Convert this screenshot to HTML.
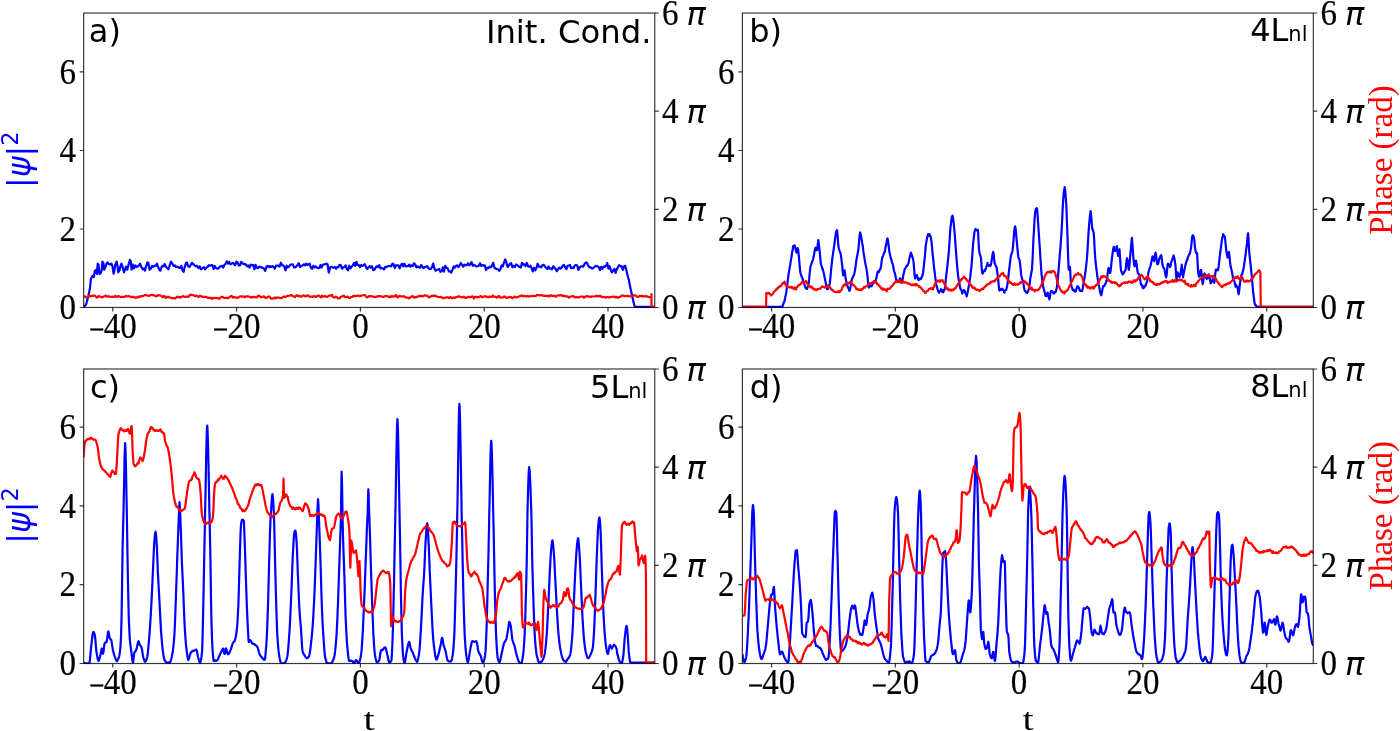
<!DOCTYPE html>
<html lang="en"><head><meta charset="utf-8"><title>Figure</title>
<style>html,body{margin:0;padding:0;background:#fff}svg{display:block}.tk{font-family:"Liberation Serif", serif;font-size:33px;fill:#000;stroke:#000;stroke-width:0.2px}.mn{font-size:27px}.pi{font-family:"DejaVu Sans", "Liberation Sans", sans-serif;font-style:italic;font-size:32px;fill:#000}.lb{font-family:"DejaVu Sans", "Liberation Sans", sans-serif;font-size:32px;fill:#000}.sm{font-family:"DejaVu Sans", "Liberation Sans", sans-serif;font-size:21px;fill:#000}.sp{fill:none;stroke:#000;stroke-opacity:0.78;stroke-width:1.2}.bl{fill:none;stroke:#0000ff;stroke-width:2.2;stroke-linejoin:round;stroke-linecap:butt}.rd{fill:none;stroke:#ff0000;stroke-width:2.2;stroke-linejoin:round;stroke-linecap:butt}</style></head><body>
<svg width="1400" height="731" viewBox="0 0 1400 731">
<rect width="1400" height="731" fill="#fff"/>
<defs>
<clipPath id="cpa"><rect x="83.65" y="13.05" width="571.1" height="295.1"/></clipPath>
<clipPath id="cpb"><rect x="742.4" y="13.05" width="570.9" height="295.1"/></clipPath>
<clipPath id="cpc"><rect x="83.65" y="369.0" width="571.1" height="295.1"/></clipPath>
<clipPath id="cpd"><rect x="742.4" y="369.0" width="570.9" height="295.1"/></clipPath>
</defs>
<g id="panel-a">
<g clip-path="url(#cpa)">
<path class="bl" d="M83.7,306.9 L86.0,304.8 L88.7,294.6 L90.0,287.7 L90.9,279.1 L92.1,276.6 L93.0,275.7 L93.9,277.0 L94.7,271.4 L95.6,270.1 L96.9,274.0 L97.7,263.7 L98.6,265.0 L99.4,274.0 L100.7,273.1 L101.6,270.6 L102.4,261.6 L103.3,262.9 L104.1,269.7 L105.4,267.1 L106.5,263.7 L107.6,262.4 L108.9,264.1 L110.1,264.6 L111.4,263.7 L112.5,266.3 L113.6,273.6 L114.4,270.6 L115.3,264.6 L116.6,261.6 L117.4,265.0 L118.3,272.3 L119.6,270.1 L120.4,266.3 L121.5,263.7 L122.6,267.1 L123.9,272.3 L125.0,269.3 L126.0,266.7 L127.3,269.7 L128.6,264.6 L129.9,259.9 L130.7,261.1 L131.6,269.7 L132.9,264.6 L134.1,268.4 L135.4,265.4 L136.7,267.1 L138.0,266.3 L139.3,265.0 L140.1,263.7 L141.4,267.1 L142.7,269.3 L144.0,268.4 L144.9,270.6 L146.1,266.3 L147.4,262.4 L148.3,262.9 L149.6,269.7 L150.9,268.4 L152.1,265.9 L153.4,266.7 L154.7,265.9 L156.0,265.4 L156.9,263.7 L158.1,267.1 L159.4,269.7 L160.3,270.6 L161.6,267.1 L162.4,265.9 L163.7,266.3 L164.6,264.1 L165.9,266.7 L167.1,268.0 L168.4,269.3 L169.7,265.4 L171.0,261.6 L172.3,263.7 L173.6,265.9 L174.9,265.4 L176.1,267.1 L177.4,266.7 L178.7,267.6 L180.0,268.0 L181.3,265.9 L182.6,270.6 L183.6,271.9 L184.7,267.1 L186.0,262.9 L186.9,262.4 L188.1,266.3 L189.4,267.1 L190.7,265.0 L192.0,262.9 L193.3,264.1 L194.6,265.4 L195.9,266.3 L197.1,265.9 L198.4,268.0 L199.7,266.3 L201.0,269.3 L202.3,268.4 L204.0,267.1 L205.2,269.4 L206.4,267.8 L207.6,266.7 L208.8,265.2 L210.0,265.7 L211.2,265.2 L212.4,265.2 L213.6,269.0 L214.8,266.0 L216.0,268.0 L217.2,268.6 L218.4,268.7 L219.6,266.8 L220.8,266.2 L222.0,265.8 L223.2,267.5 L224.4,264.7 L225.6,264.1 L226.8,261.3 L228.0,263.6 L229.2,262.0 L230.4,264.2 L231.6,263.7 L232.8,262.8 L234.0,263.9 L235.2,265.2 L236.4,261.7 L237.6,262.2 L238.8,265.5 L240.0,265.5 L241.2,261.9 L242.4,263.1 L243.6,264.2 L244.8,263.9 L246.0,264.7 L247.2,266.4 L248.4,265.5 L249.6,267.7 L250.8,264.6 L252.0,265.2 L253.2,265.0 L254.4,269.2 L255.6,264.9 L256.8,267.8 L258.0,268.3 L259.2,266.7 L260.4,266.8 L261.6,267.6 L262.8,267.7 L264.0,268.8 L265.2,270.9 L266.4,266.8 L267.6,265.8 L268.8,267.2 L270.0,266.1 L271.2,267.0 L272.4,266.2 L273.6,266.7 L274.8,268.7 L276.0,265.6 L277.2,265.6 L278.4,265.5 L279.6,266.6 L280.8,262.7 L282.0,264.9 L283.2,265.5 L284.4,266.9 L285.6,270.3 L286.8,265.7 L288.0,267.3 L289.2,266.3 L290.4,264.5 L291.6,264.5 L292.8,264.4 L294.0,267.4 L295.2,267.3 L296.4,266.4 L297.6,264.8 L298.8,263.2 L300.0,267.1 L301.2,265.8 L302.4,265.6 L303.6,264.5 L304.8,265.4 L306.0,263.7 L307.2,265.0 L308.4,264.3 L309.6,263.6 L310.8,267.5 L312.0,268.9 L313.2,265.8 L314.4,267.4 L315.6,266.4 L316.8,267.6 L318.0,268.2 L319.2,268.0 L320.4,265.1 L321.6,267.6 L322.8,264.7 L324.0,264.4 L325.2,264.1 L326.4,263.7 L327.6,264.5 L328.8,272.7 L330.0,267.7 L331.2,266.9 L332.4,267.3 L333.6,267.6 L334.8,266.8 L336.0,268.7 L337.2,267.1 L338.4,267.1 L339.6,264.8 L340.8,265.2 L342.0,268.6 L343.2,267.4 L344.4,266.9 L345.6,265.4 L346.8,268.8 L348.0,270.3 L349.2,265.7 L350.4,268.3 L351.6,266.8 L352.8,265.4 L354.0,262.9 L355.2,265.8 L356.4,261.9 L357.6,265.0 L358.8,265.1 L360.0,267.1 L361.2,265.0 L362.4,266.0 L363.6,265.1 L364.8,264.1 L366.0,267.2 L367.2,269.0 L368.4,267.5 L369.6,266.1 L370.8,267.4 L372.0,266.2 L373.2,270.1 L374.4,269.8 L375.6,267.7 L376.8,266.3 L378.0,267.0 L379.2,265.2 L380.4,268.3 L381.6,268.0 L382.8,268.3 L384.0,269.4 L385.2,266.9 L386.4,267.1 L387.6,266.3 L388.8,266.0 L390.0,266.0 L391.2,266.3 L392.4,263.7 L393.6,264.3 L394.8,268.0 L396.0,265.4 L397.2,265.3 L398.4,265.3 L399.6,268.3 L400.8,265.2 L402.0,263.8 L403.2,266.3 L404.4,263.7 L405.6,266.3 L406.8,266.1 L408.0,266.2 L409.2,264.6 L410.4,266.6 L411.6,265.3 L412.8,266.1 L414.0,263.3 L415.2,264.5 L416.4,267.4 L417.6,266.4 L418.8,267.3 L420.0,267.7 L421.2,264.9 L422.4,266.9 L423.6,268.1 L424.8,267.1 L426.0,266.8 L427.2,266.1 L428.4,268.2 L429.6,269.0 L430.8,269.0 L432.0,267.1 L433.2,263.5 L434.4,268.4 L435.6,270.7 L436.8,270.1 L438.0,269.6 L439.2,268.9 L440.4,271.8 L441.6,271.3 L442.8,267.4 L444.0,271.6 L445.2,265.9 L446.4,267.7 L447.6,268.2 L448.8,271.3 L450.0,271.3 L451.2,272.6 L452.4,270.0 L453.6,266.5 L454.8,267.8 L456.0,265.7 L457.2,265.4 L458.4,267.1 L459.6,265.4 L460.8,263.0 L462.0,264.8 L463.2,266.6 L464.4,264.7 L465.6,265.3 L466.8,265.2 L468.0,263.3 L469.2,265.3 L470.4,264.1 L471.6,262.1 L472.8,265.8 L474.0,264.9 L475.2,265.5 L476.4,266.5 L477.6,266.2 L478.8,265.8 L480.0,263.3 L481.2,265.9 L482.4,265.0 L483.6,265.7 L484.8,265.3 L486.0,270.1 L487.2,267.7 L488.4,268.2 L489.6,266.7 L490.8,267.3 L492.0,265.6 L493.2,262.8 L494.4,267.8 L495.6,268.5 L496.8,269.1 L498.0,269.4 L499.2,270.9 L500.4,269.3 L501.6,265.5 L502.8,266.3 L504.0,262.6 L505.2,259.5 L506.4,262.5 L507.6,267.0 L508.8,265.5 L510.0,263.8 L511.2,263.2 L512.4,267.2 L513.6,265.9 L514.8,267.0 L516.0,264.4 L517.2,264.9 L518.4,266.2 L519.6,267.0 L520.8,267.5 L522.0,262.8 L523.2,264.8 L524.4,264.4 L525.6,266.0 L526.8,263.0 L528.0,266.2 L529.2,266.8 L530.4,265.7 L531.6,268.1 L532.8,271.5 L534.0,267.8 L535.2,270.4 L536.4,268.0 L537.6,263.7 L538.8,266.6 L540.0,266.5 L541.2,267.4 L542.4,265.3 L543.6,264.8 L544.8,266.3 L546.0,267.8 L547.2,269.0 L548.4,266.4 L549.6,268.6 L550.8,268.4 L552.0,269.4 L553.2,266.3 L554.4,267.6 L555.6,268.8 L556.8,271.2 L558.0,269.3 L559.2,267.7 L560.4,268.7 L561.6,267.7 L562.8,265.6 L564.0,264.9 L565.2,267.3 L566.4,269.1 L567.6,265.8 L568.8,265.5 L570.0,265.0 L571.2,268.3 L572.4,267.5 L573.6,268.1 L574.8,265.6 L576.0,265.1 L577.2,265.6 L578.4,269.9 L579.6,267.4 L580.8,266.5 L582.0,266.2 L583.2,266.7 L584.4,264.2 L585.6,262.7 L586.8,262.5 L588.0,265.1 L589.2,267.1 L590.4,267.2 L591.6,268.3 L592.8,268.3 L594.0,267.3 L595.2,266.2 L596.4,266.1 L597.6,266.3 L598.8,267.1 L600.0,270.1 L601.2,266.9 L602.4,268.7 L603.6,266.5 L604.8,266.9 L606.0,265.8 L607.2,263.1 L608.4,268.6 L609.6,266.2 L610.8,269.9 L612.0,272.4 L613.2,270.4 L614.4,268.8 L615.6,273.0 L616.8,269.2 L618.0,267.0 L619.2,265.2 L620.4,266.3 L621.6,266.2 L622.8,269.9 L624.0,266.4 L625.2,265.8 L626.4,270.6 L627.6,275.5 L628.8,279.8 L630.0,286.1 L631.2,291.6 L632.4,297.0 L633.6,302.4 L634.8,306.8 L636.0,306.8 L637.2,306.8 L638.4,306.8 L639.6,306.8 L640.8,306.8 L642.0,306.8 L643.2,306.8 L644.4,306.8 L645.6,306.8 L646.8,306.8 L648.0,306.8 L649.2,306.8 L650.4,306.8 L651.6,306.8 L652.8,306.8 L654.0,306.8"/>
<path class="rd" d="M83.9,296.4 L84.9,296.4 L85.9,297.3 L86.9,297.4 L87.9,296.5 L88.9,296.1 L89.9,296.1 L90.9,296.3 L91.9,295.6 L92.9,295.8 L93.9,295.7 L94.9,295.7 L95.9,296.5 L96.9,297.7 L97.9,297.0 L98.9,296.0 L99.9,296.6 L100.9,296.9 L101.9,297.5 L102.9,297.1 L103.9,296.5 L104.9,296.1 L105.9,295.6 L106.9,296.4 L107.9,296.9 L108.9,296.2 L109.9,296.6 L110.9,296.8 L111.9,296.8 L112.9,296.7 L113.9,297.0 L114.9,296.3 L115.9,295.8 L116.9,297.2 L117.9,296.4 L118.9,296.1 L119.9,296.8 L120.9,297.1 L121.9,296.9 L122.9,296.8 L123.9,297.1 L124.9,296.7 L125.9,295.9 L126.9,296.2 L127.9,296.5 L128.9,296.2 L129.9,296.4 L130.9,297.0 L131.9,297.3 L132.9,296.7 L133.9,297.1 L134.9,297.7 L135.9,297.4 L136.9,297.7 L137.9,297.1 L138.9,296.3 L139.9,297.0 L140.9,296.2 L141.9,296.2 L142.9,296.0 L143.9,295.5 L144.9,295.0 L145.9,294.9 L146.9,295.4 L147.9,295.7 L148.9,296.0 L149.9,295.5 L150.9,295.1 L151.9,294.7 L152.9,295.2 L153.9,295.4 L154.9,295.7 L155.9,296.4 L156.9,296.1 L157.9,295.1 L158.9,295.3 L159.9,295.4 L160.9,295.5 L161.9,296.5 L162.9,297.3 L163.9,296.0 L164.9,296.5 L165.9,297.9 L166.9,297.3 L167.9,296.7 L168.9,297.3 L169.9,297.4 L170.9,297.8 L171.9,298.2 L172.9,298.2 L173.9,298.2 L174.9,298.5 L175.9,298.0 L176.9,296.8 L177.9,296.6 L178.9,297.4 L179.9,297.1 L180.9,297.3 L181.9,296.8 L182.9,296.0 L183.9,296.6 L184.9,296.8 L185.9,296.6 L186.9,296.5 L187.9,297.0 L188.9,296.5 L189.9,294.8 L190.9,294.6 L191.9,295.2 L192.9,295.0 L193.9,295.3 L194.9,296.2 L195.9,295.8 L196.9,295.5 L197.9,297.0 L198.9,296.8 L199.9,295.6 L200.9,296.2 L201.9,296.9 L202.9,296.5 L203.9,296.9 L204.9,297.0 L205.9,296.8 L206.9,297.4 L207.9,298.0 L208.9,297.7 L209.9,297.8 L210.9,297.8 L211.9,298.9 L212.9,297.9 L213.9,298.1 L214.9,298.2 L215.9,297.8 L216.9,298.1 L217.9,298.2 L218.9,298.7 L219.9,298.2 L220.9,297.2 L221.9,296.7 L222.9,297.1 L223.9,297.7 L224.9,298.1 L225.9,298.0 L226.9,297.7 L227.9,298.2 L228.9,297.6 L229.9,296.7 L230.9,296.1 L231.9,296.2 L232.9,297.6 L233.9,296.9 L234.9,297.2 L235.9,297.7 L236.9,297.7 L237.9,297.9 L238.9,297.0 L239.9,296.5 L240.9,296.3 L241.9,296.7 L242.9,296.4 L243.9,296.5 L244.9,297.3 L245.9,296.4 L246.9,296.3 L247.9,296.3 L248.9,296.5 L249.9,297.2 L250.9,297.0 L251.9,297.6 L252.9,296.7 L253.9,297.1 L254.9,297.2 L255.9,297.4 L256.9,297.3 L257.9,295.8 L258.9,295.6 L259.9,296.3 L260.9,297.3 L261.9,296.9 L262.9,296.8 L263.9,296.3 L264.9,297.1 L265.9,298.1 L266.9,297.6 L267.9,297.0 L268.9,296.3 L269.9,297.1 L270.9,298.7 L271.9,298.6 L272.9,298.4 L273.9,298.5 L274.9,297.5 L275.9,298.2 L276.9,297.7 L277.9,297.4 L278.9,297.7 L279.9,298.0 L280.9,298.1 L281.9,297.9 L282.9,297.1 L283.9,296.5 L284.9,296.7 L285.9,296.8 L286.9,296.0 L287.9,295.8 L288.9,295.8 L289.9,295.5 L290.9,295.1 L291.9,295.3 L292.9,296.0 L293.9,296.4 L294.9,297.2 L295.9,295.9 L296.9,295.1 L297.9,296.1 L298.9,296.1 L299.9,295.8 L300.9,296.8 L301.9,296.5 L302.9,295.5 L303.9,295.3 L304.9,296.1 L305.9,296.4 L306.9,295.7 L307.9,295.2 L308.9,296.2 L309.9,296.9 L310.9,296.6 L311.9,296.5 L312.9,296.9 L313.9,296.1 L314.9,296.4 L315.9,296.9 L316.9,296.5 L317.9,295.5 L318.9,295.7 L319.9,296.5 L320.9,297.5 L321.9,295.7 L322.9,296.6 L323.9,296.5 L324.9,296.0 L325.9,296.6 L326.9,296.8 L327.9,296.6 L328.9,295.5 L329.9,295.7 L330.9,295.6 L331.9,294.8 L332.9,296.9 L333.9,297.4 L334.9,297.5 L335.9,296.7 L336.9,297.2 L337.9,298.4 L338.9,298.5 L339.9,297.8 L340.9,296.8 L341.9,296.7 L342.9,296.0 L343.9,295.7 L344.9,297.0 L345.9,297.2 L346.9,296.7 L347.9,296.8 L348.9,297.9 L349.9,298.0 L350.9,297.0 L351.9,297.0 L352.9,296.3 L353.9,295.7 L354.9,296.3 L355.9,295.9 L356.9,295.8 L357.9,295.5 L358.9,295.6 L359.9,296.2 L360.9,295.7 L361.9,295.5 L362.9,295.3 L363.9,295.0 L364.9,295.0 L365.9,296.3 L366.9,297.4 L367.9,297.0 L368.9,296.1 L369.9,296.5 L370.9,296.1 L371.9,296.2 L372.9,296.6 L373.9,296.8 L374.9,297.1 L375.9,296.8 L376.9,296.7 L377.9,296.1 L378.9,296.2 L379.9,296.2 L380.9,296.3 L381.9,296.6 L382.9,296.8 L383.9,297.0 L384.9,296.0 L385.9,296.0 L386.9,296.2 L387.9,296.4 L388.9,297.2 L389.9,297.1 L390.9,296.1 L391.9,296.9 L392.9,296.2 L393.9,296.5 L394.9,296.4 L395.9,294.9 L396.9,296.5 L397.9,297.5 L398.9,296.1 L399.9,295.9 L400.9,296.3 L401.9,296.6 L402.9,296.4 L403.9,296.2 L404.9,297.0 L405.9,297.5 L406.9,297.6 L407.9,297.6 L408.9,298.3 L409.9,297.6 L410.9,297.0 L411.9,296.4 L412.9,296.1 L413.9,297.7 L414.9,297.4 L415.9,297.2 L416.9,297.2 L417.9,296.3 L418.9,296.1 L419.9,296.2 L420.9,295.7 L421.9,296.3 L422.9,296.3 L423.9,295.8 L424.9,295.2 L425.9,295.6 L426.9,296.1 L427.9,296.2 L428.9,297.3 L429.9,297.2 L430.9,296.2 L431.9,295.8 L432.9,295.7 L433.9,295.8 L434.9,295.6 L435.9,296.1 L436.9,296.4 L437.9,297.0 L438.9,297.2 L439.9,297.0 L440.9,296.9 L441.9,297.4 L442.9,298.2 L443.9,298.1 L444.9,297.7 L445.9,297.7 L446.9,297.3 L447.9,297.3 L448.9,298.2 L449.9,297.2 L450.9,297.2 L451.9,298.2 L452.9,297.8 L453.9,297.4 L454.9,297.9 L455.9,297.0 L456.9,297.1 L457.9,296.6 L458.9,296.3 L459.9,296.8 L460.9,296.9 L461.9,297.4 L462.9,297.4 L463.9,296.7 L464.9,297.6 L465.9,298.1 L466.9,297.5 L467.9,297.0 L468.9,296.7 L469.9,297.1 L470.9,297.2 L471.9,296.3 L472.9,296.5 L473.9,298.5 L474.9,296.8 L475.9,296.8 L476.9,297.4 L477.9,296.9 L478.9,297.1 L479.9,296.5 L480.9,296.1 L481.9,297.2 L482.9,297.1 L483.9,296.4 L484.9,296.4 L485.9,296.4 L486.9,297.1 L487.9,296.9 L488.9,297.1 L489.9,296.5 L490.9,297.0 L491.9,296.9 L492.9,295.5 L493.9,296.5 L494.9,296.9 L495.9,296.9 L496.9,297.8 L497.9,296.7 L498.9,296.0 L499.9,297.3 L500.9,297.4 L501.9,297.6 L502.9,297.5 L503.9,296.5 L504.9,296.7 L505.9,297.5 L506.9,298.0 L507.9,297.5 L508.9,297.2 L509.9,297.3 L510.9,296.9 L511.9,298.2 L512.9,298.1 L513.9,296.9 L514.9,296.6 L515.9,297.3 L516.9,297.5 L517.9,296.9 L518.9,296.4 L519.9,296.3 L520.9,295.7 L521.9,295.3 L522.9,296.3 L523.9,296.1 L524.9,295.8 L525.9,296.5 L526.9,296.3 L527.9,295.8 L528.9,296.6 L529.9,296.5 L530.9,295.8 L531.9,296.0 L532.9,296.3 L533.9,295.8 L534.9,296.1 L535.9,296.0 L536.9,294.9 L537.9,295.0 L538.9,295.3 L539.9,295.4 L540.9,294.9 L541.9,295.2 L542.9,295.7 L543.9,295.9 L544.9,295.7 L545.9,296.1 L546.9,295.9 L547.9,295.6 L548.9,296.5 L549.9,295.8 L550.9,295.2 L551.9,296.0 L552.9,295.8 L553.9,295.7 L554.9,296.2 L555.9,296.7 L556.9,295.6 L557.9,295.4 L558.9,295.5 L559.9,295.2 L560.9,295.4 L561.9,295.4 L562.9,296.3 L563.9,295.7 L564.9,296.0 L565.9,296.7 L566.9,296.3 L567.9,296.6 L568.9,297.6 L569.9,297.1 L570.9,296.5 L571.9,296.4 L572.9,295.9 L573.9,296.5 L574.9,297.5 L575.9,297.1 L576.9,297.1 L577.9,297.4 L578.9,297.4 L579.9,297.0 L580.9,296.5 L581.9,296.5 L582.9,296.6 L583.9,297.7 L584.9,297.1 L585.9,296.2 L586.9,296.0 L587.9,296.4 L588.9,296.6 L589.9,296.5 L590.9,296.9 L591.9,296.4 L592.9,296.5 L593.9,296.5 L594.9,296.7 L595.9,296.0 L596.9,295.7 L597.9,296.2 L598.9,296.3 L599.9,295.6 L600.9,296.6 L601.9,297.1 L602.9,296.8 L603.9,297.1 L604.9,297.0 L605.9,297.7 L606.9,297.1 L607.9,297.0 L608.9,297.5 L609.9,297.4 L610.9,297.0 L611.9,296.9 L612.9,296.6 L613.9,296.5 L614.9,297.3 L615.9,296.7 L616.9,297.2 L617.9,297.8 L618.9,297.1 L619.9,297.0 L620.9,296.2 L621.9,295.6 L622.9,295.4 L623.9,295.8 L624.9,296.2 L625.9,296.1 L626.9,296.2 L627.9,295.6 L628.9,296.3 L629.9,296.5 L630.9,296.1 L631.9,296.1 L632.9,295.7 L633.9,295.2 L634.9,295.3 L635.9,295.8 L636.9,296.5 L637.9,296.9 L638.9,296.5 L639.9,295.9 L640.9,295.8 L641.9,296.5 L642.9,295.8 L643.9,296.5 L644.9,296.5 L645.9,295.9 L646.9,296.4 L647.9,296.9 L648.9,297.0 L649.9,297.3 L651.4,296.5 L651.5,294.2 L651.5,306.8 L654.8,306.8"/>
</g>
<rect class="sp" x="83.65" y="13.05" width="571.1" height="294.4"/>
<path class="sp" d="M112.8,307.5v4 M236.6,307.5v4 M360.4,307.5v4 M484.2,307.5v4 M608.0,307.5v4 M83.65,307.5h-4 M83.65,229.0h-4 M83.65,150.5h-4 M83.65,71.9h-4 M654.8,307.5h4 M654.8,209.3h4 M654.8,111.2h4 M654.8,13.0h4"/>
<text class="tk" transform="translate(112.8,337.5) scale(1,1.06)" text-anchor="middle"><tspan class="mn" dy="1.6" stroke-width="0.45">−</tspan><tspan dy="-1.6" dx="-0.5">40</tspan></text>
<text class="tk" transform="translate(236.6,337.5) scale(1,1.06)" text-anchor="middle"><tspan class="mn" dy="1.6" stroke-width="0.45">−</tspan><tspan dy="-1.6" dx="-0.5">20</tspan></text>
<text class="tk" transform="translate(360.4,337.5) scale(1,1.06)" text-anchor="middle">0</text>
<text class="tk" transform="translate(484.2,337.5) scale(1,1.06)" text-anchor="middle">20</text>
<text class="tk" transform="translate(608.0,337.5) scale(1,1.06)" text-anchor="middle">40</text>
<text class="tk" transform="translate(75.9,319.1) scale(1,1.06)" text-anchor="end">0</text>
<text class="tk" transform="translate(75.9,240.6) scale(1,1.06)" text-anchor="end">2</text>
<text class="tk" transform="translate(75.9,162.1) scale(1,1.06)" text-anchor="end">4</text>
<text class="tk" transform="translate(75.9,83.5) scale(1,1.06)" text-anchor="end">6</text>
<text class="tk" transform="translate(662.0,319.1) scale(1,1.06)" text-anchor="start">0</text>
<text class="pi" x="686.4" y="319.3">π</text>
<text class="tk" transform="translate(662.0,220.9) scale(1,1.06)" text-anchor="start">2</text>
<text class="pi" x="686.4" y="221.2">π</text>
<text class="tk" transform="translate(662.0,122.8) scale(1,1.06)" text-anchor="start">4</text>
<text class="pi" x="686.4" y="123.0">π</text>
<text class="tk" transform="translate(662.0,24.6) scale(1,1.06)" text-anchor="start">6</text>
<text class="pi" x="686.4" y="24.8">π</text>
<text class="lb" x="88.85" y="42.25">a)</text>
<text class="lb" x="651.6" y="43.20" text-anchor="end" style="font-size:32.3px">Init. Cond.</text>
</g>
<g id="panel-b">
<g clip-path="url(#cpb)">
<path class="bl" d="M742.1,306.8 L742.6,306.8 L743.1,306.8 L743.6,306.8 L744.1,306.8 L744.6,306.8 L745.1,306.8 L745.6,306.8 L746.1,306.8 L746.6,306.8 L747.1,306.8 L747.6,306.8 L748.1,306.8 L748.6,306.8 L749.1,306.8 L749.6,306.8 L750.1,306.8 L750.6,306.8 L751.1,306.8 L751.6,306.8 L752.1,306.8 L752.6,306.8 L753.1,306.8 L753.6,306.8 L754.1,306.8 L754.6,306.8 L755.1,306.8 L755.6,306.8 L756.1,306.8 L756.6,306.8 L757.1,306.8 L757.6,306.8 L758.1,306.8 L758.6,306.8 L759.1,306.8 L759.6,306.8 L760.1,306.8 L760.6,306.8 L761.1,306.8 L761.6,306.8 L762.1,306.8 L762.6,306.8 L763.1,306.8 L763.6,306.8 L764.1,306.8 L764.6,306.8 L765.1,306.8 L765.6,306.8 L766.1,306.8 L766.6,306.8 L767.1,306.8 L767.6,306.8 L768.1,306.8 L768.6,306.8 L769.1,306.8 L769.6,306.8 L770.1,306.8 L770.6,306.8 L771.1,306.8 L771.6,306.8 L772.1,306.8 L772.6,306.8 L773.1,306.8 L773.6,306.8 L774.1,306.8 L774.6,306.8 L775.1,306.8 L775.6,306.8 L776.1,306.8 L776.6,306.8 L777.1,306.8 L777.6,306.8 L778.1,306.8 L778.6,306.8 L779.1,306.8 L779.6,306.8 L780.1,306.8 L780.6,306.8 L781.1,306.8 L781.6,306.8 L781.8,306.8 L782.1,306.8 L782.6,306.2 L783.1,304.7 L783.6,303.0 L784.1,302.1 L784.6,301.0 L785.1,298.0 L785.3,296.5 L785.6,295.9 L786.1,293.2 L786.6,289.6 L787.1,286.0 L787.6,282.1 L788.1,277.9 L788.6,274.0 L788.9,272.3 L789.1,271.0 L789.6,268.3 L790.1,265.4 L790.6,262.0 L791.1,259.0 L791.6,256.2 L792.1,252.6 L792.4,250.7 L792.6,250.0 L793.1,246.4 L793.3,245.9 L793.6,246.2 L794.1,245.7 L794.6,245.3 L795.1,246.6 L795.1,247.5 L795.6,248.7 L796.1,251.8 L796.5,251.7 L796.6,252.7 L797.1,250.5 L797.6,248.1 L797.8,248.5 L798.1,249.4 L798.6,254.2 L799.0,257.8 L799.1,259.1 L799.6,265.0 L800.1,270.2 L800.4,272.7 L800.6,273.4 L801.1,274.9 L801.6,276.5 L802.1,277.7 L802.6,278.8 L803.1,280.1 L803.1,280.5 L803.6,282.2 L804.1,283.6 L804.6,285.0 L805.1,287.0 L805.6,288.0 L806.1,288.6 L806.6,288.4 L806.7,288.3 L807.1,288.8 L807.6,287.3 L808.1,285.1 L808.4,284.3 L808.6,283.8 L809.1,279.7 L809.6,274.0 L810.1,269.6 L810.2,268.6 L810.6,266.1 L811.1,264.9 L811.6,263.3 L812.1,261.9 L812.6,260.5 L812.9,260.4 L813.1,259.4 L813.6,256.7 L814.1,254.1 L814.6,251.4 L815.1,248.8 L815.6,247.7 L815.6,249.5 L816.1,249.7 L816.6,249.9 L816.8,250.2 L817.1,250.1 L817.6,245.7 L818.1,241.4 L818.2,240.0 L818.6,242.0 L819.1,246.5 L819.6,250.7 L819.6,250.2 L820.1,255.6 L820.6,261.6 L820.9,263.5 L821.1,264.7 L821.6,265.9 L822.1,268.0 L822.6,269.4 L822.7,268.7 L823.1,270.4 L823.6,272.5 L824.1,274.7 L824.4,276.4 L824.6,277.5 L825.1,279.7 L825.6,281.9 L826.1,284.7 L826.6,287.6 L827.1,289.1 L827.5,289.0 L827.6,288.9 L828.1,288.7 L828.6,287.5 L829.1,286.1 L829.6,284.0 L829.8,283.0 L830.1,280.5 L830.6,275.6 L831.1,269.8 L831.6,265.2 L831.6,264.8 L832.1,260.5 L832.6,256.5 L833.1,253.2 L833.6,249.8 L834.1,246.2 L834.2,245.6 L834.6,242.5 L835.1,238.6 L835.6,235.0 L836.1,232.0 L836.6,230.6 L836.9,230.2 L837.1,230.4 L837.6,235.7 L838.1,242.7 L838.6,247.7 L838.7,247.8 L839.1,249.4 L839.6,250.8 L840.1,252.1 L840.4,252.8 L840.6,253.4 L841.1,256.6 L841.6,260.7 L842.1,264.8 L842.2,265.4 L842.6,271.2 L843.1,274.6 L843.1,275.4 L843.6,274.9 L844.1,272.3 L844.5,270.5 L844.6,270.3 L845.1,274.3 L845.6,278.3 L845.8,279.2 L846.1,281.1 L846.6,283.2 L847.1,284.9 L847.6,286.2 L848.1,287.9 L848.6,288.5 L849.1,289.2 L849.3,290.9 L849.6,290.4 L850.1,288.6 L850.6,286.7 L851.1,284.0 L851.6,281.0 L852.0,278.7 L852.1,278.5 L852.6,277.8 L853.1,276.3 L853.6,275.6 L854.1,274.7 L854.6,272.2 L854.7,272.0 L855.1,269.8 L855.6,266.1 L856.1,262.2 L856.4,260.2 L856.6,259.0 L857.1,256.2 L857.6,254.1 L858.1,251.5 L858.2,251.0 L858.6,247.3 L859.1,240.7 L859.6,235.1 L860.0,233.2 L860.1,232.4 L860.6,234.1 L861.1,236.3 L861.6,239.3 L862.1,242.5 L862.6,245.2 L862.7,245.7 L863.1,249.2 L863.6,252.7 L864.1,255.6 L864.4,257.6 L864.6,259.2 L865.1,262.3 L865.6,264.8 L866.1,266.7 L866.6,269.6 L867.1,272.9 L867.1,272.8 L867.6,277.1 L868.1,282.4 L868.6,287.0 L868.9,287.6 L869.1,286.0 L869.6,286.1 L870.1,286.4 L870.6,285.9 L871.1,285.3 L871.6,285.6 L871.6,286.3 L872.1,285.4 L872.6,283.8 L873.1,283.3 L873.6,282.0 L874.1,281.1 L874.6,281.5 L875.1,281.4 L875.1,282.5 L875.6,281.4 L876.1,278.9 L876.6,276.9 L877.1,274.5 L877.6,272.2 L877.8,271.9 L878.1,271.4 L878.6,272.2 L879.1,271.7 L879.6,269.8 L880.1,269.2 L880.4,269.2 L880.6,268.7 L881.1,265.7 L881.6,261.6 L882.1,258.0 L882.2,257.9 L882.6,256.8 L883.1,256.0 L883.6,254.4 L884.1,253.0 L884.6,252.0 L884.9,251.2 L885.1,250.1 L885.6,247.0 L886.1,244.5 L886.6,242.2 L887.1,239.2 L887.6,238.5 L887.6,239.1 L888.1,241.2 L888.6,245.7 L889.1,249.6 L889.3,251.0 L889.6,252.7 L890.1,255.1 L890.6,257.4 L891.1,258.8 L891.6,260.6 L892.0,262.5 L892.1,262.6 L892.6,263.7 L893.1,265.8 L893.6,268.5 L894.1,271.0 L894.6,272.7 L894.7,272.5 L895.1,274.1 L895.6,276.8 L896.1,279.3 L896.4,279.5 L896.6,279.8 L897.1,280.8 L897.6,281.5 L898.1,281.7 L898.6,282.2 L899.1,282.0 L899.1,281.6 L899.6,279.4 L900.0,278.2 L900.1,278.4 L900.6,279.7 L901.1,280.4 L901.6,279.6 L901.8,279.9 L902.1,281.3 L902.6,279.6 L903.1,276.3 L903.6,274.0 L904.1,272.4 L904.4,270.3 L904.6,269.3 L905.1,268.7 L905.6,267.8 L906.1,266.8 L906.6,266.4 L907.1,265.6 L907.1,265.9 L907.6,264.9 L908.1,264.0 L908.6,262.8 L908.9,261.1 L909.1,259.9 L909.6,257.5 L910.1,255.4 L910.6,254.9 L910.7,252.8 L911.1,252.7 L911.6,254.7 L912.1,256.1 L912.6,257.7 L913.1,259.2 L913.3,260.6 L913.6,262.5 L914.1,268.4 L914.6,275.1 L915.1,278.5 L915.1,277.8 L915.6,276.5 L916.1,275.7 L916.6,275.0 L916.9,275.1 L917.1,276.5 L917.6,277.6 L918.1,279.6 L918.6,280.0 L918.7,279.1 L919.1,279.7 L919.6,278.6 L920.1,278.5 L920.6,279.0 L921.1,278.7 L921.6,277.4 L922.1,276.4 L922.2,276.0 L922.6,275.0 L923.1,272.7 L923.6,268.5 L924.1,263.7 L924.6,258.7 L924.9,256.3 L925.1,253.5 L925.6,247.0 L925.8,245.5 L926.1,243.4 L926.6,240.6 L927.1,237.7 L927.6,235.8 L928.1,234.2 L928.4,234.9 L928.6,235.7 L929.1,234.1 L929.6,234.3 L930.1,235.9 L930.6,236.8 L931.1,239.1 L931.1,239.1 L931.6,242.2 L932.1,247.7 L932.6,253.7 L932.9,256.6 L933.1,258.2 L933.6,263.1 L934.1,268.1 L934.6,272.1 L934.7,272.5 L935.1,276.1 L935.6,280.0 L936.1,283.9 L936.4,285.6 L936.6,286.1 L937.1,287.7 L937.6,289.4 L938.1,290.8 L938.6,292.2 L939.1,292.7 L939.1,291.7 L939.6,291.1 L940.1,290.8 L940.6,290.5 L940.9,290.1 L941.1,289.2 L941.6,290.6 L942.1,292.0 L942.6,290.8 L942.7,290.3 L943.1,292.2 L943.6,291.7 L944.1,289.8 L944.4,289.4 L944.6,289.6 L945.1,286.2 L945.6,281.5 L946.1,276.6 L946.2,275.7 L946.6,272.5 L947.1,268.6 L947.6,264.2 L948.1,259.4 L948.6,254.2 L948.9,251.0 L949.1,247.7 L949.6,240.3 L950.1,232.4 L950.6,225.9 L950.7,226.1 L951.1,222.3 L951.6,218.0 L952.1,216.2 L952.4,216.0 L952.6,215.7 L953.1,218.4 L953.6,222.4 L954.1,227.2 L954.2,228.2 L954.6,232.8 L955.1,239.2 L955.6,246.3 L956.0,251.3 L956.1,252.7 L956.6,259.4 L957.1,265.6 L957.6,270.8 L957.8,272.6 L958.1,275.7 L958.6,278.9 L959.1,281.4 L959.6,284.0 L959.6,285.2 L960.1,287.7 L960.6,289.1 L961.1,289.5 L961.6,291.0 L962.1,292.8 L962.2,293.7 L962.6,292.5 L963.1,290.8 L963.6,290.1 L964.0,291.3 L964.1,291.1 L964.6,290.6 L965.1,291.9 L965.6,293.4 L966.1,294.3 L966.6,296.0 L966.7,296.4 L967.1,294.4 L967.6,292.4 L968.1,289.9 L968.6,287.3 L969.1,284.6 L969.3,283.1 L969.6,281.0 L970.1,277.7 L970.6,273.6 L971.1,269.4 L971.6,265.4 L971.6,264.4 L972.1,258.3 L972.6,250.8 L973.1,244.0 L973.3,242.0 L973.6,239.5 L974.1,234.9 L974.6,231.2 L975.1,230.6 L975.1,230.2 L975.6,229.0 L976.1,229.8 L976.6,230.3 L977.1,230.5 L977.6,231.1 L977.8,229.8 L978.1,232.2 L978.6,242.2 L979.1,250.7 L979.2,251.2 L979.6,253.1 L980.1,254.8 L980.6,256.7 L981.0,258.3 L981.1,259.8 L981.6,267.0 L982.1,272.3 L982.2,272.1 L982.6,273.6 L983.1,272.9 L983.6,271.5 L984.1,271.0 L984.6,269.8 L984.9,271.0 L985.1,270.6 L985.6,269.2 L986.1,267.8 L986.6,266.1 L987.1,264.6 L987.6,262.9 L987.6,264.7 L988.1,265.7 L988.6,265.1 L989.1,265.4 L989.6,265.1 L990.1,265.2 L990.2,266.1 L990.6,265.5 L991.1,263.8 L991.6,260.6 L992.0,257.9 L992.1,257.0 L992.6,254.1 L993.1,252.6 L993.2,251.8 L993.6,253.3 L994.1,258.9 L994.6,263.4 L994.7,262.9 L995.1,264.3 L995.6,265.6 L996.1,266.0 L996.4,266.9 L996.6,267.3 L997.1,270.8 L997.6,274.9 L998.1,278.5 L998.2,279.3 L998.6,283.9 L999.1,289.0 L999.5,290.6 L999.6,290.2 L1000.1,289.8 L1000.6,289.9 L1001.1,288.9 L1001.6,289.3 L1001.8,289.7 L1002.1,288.7 L1002.6,289.2 L1003.1,289.7 L1003.6,290.4 L1004.1,292.0 L1004.4,292.7 L1004.6,291.3 L1005.1,290.3 L1005.6,290.3 L1006.1,289.8 L1006.6,288.4 L1006.6,288.1 L1007.1,286.3 L1007.6,283.1 L1008.1,279.0 L1008.6,274.4 L1008.9,272.2 L1009.1,270.0 L1009.6,266.2 L1010.1,262.0 L1010.6,257.8 L1011.1,255.1 L1011.2,255.1 L1011.6,253.5 L1012.1,252.4 L1012.4,251.2 L1012.6,250.1 L1013.1,245.6 L1013.6,239.2 L1014.1,232.7 L1014.6,227.8 L1015.1,226.3 L1015.1,226.6 L1015.6,228.3 L1016.1,233.6 L1016.6,239.7 L1016.9,242.3 L1017.1,244.8 L1017.6,250.3 L1018.1,255.0 L1018.3,256.5 L1018.6,257.9 L1019.1,258.8 L1019.6,260.5 L1020.1,263.4 L1020.1,263.8 L1020.6,268.7 L1021.1,274.4 L1021.3,275.5 L1021.6,276.8 L1022.1,278.5 L1022.6,280.5 L1023.1,281.8 L1023.1,281.4 L1023.6,284.6 L1024.1,287.9 L1024.6,290.2 L1024.9,290.8 L1025.1,291.0 L1025.6,291.7 L1026.1,292.4 L1026.6,291.6 L1026.7,292.5 L1027.1,292.9 L1027.6,292.0 L1028.1,291.3 L1028.6,289.9 L1029.0,289.1 L1029.1,288.2 L1029.6,284.9 L1030.1,280.0 L1030.2,279.0 L1030.6,276.9 L1031.1,274.2 L1031.6,271.3 L1032.0,268.9 L1032.1,267.4 L1032.6,258.5 L1033.1,246.5 L1033.6,235.6 L1033.8,233.5 L1034.1,227.4 L1034.6,219.2 L1035.1,212.9 L1035.6,210.0 L1035.6,210.2 L1036.1,208.7 L1036.6,208.2 L1037.0,208.5 L1037.1,208.9 L1037.6,214.9 L1038.1,223.2 L1038.2,224.4 L1038.6,230.2 L1039.1,237.8 L1039.6,245.4 L1040.0,250.8 L1040.1,252.9 L1040.6,260.6 L1041.1,268.5 L1041.6,274.8 L1041.8,275.4 L1042.1,279.0 L1042.6,283.3 L1043.1,286.4 L1043.6,288.6 L1043.6,288.5 L1044.1,290.2 L1044.6,291.9 L1045.1,294.1 L1045.6,296.0 L1046.1,295.1 L1046.2,295.3 L1046.6,296.1 L1047.1,294.1 L1047.6,292.6 L1048.0,293.5 L1048.1,294.2 L1048.6,296.5 L1049.1,298.9 L1049.4,299.3 L1049.6,298.5 L1050.1,295.4 L1050.6,292.2 L1051.0,291.0 L1051.1,291.1 L1051.6,291.5 L1052.1,291.1 L1052.6,291.9 L1053.1,292.5 L1053.3,292.6 L1053.6,293.7 L1054.1,293.4 L1054.6,292.4 L1055.1,291.8 L1055.6,292.0 L1056.0,291.1 L1056.1,290.0 L1056.6,288.7 L1057.1,285.6 L1057.4,282.9 L1057.6,281.1 L1058.1,275.9 L1058.6,269.6 L1059.1,263.1 L1059.6,257.9 L1059.6,256.9 L1060.1,251.3 L1060.6,245.1 L1061.1,238.1 L1061.6,230.6 L1061.7,229.7 L1062.1,221.1 L1062.6,210.1 L1063.1,201.4 L1063.1,201.1 L1063.6,194.5 L1064.1,189.5 L1064.5,189.5 L1064.6,187.1 L1065.1,189.4 L1065.6,195.3 L1066.1,202.4 L1066.3,205.1 L1066.6,211.7 L1067.1,226.3 L1067.6,238.8 L1067.6,240.9 L1068.1,256.5 L1068.6,268.3 L1068.8,269.7 L1069.1,268.5 L1069.6,267.0 L1069.9,266.9 L1070.1,268.8 L1070.6,278.3 L1071.1,284.7 L1071.1,284.5 L1071.6,286.7 L1072.1,287.8 L1072.6,289.8 L1073.1,290.4 L1073.6,290.4 L1073.8,290.2 L1074.1,290.0 L1074.6,291.3 L1075.1,291.3 L1075.6,291.2 L1075.6,291.7 L1076.1,289.9 L1076.6,288.4 L1077.1,286.8 L1077.3,286.3 L1077.6,286.2 L1078.1,286.6 L1078.6,287.4 L1079.1,288.4 L1079.5,289.9 L1079.6,290.5 L1080.1,290.7 L1080.6,290.9 L1081.1,290.8 L1081.6,290.6 L1081.8,290.3 L1082.1,291.0 L1082.6,289.0 L1083.1,285.4 L1083.6,283.1 L1083.6,282.5 L1084.1,280.2 L1084.6,277.4 L1085.1,273.5 L1085.3,272.6 L1085.6,270.9 L1086.1,266.5 L1086.6,261.6 L1087.1,256.6 L1087.1,256.4 L1087.6,248.8 L1088.1,239.9 L1088.6,231.5 L1088.9,227.9 L1089.1,224.8 L1089.6,219.3 L1090.1,214.6 L1090.6,211.1 L1090.7,211.8 L1091.1,215.1 L1091.6,221.2 L1092.1,227.5 L1092.4,229.7 L1092.6,229.3 L1093.1,230.4 L1093.6,232.6 L1093.7,232.8 L1094.1,238.3 L1094.6,248.2 L1095.1,256.3 L1095.1,256.7 L1095.6,262.1 L1096.1,266.6 L1096.6,270.3 L1096.9,272.4 L1097.1,274.5 L1097.6,278.2 L1098.1,282.1 L1098.6,285.1 L1098.7,285.0 L1099.1,286.5 L1099.6,289.1 L1100.1,292.0 L1100.6,293.8 L1101.1,294.8 L1101.3,295.3 L1101.6,294.2 L1102.1,291.2 L1102.6,288.4 L1103.1,286.4 L1103.1,286.0 L1103.6,286.0 L1104.1,286.2 L1104.6,285.5 L1104.9,284.6 L1105.1,284.1 L1105.6,283.7 L1106.1,282.2 L1106.6,280.0 L1106.7,281.1 L1107.1,279.0 L1107.6,274.0 L1108.1,270.0 L1108.4,268.7 L1108.6,267.9 L1109.1,269.6 L1109.6,271.2 L1110.1,272.2 L1110.2,273.0 L1110.6,270.7 L1111.1,266.4 L1111.6,261.1 L1112.0,257.6 L1112.1,257.3 L1112.6,253.3 L1113.1,249.4 L1113.6,247.2 L1113.8,246.8 L1114.1,248.0 L1114.6,249.7 L1115.1,251.0 L1115.6,250.4 L1115.6,250.1 L1116.1,248.8 L1116.6,246.6 L1116.8,246.1 L1117.1,247.8 L1117.6,252.5 L1118.1,255.8 L1118.2,254.4 L1118.6,253.6 L1119.1,250.7 L1119.5,249.3 L1119.6,250.9 L1120.1,258.0 L1120.6,266.5 L1120.9,269.2 L1121.1,270.4 L1121.6,272.0 L1122.1,272.7 L1122.6,274.1 L1122.7,274.5 L1123.1,273.3 L1123.6,273.3 L1124.1,272.5 L1124.6,271.3 L1125.1,270.4 L1125.3,270.7 L1125.6,269.7 L1126.1,265.3 L1126.6,260.2 L1127.1,258.2 L1127.1,258.5 L1127.6,260.5 L1128.1,264.8 L1128.6,268.9 L1128.9,270.0 L1129.1,267.9 L1129.6,263.6 L1130.1,257.4 L1130.6,251.3 L1130.7,251.0 L1131.1,245.9 L1131.6,240.4 L1131.9,237.9 L1132.1,240.1 L1132.6,246.6 L1133.1,254.1 L1133.3,256.3 L1133.6,259.8 L1134.1,264.4 L1134.6,266.3 L1134.6,264.8 L1135.1,263.3 L1135.6,261.3 L1136.0,260.7 L1136.1,261.5 L1136.6,264.2 L1137.1,268.2 L1137.6,271.9 L1137.8,273.2 L1138.1,273.5 L1138.6,273.5 L1139.1,274.5 L1139.6,276.0 L1139.6,276.1 L1140.1,278.9 L1140.6,282.4 L1141.1,284.9 L1141.3,285.1 L1141.6,284.6 L1142.1,285.6 L1142.6,287.6 L1143.1,288.2 L1143.6,288.1 L1144.0,287.4 L1144.1,286.2 L1144.6,286.3 L1145.1,286.4 L1145.6,285.6 L1146.1,283.9 L1146.6,282.2 L1146.7,282.7 L1147.1,281.2 L1147.6,278.3 L1148.1,274.7 L1148.4,272.1 L1148.6,271.6 L1149.1,270.0 L1149.6,268.2 L1150.1,267.1 L1150.6,265.2 L1151.1,263.1 L1151.1,263.1 L1151.6,260.8 L1152.1,258.1 L1152.6,256.3 L1152.9,257.0 L1153.1,257.4 L1153.6,259.5 L1154.1,261.1 L1154.6,259.1 L1155.1,254.6 L1155.6,252.9 L1155.6,252.5 L1156.1,255.3 L1156.6,259.9 L1157.1,263.8 L1157.3,264.2 L1157.6,264.1 L1158.1,263.9 L1158.6,261.7 L1159.1,260.1 L1159.1,259.2 L1159.6,258.0 L1160.1,257.4 L1160.6,255.9 L1161.1,255.1 L1161.2,255.3 L1161.6,257.1 L1162.1,261.5 L1162.6,265.2 L1162.7,265.5 L1163.1,266.6 L1163.6,267.8 L1164.1,268.2 L1164.4,269.2 L1164.6,270.1 L1165.1,272.7 L1165.6,275.9 L1166.1,277.5 L1166.2,276.8 L1166.6,275.5 L1167.1,270.1 L1167.6,264.5 L1168.0,263.7 L1168.1,264.5 L1168.6,264.2 L1169.1,265.0 L1169.6,266.2 L1170.1,267.1 L1170.6,265.9 L1171.1,262.9 L1171.6,260.9 L1171.6,261.2 L1172.1,260.0 L1172.6,258.7 L1173.1,256.8 L1173.6,255.4 L1173.9,256.9 L1174.1,257.3 L1174.6,259.5 L1175.1,262.9 L1175.5,265.5 L1175.6,267.1 L1176.1,275.4 L1176.5,279.3 L1176.6,279.0 L1177.1,275.4 L1177.6,272.3 L1177.8,273.8 L1178.1,273.8 L1178.6,274.6 L1179.1,276.5 L1179.6,276.9 L1179.6,276.0 L1180.1,275.4 L1180.6,272.6 L1181.1,269.1 L1181.6,266.4 L1181.7,264.7 L1182.1,268.9 L1182.6,274.4 L1183.1,277.4 L1183.1,276.5 L1183.6,274.1 L1184.1,271.6 L1184.6,269.1 L1184.9,267.8 L1185.1,266.6 L1185.6,264.4 L1186.1,262.6 L1186.6,260.7 L1187.1,259.8 L1187.6,259.6 L1187.6,257.9 L1188.1,256.7 L1188.6,255.6 L1189.1,254.3 L1189.3,254.6 L1189.6,254.2 L1190.1,252.6 L1190.6,249.9 L1191.1,247.8 L1191.1,247.5 L1191.6,242.3 L1192.1,237.1 L1192.5,236.0 L1192.6,235.4 L1193.1,235.4 L1193.6,236.7 L1194.1,238.4 L1194.1,238.6 L1194.6,242.8 L1195.1,248.3 L1195.6,251.0 L1195.6,251.8 L1196.1,252.9 L1196.6,252.7 L1197.0,252.9 L1197.1,253.9 L1197.6,262.7 L1198.1,271.7 L1198.2,272.5 L1198.6,274.9 L1199.1,276.7 L1199.5,276.0 L1199.6,276.1 L1200.1,273.5 L1200.6,270.2 L1200.9,271.3 L1201.1,270.1 L1201.6,273.7 L1202.1,279.4 L1202.6,283.3 L1202.7,284.1 L1203.1,281.7 L1203.6,277.8 L1204.1,274.7 L1204.4,274.0 L1204.6,273.5 L1205.1,274.7 L1205.6,276.3 L1206.1,277.6 L1206.6,279.0 L1207.1,277.9 L1207.1,278.2 L1207.6,278.3 L1208.1,276.4 L1208.6,275.1 L1208.9,274.5 L1209.1,275.6 L1209.6,277.8 L1210.1,280.5 L1210.6,282.6 L1210.7,283.2 L1211.1,283.0 L1211.6,281.8 L1212.1,280.7 L1212.4,279.9 L1212.6,279.1 L1213.1,279.7 L1213.6,281.2 L1214.1,282.7 L1214.2,282.8 L1214.6,280.8 L1215.1,275.7 L1215.6,271.1 L1216.0,269.6 L1216.1,269.4 L1216.6,270.3 L1217.1,269.9 L1217.6,270.1 L1217.8,270.3 L1218.1,269.9 L1218.6,266.9 L1219.1,262.1 L1219.6,258.2 L1219.6,257.7 L1220.1,253.7 L1220.6,249.5 L1221.1,245.9 L1221.3,244.5 L1221.6,241.9 L1222.1,238.6 L1222.6,236.7 L1223.1,235.5 L1223.1,234.2 L1223.6,235.2 L1224.1,235.8 L1224.6,236.4 L1224.9,237.5 L1225.1,238.8 L1225.6,243.8 L1226.1,249.3 L1226.1,249.6 L1226.6,252.3 L1227.1,255.6 L1227.6,257.6 L1227.6,257.2 L1228.1,255.8 L1228.6,252.9 L1229.0,251.9 L1229.1,252.8 L1229.6,257.1 L1230.1,262.5 L1230.2,263.6 L1230.6,266.4 L1231.1,268.3 L1231.6,270.3 L1232.0,272.2 L1232.1,272.8 L1232.6,275.5 L1233.1,278.5 L1233.6,280.1 L1233.8,279.7 L1234.1,280.3 L1234.6,282.0 L1235.1,284.8 L1235.6,286.7 L1235.6,285.4 L1236.1,285.0 L1236.6,286.3 L1237.1,286.8 L1237.3,286.5 L1237.6,288.0 L1238.1,291.7 L1238.6,293.7 L1238.6,294.3 L1239.1,291.6 L1239.6,287.0 L1240.1,282.4 L1240.4,280.7 L1240.6,279.5 L1241.1,277.1 L1241.6,274.4 L1241.8,274.8 L1242.1,274.3 L1242.6,272.1 L1243.1,270.5 L1243.6,268.8 L1243.6,267.9 L1244.1,265.2 L1244.6,261.7 L1245.1,257.5 L1245.3,256.5 L1245.6,254.6 L1246.1,250.5 L1246.6,246.4 L1247.1,242.1 L1247.1,241.7 L1247.6,235.8 L1248.0,233.3 L1248.1,233.2 L1248.6,240.3 L1249.1,249.5 L1249.2,251.3 L1249.6,255.6 L1250.1,260.3 L1250.6,265.0 L1250.7,265.6 L1251.1,269.9 L1251.6,274.7 L1252.1,279.7 L1252.1,280.0 L1252.6,285.9 L1253.1,291.5 L1253.3,293.2 L1253.6,295.6 L1254.1,299.5 L1254.6,303.3 L1255.1,305.0 L1255.1,304.2 L1255.6,305.2 L1256.1,305.4 L1256.6,306.7 L1256.9,306.8 L1257.1,306.8 L1257.6,306.8 L1258.1,306.8 L1258.6,306.8 L1259.1,306.8 L1259.6,306.8 L1260.1,306.8 L1260.6,306.8 L1261.1,306.8 L1261.6,306.8 L1262.1,306.8 L1262.6,306.8 L1263.1,306.8 L1263.6,306.8 L1264.1,306.8 L1264.6,306.8 L1265.1,306.8 L1265.6,306.8 L1266.1,306.8 L1266.6,306.8 L1267.1,306.8 L1267.6,306.8 L1268.1,306.8 L1268.6,306.8 L1269.1,306.8 L1269.6,306.8 L1270.1,306.8 L1270.6,306.8 L1271.1,306.8 L1271.6,306.8 L1272.1,306.8 L1272.6,306.8 L1273.1,306.8 L1273.6,306.8 L1274.1,306.8 L1274.6,306.8 L1275.1,306.8 L1275.6,306.8 L1276.1,306.8 L1276.6,306.8 L1277.1,306.8 L1277.6,306.8 L1278.1,306.8 L1278.6,306.8 L1279.1,306.8 L1279.6,306.8 L1280.1,306.8 L1280.6,306.8 L1281.1,306.8 L1281.6,306.8 L1282.1,306.8 L1282.6,306.8 L1283.1,306.8 L1283.6,306.8 L1284.1,306.8 L1284.6,306.8 L1285.1,306.8 L1285.6,306.8 L1286.1,306.8 L1286.6,306.8 L1287.1,306.8 L1287.6,306.8 L1288.1,306.8 L1288.6,306.8 L1289.1,306.8 L1289.6,306.8 L1290.1,306.8 L1290.6,306.8 L1291.1,306.8 L1291.6,306.8 L1292.1,306.8 L1292.6,306.8 L1293.1,306.8 L1293.6,306.8 L1294.1,306.8 L1294.6,306.8 L1295.1,306.8 L1295.6,306.8 L1296.1,306.8 L1296.6,306.8 L1297.1,306.8 L1297.6,306.8 L1298.1,306.8 L1298.6,306.8 L1299.1,306.8 L1299.6,306.8 L1300.1,306.8 L1300.6,306.8 L1301.1,306.8 L1301.6,306.8 L1302.1,306.8 L1302.6,306.8 L1303.1,306.8 L1303.6,306.8 L1304.1,306.8 L1304.6,306.8 L1305.1,306.8 L1305.6,306.8 L1306.1,306.8 L1306.6,306.8 L1307.1,306.8 L1307.6,306.8 L1308.1,306.8 L1308.6,306.8 L1309.1,306.8 L1309.6,306.8 L1310.1,306.8 L1310.6,306.8 L1311.1,306.8 L1311.6,306.8 L1312.1,306.8 L1312.6,306.8 L1313.1,306.8 L1313.6,306.8 L1313.8,306.8"/>
<path class="rd" d="M742.1,306.8 L742.6,306.8 L743.1,306.8 L743.6,306.8 L744.1,306.8 L744.6,306.8 L745.1,306.8 L745.6,306.8 L746.1,306.8 L746.6,306.8 L747.1,306.8 L747.6,306.8 L748.1,306.8 L748.6,306.8 L749.1,306.8 L749.6,306.8 L750.1,306.8 L750.6,306.8 L751.1,306.8 L751.6,306.8 L752.1,306.8 L752.6,306.8 L753.1,306.8 L753.6,306.8 L754.1,306.8 L754.6,306.8 L755.1,306.8 L755.6,306.8 L756.1,306.8 L756.6,306.8 L757.1,306.8 L757.6,306.8 L758.1,306.8 L758.6,306.8 L759.1,306.8 L759.6,306.8 L760.1,306.8 L760.6,306.8 L761.1,306.8 L761.6,306.8 L762.1,306.8 L762.6,306.8 L763.1,306.8 L763.6,306.8 L764.1,306.8 L764.6,306.8 L765.1,306.8 L765.6,306.8 L766.1,306.8 L766.3,292.9 L766.6,293.1 L767.1,293.7 L767.6,293.5 L768.1,293.3 L768.4,293.4 L768.6,292.8 L769.1,293.0 L769.6,294.2 L770.1,294.1 L770.6,294.5 L771.1,295.2 L771.1,295.4 L771.6,295.2 L772.1,294.5 L772.6,294.1 L773.1,293.2 L773.6,292.5 L774.1,291.9 L774.6,291.3 L774.7,291.1 L775.1,290.7 L775.6,290.5 L776.1,289.5 L776.6,288.9 L777.1,288.9 L777.3,289.1 L777.6,287.9 L778.1,287.3 L778.6,287.6 L779.1,287.0 L779.6,286.2 L780.1,286.4 L780.6,286.0 L780.9,285.6 L781.1,286.1 L781.6,284.9 L782.1,283.8 L782.6,283.2 L783.1,282.8 L783.6,283.2 L784.1,283.5 L784.4,282.3 L784.6,281.5 L785.1,282.9 L785.6,284.5 L786.1,285.7 L786.6,286.1 L787.1,286.5 L787.1,286.8 L787.6,286.8 L788.1,286.6 L788.6,287.0 L789.1,287.5 L789.6,287.4 L790.1,287.2 L790.6,286.9 L791.1,286.8 L791.6,287.8 L791.6,287.9 L792.1,287.0 L792.6,287.7 L793.1,288.5 L793.6,288.9 L794.1,288.8 L794.6,287.9 L795.1,287.3 L795.6,288.0 L796.0,289.6 L796.1,288.7 L796.6,287.4 L797.1,287.4 L797.6,286.7 L798.1,285.8 L798.6,285.3 L799.1,284.8 L799.6,285.0 L799.6,284.9 L800.1,284.5 L800.6,284.0 L801.1,283.6 L801.6,282.7 L802.1,281.9 L802.6,282.6 L803.1,282.7 L803.6,282.4 L804.0,282.6 L804.1,282.8 L804.6,282.5 L805.1,282.2 L805.6,281.7 L805.8,281.0 L806.1,281.1 L806.6,282.0 L807.1,283.0 L807.6,284.1 L808.1,285.3 L808.4,285.8 L808.6,285.9 L809.1,285.4 L809.6,285.7 L810.1,286.7 L810.6,287.2 L811.1,287.5 L811.6,287.0 L812.1,286.7 L812.6,287.9 L812.9,288.5 L813.1,288.6 L813.6,289.3 L814.1,288.9 L814.6,288.8 L815.1,289.6 L815.6,290.0 L816.1,290.2 L816.4,290.2 L816.6,290.0 L817.1,289.3 L817.6,289.0 L818.1,289.1 L818.6,289.0 L819.1,288.8 L819.6,288.7 L820.0,288.9 L820.1,288.8 L820.6,288.2 L821.1,287.7 L821.6,287.0 L822.1,286.6 L822.6,286.4 L822.7,286.6 L823.1,286.9 L823.6,287.1 L824.1,286.9 L824.6,287.2 L825.1,287.6 L825.3,287.0 L825.6,287.2 L826.1,287.0 L826.6,286.9 L827.1,286.5 L827.6,285.8 L828.0,285.6 L828.1,286.5 L828.6,287.0 L829.1,286.5 L829.6,286.9 L830.1,287.4 L830.6,288.5 L831.1,289.1 L831.6,289.3 L832.1,290.4 L832.4,289.9 L832.6,289.9 L833.1,291.1 L833.6,291.4 L834.1,291.4 L834.6,291.8 L835.1,292.0 L835.6,292.0 L836.1,292.0 L836.6,292.2 L836.9,291.9 L837.1,291.9 L837.6,292.1 L838.1,291.3 L838.6,291.4 L839.1,292.2 L839.6,292.2 L840.1,291.2 L840.6,290.8 L841.1,290.4 L841.3,290.0 L841.6,289.8 L842.1,288.2 L842.6,287.0 L843.1,286.4 L843.1,286.1 L843.6,285.4 L844.1,284.7 L844.6,284.4 L845.1,284.8 L845.6,285.4 L846.1,284.8 L846.6,284.4 L846.7,284.3 L847.1,283.0 L847.6,282.9 L848.1,283.5 L848.6,283.1 L849.1,282.9 L849.6,283.1 L850.1,282.6 L850.2,281.8 L850.6,282.2 L851.1,282.8 L851.6,283.0 L852.1,283.8 L852.6,284.8 L853.1,284.8 L853.6,284.9 L853.8,285.4 L854.1,285.7 L854.6,286.3 L855.1,286.6 L855.6,287.2 L856.1,288.6 L856.6,289.2 L857.1,288.8 L857.3,288.8 L857.6,289.6 L858.1,289.7 L858.6,289.3 L859.1,289.9 L859.6,289.8 L860.1,289.5 L860.6,290.0 L860.9,289.4 L861.1,289.9 L861.6,290.2 L862.1,289.1 L862.6,288.9 L863.1,288.7 L863.6,287.4 L864.1,286.9 L864.4,287.4 L864.6,287.7 L865.1,287.3 L865.6,286.7 L866.1,286.4 L866.6,286.0 L867.1,285.8 L867.6,285.6 L868.0,285.0 L868.1,285.1 L868.6,284.3 L869.1,283.5 L869.6,284.0 L870.1,284.0 L870.6,283.1 L871.1,282.9 L871.6,282.7 L871.6,282.7 L872.1,282.5 L872.6,282.4 L873.1,282.0 L873.6,282.3 L874.1,282.6 L874.6,281.5 L875.1,281.6 L875.6,282.0 L876.0,282.1 L876.1,281.9 L876.6,282.3 L877.1,284.3 L877.6,284.5 L878.1,284.4 L878.6,285.5 L879.1,286.2 L879.6,286.1 L879.6,285.8 L880.1,286.9 L880.6,287.7 L881.1,288.4 L881.6,288.5 L882.1,288.3 L882.6,289.8 L883.1,289.8 L883.6,288.6 L884.0,289.0 L884.1,289.3 L884.6,289.8 L885.1,290.0 L885.6,289.5 L886.1,289.6 L886.6,291.0 L886.7,291.4 L887.1,289.3 L887.6,288.6 L888.1,289.0 L888.6,288.9 L889.1,288.7 L889.6,288.6 L890.1,288.5 L890.6,287.7 L891.1,287.0 L891.1,286.7 L891.6,286.3 L892.1,286.1 L892.6,285.6 L893.1,284.5 L893.6,284.1 L894.1,283.7 L894.6,282.9 L895.1,282.1 L895.6,281.7 L895.6,281.8 L896.1,280.8 L896.6,281.2 L897.1,282.2 L897.6,281.7 L898.1,281.7 L898.6,281.9 L899.1,281.6 L899.1,280.5 L899.6,280.3 L900.1,281.5 L900.6,282.3 L901.1,282.9 L901.6,282.9 L902.1,282.0 L902.6,280.8 L903.1,281.5 L903.6,282.4 L903.6,282.6 L904.1,282.6 L904.6,282.5 L905.1,282.0 L905.6,282.2 L906.1,282.7 L906.6,282.8 L907.1,283.2 L907.6,283.1 L908.0,283.2 L908.1,283.3 L908.6,283.6 L909.1,284.0 L909.6,283.8 L910.1,283.7 L910.6,284.8 L911.1,285.2 L911.6,285.1 L912.1,285.4 L912.4,284.8 L912.6,284.4 L913.1,284.6 L913.6,285.0 L914.1,285.2 L914.6,284.6 L915.1,284.2 L915.6,284.6 L916.0,285.5 L916.1,284.6 L916.6,284.2 L917.1,285.0 L917.6,285.2 L918.1,285.5 L918.6,285.7 L919.1,286.7 L919.6,287.0 L919.6,286.6 L920.1,287.0 L920.6,287.3 L921.1,288.0 L921.6,288.9 L922.1,289.2 L922.6,289.9 L923.1,290.5 L923.1,290.8 L923.6,291.2 L924.1,291.1 L924.6,292.0 L925.1,292.8 L925.6,292.9 L925.8,292.7 L926.1,292.1 L926.6,291.5 L927.1,291.0 L927.6,291.0 L928.1,290.6 L928.6,289.3 L929.1,288.9 L929.3,288.8 L929.6,288.8 L930.1,288.7 L930.6,288.1 L931.1,288.5 L931.6,288.8 L932.1,288.1 L932.6,288.2 L932.9,289.4 L933.1,288.5 L933.6,287.5 L934.1,286.6 L934.6,284.7 L935.1,283.7 L935.6,282.6 L935.6,283.0 L936.1,282.9 L936.6,281.7 L937.1,281.1 L937.3,280.7 L937.6,280.6 L938.1,281.4 L938.6,280.8 L939.1,280.3 L939.6,280.9 L940.0,281.4 L940.1,281.8 L940.6,281.2 L941.1,280.3 L941.6,280.5 L942.1,280.5 L942.6,280.2 L942.7,280.7 L943.1,281.6 L943.6,282.2 L944.1,282.9 L944.6,284.3 L945.1,285.1 L945.3,285.3 L945.6,286.0 L946.1,287.5 L946.6,288.8 L947.1,288.9 L947.6,289.1 L948.0,288.4 L948.1,288.7 L948.6,290.3 L949.1,289.9 L949.6,289.6 L950.1,290.3 L950.6,289.5 L951.1,289.6 L951.6,290.7 L952.1,290.5 L952.4,289.9 L952.6,290.1 L953.1,289.5 L953.6,289.0 L954.1,289.6 L954.6,288.8 L955.1,288.3 L955.6,288.1 L956.0,286.8 L956.1,286.8 L956.6,286.4 L957.1,285.7 L957.6,284.7 L958.1,284.0 L958.6,283.2 L958.7,283.0 L959.1,282.4 L959.6,281.4 L960.1,281.2 L960.6,280.8 L961.1,279.7 L961.3,279.0 L961.6,279.2 L962.1,279.3 L962.6,278.3 L963.1,277.7 L963.6,277.2 L964.0,276.6 L964.1,276.7 L964.6,277.4 L965.1,278.2 L965.6,278.3 L966.1,279.0 L966.6,280.0 L966.7,279.9 L967.1,280.4 L967.6,280.9 L968.1,281.3 L968.6,282.2 L969.1,283.0 L969.3,283.3 L969.6,283.4 L970.1,284.3 L970.6,285.0 L970.7,284.6 L971.1,284.9 L971.6,285.7 L972.1,287.0 L972.6,287.7 L973.1,288.0 L973.6,287.6 L974.1,287.4 L974.6,288.1 L975.1,288.3 L975.1,288.9 L975.6,289.5 L976.1,289.4 L976.6,289.8 L977.1,289.7 L977.6,289.5 L978.1,289.7 L978.6,290.3 L979.1,290.9 L979.6,290.9 L979.6,291.2 L980.1,290.4 L980.6,289.6 L981.1,289.8 L981.6,289.2 L982.1,288.6 L982.6,289.0 L983.1,289.1 L983.1,289.1 L983.6,288.3 L984.1,287.4 L984.6,287.2 L985.1,286.6 L985.6,285.8 L986.1,285.8 L986.6,285.2 L986.7,284.6 L987.1,284.4 L987.6,284.5 L988.1,284.5 L988.6,284.1 L989.1,283.9 L989.6,283.1 L990.1,282.4 L990.6,282.8 L991.1,282.5 L991.1,282.0 L991.6,281.6 L992.1,281.5 L992.6,281.5 L993.1,281.2 L993.6,281.0 L994.1,281.6 L994.6,281.1 L995.1,280.6 L995.6,280.4 L995.6,279.6 L996.1,279.0 L996.6,278.6 L997.1,278.4 L997.6,277.9 L998.1,277.6 L998.2,278.0 L998.6,276.6 L999.1,276.1 L999.6,276.5 L1000.1,275.5 L1000.6,274.8 L1001.1,274.1 L1001.6,273.7 L1001.8,273.7 L1002.1,273.8 L1002.6,273.9 L1003.1,273.0 L1003.6,274.1 L1004.1,276.0 L1004.6,276.0 L1005.1,275.9 L1005.3,276.3 L1005.6,276.2 L1006.1,277.0 L1006.6,278.2 L1007.1,278.6 L1007.6,279.1 L1008.1,280.3 L1008.6,280.4 L1008.9,281.0 L1009.1,282.3 L1009.6,282.0 L1010.1,282.3 L1010.6,283.0 L1011.1,282.8 L1011.6,283.6 L1012.1,284.0 L1012.6,283.9 L1013.1,284.6 L1013.3,285.0 L1013.6,284.9 L1014.1,284.1 L1014.6,283.4 L1015.1,284.4 L1015.6,284.8 L1016.1,284.5 L1016.6,284.5 L1016.9,284.4 L1017.1,284.3 L1017.6,284.8 L1018.1,284.6 L1018.6,283.7 L1019.1,283.6 L1019.6,283.6 L1020.1,282.8 L1020.6,282.0 L1021.1,282.2 L1021.3,282.3 L1021.6,282.5 L1022.1,282.1 L1022.6,281.9 L1023.1,281.8 L1023.6,281.8 L1024.1,281.9 L1024.6,281.4 L1025.1,281.4 L1025.4,281.8 L1025.6,282.7 L1026.1,282.7 L1026.6,282.7 L1027.1,284.1 L1027.6,284.4 L1028.1,284.3 L1028.4,284.9 L1028.6,285.6 L1029.1,287.3 L1029.6,288.0 L1030.1,288.2 L1030.6,288.6 L1031.1,287.9 L1031.6,287.5 L1032.0,288.9 L1032.1,289.8 L1032.6,289.3 L1033.1,289.8 L1033.6,290.0 L1034.1,290.2 L1034.6,291.4 L1035.1,290.8 L1035.6,289.8 L1035.6,290.5 L1036.1,290.4 L1036.6,290.4 L1037.1,290.2 L1037.6,290.0 L1038.1,290.2 L1038.6,289.5 L1039.1,288.9 L1039.1,289.1 L1039.6,288.3 L1040.1,287.3 L1040.6,286.6 L1041.1,285.6 L1041.6,284.2 L1041.8,284.1 L1042.1,283.6 L1042.6,281.7 L1043.1,280.9 L1043.6,280.4 L1044.1,278.8 L1044.4,277.5 L1044.6,277.1 L1045.1,275.9 L1045.6,274.4 L1046.1,273.7 L1046.6,273.1 L1047.1,272.3 L1047.1,272.3 L1047.6,272.1 L1048.1,272.1 L1048.6,272.4 L1049.1,271.8 L1049.6,271.5 L1050.1,272.5 L1050.6,272.7 L1050.7,271.6 L1051.1,272.3 L1051.6,272.4 L1052.1,271.1 L1052.6,271.4 L1053.1,271.5 L1053.6,271.0 L1054.1,271.5 L1054.2,271.6 L1054.6,271.7 L1055.1,272.9 L1055.6,274.6 L1056.0,276.1 L1056.1,276.5 L1056.6,278.2 L1057.1,280.9 L1057.6,283.0 L1057.8,283.3 L1058.1,284.8 L1058.6,285.8 L1059.1,286.5 L1059.6,287.7 L1060.1,289.2 L1060.4,289.8 L1060.6,289.9 L1061.1,290.6 L1061.6,291.6 L1062.1,291.4 L1062.6,291.9 L1063.1,292.7 L1063.6,292.2 L1064.0,292.0 L1064.1,292.9 L1064.6,293.3 L1065.1,291.8 L1065.6,291.2 L1066.1,291.4 L1066.6,291.0 L1067.1,290.4 L1067.6,289.6 L1067.6,290.0 L1068.1,289.4 L1068.6,288.1 L1069.1,287.1 L1069.6,285.8 L1070.1,285.1 L1070.2,285.2 L1070.6,284.0 L1071.1,282.6 L1071.6,281.7 L1072.1,281.2 L1072.6,280.3 L1072.9,279.6 L1073.1,279.0 L1073.6,277.8 L1074.1,276.8 L1074.6,275.4 L1075.1,275.1 L1075.2,275.4 L1075.6,274.4 L1076.1,274.8 L1076.6,274.8 L1077.1,274.2 L1077.6,273.7 L1078.1,273.0 L1078.2,273.3 L1078.6,274.4 L1079.1,274.1 L1079.6,274.4 L1080.1,274.6 L1080.6,274.3 L1081.1,275.3 L1081.6,276.0 L1081.8,276.2 L1082.1,276.8 L1082.6,278.4 L1083.1,280.3 L1083.6,281.4 L1083.6,281.8 L1084.1,282.6 L1084.6,283.7 L1085.1,284.6 L1085.6,284.4 L1086.1,285.9 L1086.2,286.3 L1086.6,285.5 L1087.1,286.6 L1087.6,287.8 L1088.1,287.4 L1088.6,286.8 L1089.1,287.1 L1089.6,288.1 L1089.8,288.4 L1090.1,287.6 L1090.6,287.7 L1091.1,288.4 L1091.6,287.8 L1092.1,287.1 L1092.6,286.9 L1093.1,287.7 L1093.6,288.7 L1094.1,288.0 L1094.2,287.3 L1094.6,287.0 L1095.1,286.1 L1095.6,285.6 L1096.1,285.4 L1096.6,284.5 L1097.1,284.1 L1097.6,283.9 L1097.8,284.1 L1098.1,283.8 L1098.6,282.7 L1099.1,281.1 L1099.6,280.0 L1100.1,279.3 L1100.4,279.0 L1100.6,278.5 L1101.1,276.7 L1101.6,276.3 L1102.1,277.3 L1102.6,277.2 L1103.1,276.2 L1103.6,276.3 L1103.6,276.5 L1104.1,276.4 L1104.6,276.3 L1105.1,276.5 L1105.6,277.1 L1106.1,277.3 L1106.6,277.3 L1107.1,278.0 L1107.6,279.0 L1107.6,279.3 L1108.1,279.5 L1108.6,279.8 L1109.1,280.9 L1109.6,281.2 L1110.1,281.1 L1110.6,282.1 L1111.1,282.0 L1111.1,281.5 L1111.6,282.0 L1112.1,282.8 L1112.6,282.7 L1113.1,282.4 L1113.6,282.5 L1114.1,282.1 L1114.6,282.7 L1115.1,283.2 L1115.6,282.4 L1115.6,282.5 L1116.1,282.9 L1116.6,283.1 L1117.1,284.2 L1117.6,284.7 L1118.1,285.4 L1118.6,285.5 L1119.1,285.3 L1119.1,286.1 L1119.6,286.4 L1120.1,286.1 L1120.6,285.2 L1121.1,284.5 L1121.6,283.9 L1122.1,283.8 L1122.6,283.3 L1122.7,283.1 L1123.1,283.1 L1123.6,282.8 L1124.1,282.6 L1124.6,283.1 L1125.1,282.9 L1125.6,282.1 L1126.1,282.4 L1126.2,282.6 L1126.6,282.6 L1127.1,282.6 L1127.6,282.8 L1128.1,282.0 L1128.6,281.6 L1129.1,281.8 L1129.6,281.8 L1130.1,281.9 L1130.6,281.4 L1131.1,281.8 L1131.6,282.7 L1131.6,283.0 L1132.1,282.5 L1132.6,282.6 L1133.1,281.9 L1133.6,280.4 L1134.1,280.3 L1134.6,280.5 L1135.1,280.8 L1135.1,281.6 L1135.6,280.4 L1136.1,280.1 L1136.6,280.5 L1137.1,279.6 L1137.6,278.7 L1138.1,278.8 L1138.6,278.3 L1138.7,277.3 L1139.1,276.9 L1139.6,276.1 L1140.1,275.7 L1140.6,275.7 L1141.1,275.3 L1141.6,275.4 L1141.7,274.9 L1142.1,275.4 L1142.6,276.1 L1143.1,277.0 L1143.6,277.9 L1144.1,278.6 L1144.6,279.3 L1144.9,279.3 L1145.1,279.3 L1145.6,278.3 L1146.1,277.6 L1146.6,277.7 L1147.1,277.8 L1147.6,277.1 L1147.6,276.1 L1148.1,276.7 L1148.6,278.0 L1149.1,278.8 L1149.6,279.3 L1150.1,280.4 L1150.2,281.0 L1150.6,281.4 L1151.1,281.2 L1151.6,281.4 L1152.1,282.0 L1152.6,281.9 L1153.1,282.6 L1153.6,283.4 L1153.8,283.0 L1154.1,283.6 L1154.6,284.3 L1155.1,284.4 L1155.6,284.8 L1156.1,285.0 L1156.6,284.3 L1157.1,283.9 L1157.3,284.8 L1157.6,284.6 L1158.1,284.1 L1158.6,284.3 L1159.1,284.4 L1159.6,284.4 L1160.1,283.9 L1160.6,283.1 L1160.9,283.0 L1161.1,283.2 L1161.6,282.6 L1162.1,282.7 L1162.6,282.7 L1163.1,281.8 L1163.6,282.0 L1164.1,282.1 L1164.4,281.8 L1164.6,281.3 L1165.1,281.2 L1165.6,281.5 L1166.1,281.2 L1166.6,281.0 L1167.1,282.2 L1167.6,283.0 L1168.0,282.3 L1168.1,282.7 L1168.6,282.6 L1169.1,282.2 L1169.6,281.6 L1170.1,281.4 L1170.6,281.6 L1171.1,281.6 L1171.6,281.7 L1172.1,280.9 L1172.4,280.1 L1172.6,280.2 L1173.1,281.3 L1173.6,281.9 L1174.1,281.8 L1174.6,281.0 L1175.1,279.9 L1175.6,280.4 L1176.0,281.3 L1176.1,281.3 L1176.6,281.4 L1177.1,281.2 L1177.6,280.3 L1178.1,279.6 L1178.6,279.7 L1179.1,279.7 L1179.6,279.6 L1179.6,280.4 L1180.1,280.4 L1180.6,279.7 L1181.1,279.6 L1181.6,279.7 L1182.1,280.5 L1182.6,281.2 L1183.1,281.3 L1183.6,281.5 L1184.0,281.8 L1184.1,281.2 L1184.6,280.6 L1185.1,282.4 L1185.6,284.2 L1186.1,284.0 L1186.6,283.7 L1187.1,283.7 L1187.6,284.9 L1187.6,284.4 L1188.1,284.0 L1188.6,285.5 L1189.1,285.8 L1189.6,285.9 L1190.1,285.9 L1190.6,286.6 L1191.1,286.3 L1191.1,284.8 L1191.6,285.3 L1192.1,286.4 L1192.6,286.2 L1193.1,285.9 L1193.6,285.7 L1194.1,284.7 L1194.6,285.3 L1195.1,286.1 L1195.6,286.0 L1195.6,285.2 L1196.1,284.0 L1196.6,283.1 L1197.1,282.6 L1197.6,282.3 L1198.1,281.8 L1198.2,281.1 L1198.6,280.5 L1199.1,280.4 L1199.6,279.8 L1200.1,279.2 L1200.6,278.6 L1201.1,278.4 L1201.6,278.1 L1201.8,277.9 L1202.1,277.4 L1202.6,277.1 L1203.1,277.0 L1203.6,275.9 L1204.1,275.8 L1204.6,276.3 L1205.1,276.3 L1205.3,276.3 L1205.6,275.9 L1206.1,275.9 L1206.6,275.9 L1207.1,275.6 L1207.6,274.8 L1208.1,275.7 L1208.6,275.7 L1208.9,274.9 L1209.1,275.8 L1209.6,276.1 L1210.1,276.0 L1210.6,276.2 L1211.1,276.5 L1211.6,276.4 L1212.1,277.0 L1212.6,276.6 L1213.1,275.7 L1213.3,276.0 L1213.6,275.8 L1214.1,276.4 L1214.6,277.6 L1215.1,278.0 L1215.6,278.1 L1216.1,279.4 L1216.6,280.5 L1216.9,281.2 L1217.1,281.6 L1217.6,281.9 L1218.1,282.4 L1218.6,283.2 L1219.1,284.1 L1219.6,284.5 L1220.1,285.2 L1220.6,286.0 L1221.1,286.1 L1221.3,286.1 L1221.6,286.8 L1222.1,287.1 L1222.6,286.6 L1223.1,286.0 L1223.6,285.0 L1224.1,284.9 L1224.6,285.1 L1225.1,284.8 L1225.6,284.4 L1225.8,284.8 L1226.1,284.8 L1226.6,284.0 L1227.1,283.5 L1227.6,283.5 L1228.1,283.6 L1228.6,283.2 L1229.1,282.9 L1229.6,283.3 L1230.1,283.1 L1230.2,282.5 L1230.6,281.9 L1231.1,281.7 L1231.6,281.3 L1232.1,280.8 L1232.6,280.0 L1232.9,279.1 L1233.1,279.3 L1233.6,279.3 L1234.1,278.5 L1234.6,278.0 L1235.1,277.3 L1235.6,276.9 L1235.6,277.4 L1236.1,277.9 L1236.6,277.9 L1237.1,276.4 L1237.6,276.4 L1238.1,277.8 L1238.6,278.4 L1239.1,278.6 L1239.1,279.0 L1239.6,279.1 L1240.1,278.5 L1240.6,278.0 L1241.1,276.9 L1241.6,276.7 L1241.8,277.4 L1242.1,277.1 L1242.6,278.1 L1243.1,279.6 L1243.6,280.6 L1244.1,281.3 L1244.4,281.5 L1244.6,281.7 L1245.1,281.6 L1245.6,281.7 L1246.1,281.1 L1246.6,280.7 L1247.1,280.7 L1247.6,280.6 L1248.0,281.3 L1248.1,281.5 L1248.6,281.1 L1249.1,281.0 L1249.6,281.3 L1250.1,280.7 L1250.6,280.1 L1251.1,279.7 L1251.6,278.9 L1251.6,279.4 L1252.1,278.8 L1252.6,278.2 L1253.1,277.9 L1253.6,276.7 L1254.1,275.8 L1254.2,275.9 L1254.6,274.8 L1255.1,274.1 L1255.6,273.8 L1256.1,273.6 L1256.6,272.9 L1256.9,272.7 L1257.1,272.5 L1257.6,271.8 L1258.1,271.4 L1258.6,270.4 L1259.1,270.3 L1259.2,270.4 L1259.6,270.7 L1260.1,272.2 L1260.4,273.4 L1260.6,291.9 L1260.8,306.8 L1261.1,306.8 L1261.6,306.8 L1262.1,306.8 L1262.6,306.8 L1263.1,306.8 L1263.6,306.8 L1264.1,306.8 L1264.6,306.8 L1265.1,306.8 L1265.6,306.8 L1266.1,306.8 L1266.6,306.8 L1267.1,306.8 L1267.6,306.8 L1268.1,306.8 L1268.6,306.8 L1269.1,306.8 L1269.6,306.8 L1270.1,306.8 L1270.6,306.8 L1271.1,306.8 L1271.6,306.8 L1272.1,306.8 L1272.6,306.8 L1273.1,306.8 L1273.6,306.8 L1274.1,306.8 L1274.6,306.8 L1275.1,306.8 L1275.6,306.8 L1276.1,306.8 L1276.6,306.8 L1277.1,306.8 L1277.6,306.8 L1278.1,306.8 L1278.6,306.8 L1279.1,306.8 L1279.6,306.8 L1280.1,306.8 L1280.6,306.8 L1281.1,306.8 L1281.6,306.8 L1282.1,306.8 L1282.6,306.8 L1283.1,306.8 L1283.6,306.8 L1284.1,306.8 L1284.6,306.8 L1285.1,306.8 L1285.6,306.8 L1286.1,306.8 L1286.6,306.8 L1287.1,306.8 L1287.6,306.8 L1288.1,306.8 L1288.6,306.8 L1289.1,306.8 L1289.6,306.8 L1290.1,306.8 L1290.6,306.8 L1291.1,306.8 L1291.6,306.8 L1292.1,306.8 L1292.6,306.8 L1293.1,306.8 L1293.6,306.8 L1294.1,306.8 L1294.6,306.8 L1295.1,306.8 L1295.6,306.8 L1296.1,306.8 L1296.6,306.8 L1297.1,306.8 L1297.6,306.8 L1298.1,306.8 L1298.6,306.8 L1299.1,306.8 L1299.6,306.8 L1300.1,306.8 L1300.6,306.8 L1301.1,306.8 L1301.6,306.8 L1302.1,306.8 L1302.6,306.8 L1303.1,306.8 L1303.6,306.8 L1304.1,306.8 L1304.6,306.8 L1305.1,306.8 L1305.6,306.8 L1306.1,306.8 L1306.6,306.8 L1307.1,306.8 L1307.6,306.8 L1308.1,306.8 L1308.6,306.8 L1309.1,306.8 L1309.6,306.8 L1310.1,306.8 L1310.6,306.8 L1311.1,306.8 L1311.6,306.8 L1312.1,306.8 L1312.6,306.8 L1313.1,306.8 L1313.6,306.8 L1313.8,306.8"/>
</g>
<rect class="sp" x="742.4" y="13.05" width="570.9" height="294.4"/>
<path class="sp" d="M771.55,307.5v4 M895.35,307.5v4 M1019.15,307.5v4 M1142.95,307.5v4 M1266.75,307.5v4 M742.4,307.5h-4 M742.4,229.0h-4 M742.4,150.5h-4 M742.4,71.9h-4 M1313.3,307.5h4 M1313.3,209.3h4 M1313.3,111.2h4 M1313.3,13.0h4"/>
<text class="tk" transform="translate(771.5,337.5) scale(1,1.06)" text-anchor="middle"><tspan class="mn" dy="1.6" stroke-width="0.45">−</tspan><tspan dy="-1.6" dx="-0.5">40</tspan></text>
<text class="tk" transform="translate(895.4,337.5) scale(1,1.06)" text-anchor="middle"><tspan class="mn" dy="1.6" stroke-width="0.45">−</tspan><tspan dy="-1.6" dx="-0.5">20</tspan></text>
<text class="tk" transform="translate(1019.1,337.5) scale(1,1.06)" text-anchor="middle">0</text>
<text class="tk" transform="translate(1143.0,337.5) scale(1,1.06)" text-anchor="middle">20</text>
<text class="tk" transform="translate(1266.8,337.5) scale(1,1.06)" text-anchor="middle">40</text>
<text class="tk" transform="translate(734.6,319.1) scale(1,1.06)" text-anchor="end">0</text>
<text class="tk" transform="translate(734.6,240.6) scale(1,1.06)" text-anchor="end">2</text>
<text class="tk" transform="translate(734.6,162.1) scale(1,1.06)" text-anchor="end">4</text>
<text class="tk" transform="translate(734.6,83.5) scale(1,1.06)" text-anchor="end">6</text>
<text class="tk" transform="translate(1320.5,319.1) scale(1,1.06)" text-anchor="start">0</text>
<text class="pi" x="1344.9" y="319.3">π</text>
<text class="tk" transform="translate(1320.5,220.9) scale(1,1.06)" text-anchor="start">2</text>
<text class="pi" x="1344.9" y="221.2">π</text>
<text class="tk" transform="translate(1320.5,122.8) scale(1,1.06)" text-anchor="start">4</text>
<text class="pi" x="1344.9" y="123.0">π</text>
<text class="tk" transform="translate(1320.5,24.6) scale(1,1.06)" text-anchor="start">6</text>
<text class="pi" x="1344.9" y="24.8">π</text>
<text class="lb" x="749.30" y="42.25">b)</text>
<text class="lb" x="1307.5" y="41.35" text-anchor="end">4L<tspan class="sm">nl</tspan></text>
</g>
<g id="panel-c">
<g clip-path="url(#cpc)">
<path class="bl" d="M83.5,662.7 L84.0,662.9 L84.5,663.1 L85.0,663.2 L85.5,663.3 L86.0,663.3 L86.5,663.3 L87.0,663.3 L87.5,663.3 L88.0,663.3 L88.5,663.3 L89.0,663.3 L89.2,663.3 L89.5,663.0 L90.0,659.2 L90.5,653.7 L91.0,648.1 L91.3,645.4 L91.5,643.8 L92.0,639.4 L92.5,635.5 L93.0,632.7 L93.3,631.9 L93.5,632.0 L94.0,632.7 L94.5,634.0 L94.8,635.0 L95.0,636.2 L95.5,641.4 L96.0,647.5 L96.4,651.4 L96.5,652.0 L97.0,655.1 L97.5,657.9 L98.0,660.0 L98.5,660.8 L98.5,660.9 L99.0,660.1 L99.5,658.4 L100.0,656.5 L100.5,654.5 L100.5,654.2 L101.0,652.0 L101.5,649.5 L101.9,648.5 L102.0,648.6 L102.5,651.5 L103.0,653.8 L103.0,653.8 L103.5,651.9 L104.0,647.3 L104.5,643.7 L104.6,643.4 L105.0,642.8 L105.5,642.4 L106.0,642.4 L106.5,641.9 L106.7,641.5 L107.0,640.1 L107.5,636.2 L108.0,632.5 L108.3,631.4 L108.5,631.7 L109.0,634.1 L109.5,637.0 L109.7,637.9 L110.0,638.5 L110.5,639.3 L111.0,639.7 L111.2,639.8 L111.5,641.1 L112.0,644.3 L112.5,647.6 L112.8,649.5 L113.0,650.3 L113.5,652.4 L114.0,654.2 L114.5,655.7 L114.9,656.6 L115.0,657.0 L115.5,658.6 L116.0,659.9 L116.5,660.8 L116.9,661.1 L117.0,661.1 L117.5,660.3 L118.0,659.3 L118.5,658.3 L119.0,656.9 L119.0,656.7 L119.5,654.7 L120.0,651.4 L120.4,647.4 L120.5,646.5 L121.0,636.6 L121.5,620.6 L121.6,614.6 L122.0,590.7 L122.5,553.0 L122.5,551.7 L123.0,530.5 L123.5,512.0 L124.0,486.9 L124.5,460.3 L125.0,444.2 L125.1,443.2 L125.5,448.6 L126.0,469.3 L126.5,496.9 L126.8,512.0 L127.0,524.1 L127.5,555.9 L127.8,573.6 L128.0,583.3 L128.5,607.0 L128.8,618.7 L129.0,623.1 L129.5,633.8 L129.8,639.2 L130.0,640.8 L130.5,645.6 L131.0,649.5 L131.3,651.5 L131.5,653.0 L132.0,657.4 L132.5,661.0 L132.9,662.6 L133.0,662.4 L133.5,659.3 L134.0,654.9 L134.4,652.7 L134.5,652.2 L135.0,651.6 L135.5,651.1 L136.0,650.2 L136.4,649.2 L136.5,649.2 L137.0,647.3 L137.5,644.5 L138.0,642.1 L138.5,641.2 L138.5,641.3 L139.0,642.2 L139.5,644.1 L139.9,645.2 L140.0,645.1 L140.5,645.9 L141.0,646.5 L141.5,647.1 L141.5,647.3 L142.0,649.4 L142.5,652.9 L143.0,656.1 L143.2,656.9 L143.5,658.0 L144.0,659.4 L144.5,660.7 L145.0,661.7 L145.2,661.7 L145.5,661.4 L146.0,660.8 L146.5,659.5 L147.0,657.8 L147.3,656.8 L147.5,655.8 L148.0,651.5 L148.5,645.9 L148.7,643.2 L149.0,640.2 L149.5,633.9 L150.0,626.8 L150.5,619.2 L150.8,614.6 L151.0,610.9 L151.5,601.4 L152.0,591.1 L152.5,580.5 L152.8,573.5 L153.0,569.8 L153.5,558.0 L154.0,547.0 L154.3,542.6 L154.5,539.7 L155.0,534.1 L155.5,531.7 L156.0,534.4 L156.5,540.4 L156.5,540.7 L157.0,549.6 L157.5,562.5 L157.9,573.6 L158.0,574.4 L158.5,584.2 L159.0,593.3 L159.5,602.4 L159.6,604.3 L160.0,612.1 L160.5,621.9 L161.0,630.5 L161.0,630.9 L161.5,637.1 L162.0,643.0 L162.5,648.0 L162.7,649.5 L163.0,651.8 L163.5,655.4 L164.0,658.3 L164.5,660.1 L164.5,660.0 L165.0,660.7 L165.5,661.5 L166.0,662.2 L166.5,662.5 L167.0,662.7 L167.2,662.7 L167.5,662.7 L168.0,663.0 L168.5,662.6 L169.0,662.4 L169.5,662.4 L169.8,662.3 L170.0,662.5 L170.5,661.5 L171.0,659.9 L171.5,657.9 L172.0,655.6 L172.3,654.1 L172.5,653.3 L173.0,650.0 L173.5,645.4 L174.0,640.0 L174.4,635.1 L174.5,633.1 L175.0,622.4 L175.5,608.6 L176.0,594.4 L176.0,594.0 L176.5,580.4 L177.0,565.8 L177.4,553.0 L177.5,551.5 L178.0,537.8 L178.5,524.6 L178.7,520.1 L179.0,511.3 L179.5,502.2 L180.0,509.0 L180.5,521.7 L180.5,522.3 L181.0,535.0 L181.5,550.3 L181.9,563.3 L182.0,564.2 L182.5,575.3 L183.0,585.7 L183.2,590.0 L183.5,597.6 L184.0,610.7 L184.5,622.4 L184.6,624.8 L185.0,631.1 L185.5,638.7 L186.0,644.9 L186.3,647.5 L186.5,649.4 L187.0,653.4 L187.5,656.8 L188.0,659.3 L188.3,660.0 L188.5,659.6 L189.0,658.3 L189.5,656.7 L190.0,654.8 L190.5,653.1 L190.8,652.5 L191.0,652.8 L191.5,652.3 L192.0,651.4 L192.5,651.0 L193.0,650.8 L193.5,650.8 L193.8,650.9 L194.0,650.7 L194.5,650.4 L195.0,650.2 L195.5,649.9 L196.0,649.5 L196.5,650.0 L196.5,650.2 L197.0,651.3 L197.5,654.4 L197.9,656.8 L198.0,657.0 L198.5,658.8 L199.0,660.7 L199.5,662.2 L200.0,662.7 L200.0,662.7 L200.5,662.2 L201.0,660.1 L201.5,656.7 L202.0,652.1 L202.1,651.4 L202.5,640.1 L203.0,618.4 L203.1,614.6 L203.5,595.3 L204.0,569.1 L204.1,563.3 L204.5,543.7 L205.0,518.7 L205.1,512.0 L205.5,493.8 L206.0,466.0 L206.5,441.6 L207.0,427.3 L207.2,425.5 L207.5,428.7 L208.0,443.0 L208.5,465.2 L209.0,490.5 L209.4,512.0 L209.5,514.3 L210.0,538.1 L210.5,563.3 L210.5,564.8 L211.0,598.3 L211.3,614.5 L211.5,622.6 L212.0,638.6 L212.3,645.4 L212.5,648.3 L213.0,655.6 L213.5,660.3 L213.7,660.9 L214.0,660.7 L214.5,660.8 L215.0,660.5 L215.5,660.4 L216.0,660.8 L216.4,660.8 L216.5,660.5 L217.0,660.3 L217.5,660.0 L218.0,659.2 L218.5,657.8 L219.0,656.4 L219.5,655.4 L219.5,655.5 L220.0,654.4 L220.5,653.3 L221.0,652.4 L221.5,651.5 L221.9,650.3 L222.0,650.2 L222.5,649.5 L223.0,648.7 L223.2,648.6 L223.5,649.1 L224.0,652.0 L224.5,653.9 L224.6,653.9 L225.0,653.5 L225.5,650.6 L226.0,648.4 L226.1,648.6 L226.5,649.5 L227.0,651.3 L227.5,653.2 L228.0,654.1 L228.1,654.3 L228.5,654.2 L229.0,653.5 L229.5,652.6 L230.0,651.4 L230.5,650.2 L230.8,649.6 L231.0,648.8 L231.5,647.2 L232.0,645.6 L232.5,644.0 L232.8,643.1 L233.0,642.7 L233.5,642.2 L234.0,641.7 L234.5,641.2 L234.9,640.3 L235.0,639.8 L235.5,638.1 L236.0,635.6 L236.5,632.3 L236.9,628.8 L237.0,628.3 L237.5,621.8 L238.0,612.5 L238.4,604.3 L238.5,601.0 L239.0,584.5 L239.5,566.5 L239.6,563.3 L240.0,550.3 L240.5,534.4 L241.0,524.7 L241.0,524.5 L241.5,521.6 L242.0,520.0 L242.1,519.7 L242.5,519.6 L243.0,519.9 L243.5,520.3 L243.7,520.5 L244.0,523.7 L244.5,536.5 L244.7,542.8 L245.0,550.1 L245.5,565.6 L245.7,573.6 L246.0,581.1 L246.5,596.5 L246.8,604.3 L247.0,609.7 L247.5,621.0 L247.8,626.9 L248.0,630.5 L248.5,639.7 L248.8,642.1 L249.0,641.9 L249.5,641.3 L250.0,640.4 L250.3,640.2 L250.5,640.5 L251.0,640.9 L251.5,642.0 L252.0,642.9 L252.3,643.2 L252.5,643.7 L253.0,643.8 L253.5,643.7 L254.0,643.9 L254.5,644.6 L255.0,645.0 L255.4,644.7 L255.5,644.9 L256.0,645.5 L256.5,646.0 L257.0,646.5 L257.4,647.0 L257.5,647.1 L258.0,648.7 L258.5,650.6 L259.0,652.5 L259.5,653.9 L259.5,654.1 L260.0,655.2 L260.5,656.0 L261.0,656.5 L261.5,656.8 L262.0,657.4 L262.5,658.2 L262.6,658.4 L263.0,658.8 L263.5,659.3 L264.0,659.8 L264.5,659.9 L264.6,659.8 L265.0,659.0 L265.5,654.7 L266.0,648.7 L266.3,645.4 L266.5,642.0 L267.0,632.2 L267.5,620.0 L267.7,614.5 L268.0,605.6 L268.5,587.3 L269.0,568.3 L269.1,563.3 L269.5,550.3 L270.0,532.5 L270.4,522.3 L270.5,519.7 L271.0,512.0 L271.0,511.8 L271.5,503.7 L272.0,496.7 L272.4,494.2 L272.5,494.1 L273.0,497.7 L273.5,505.2 L273.8,512.0 L274.0,515.5 L274.5,535.8 L274.9,553.0 L275.0,557.7 L275.5,578.6 L275.9,594.1 L276.0,597.1 L276.5,613.7 L277.0,627.9 L277.3,635.1 L277.5,637.6 L278.0,644.8 L278.5,650.4 L279.0,654.2 L279.0,654.3 L279.5,657.3 L280.0,659.9 L280.5,661.9 L281.0,662.7 L281.0,662.7 L281.5,663.0 L282.0,663.2 L282.5,663.3 L283.0,663.3 L283.5,663.3 L284.0,663.3 L284.1,663.3 L284.5,663.3 L285.0,662.9 L285.5,661.7 L286.0,660.7 L286.5,659.6 L287.0,657.7 L287.2,657.0 L287.5,655.4 L288.0,650.9 L288.5,645.1 L289.0,638.5 L289.2,635.0 L289.5,631.3 L290.0,622.3 L290.5,611.8 L291.0,600.7 L291.3,594.1 L291.5,589.2 L292.0,575.8 L292.5,562.5 L292.9,553.0 L293.0,551.8 L293.5,542.7 L294.0,535.4 L294.4,532.4 L294.5,531.8 L295.0,530.6 L295.4,530.7 L295.5,530.9 L296.0,534.5 L296.5,541.1 L296.6,542.8 L297.0,550.2 L297.5,564.0 L297.8,573.6 L298.0,576.9 L298.5,589.2 L299.0,600.9 L299.5,610.5 L299.5,610.5 L300.0,617.5 L300.5,623.2 L301.0,629.1 L301.1,631.1 L301.5,636.7 L302.0,645.4 L302.5,651.1 L302.6,651.3 L303.0,652.7 L303.5,653.9 L304.0,654.5 L304.5,655.2 L304.6,655.4 L305.0,656.2 L305.5,657.0 L306.0,657.5 L306.5,657.9 L306.7,658.1 L307.0,658.3 L307.5,658.1 L308.0,657.3 L308.5,656.9 L308.7,656.8 L309.0,656.4 L309.5,654.5 L310.0,651.6 L310.5,647.9 L311.0,643.7 L311.5,639.0 L311.9,635.0 L312.0,634.2 L312.5,628.2 L313.0,621.0 L313.5,612.7 L313.9,604.3 L314.0,603.6 L314.5,592.5 L315.0,579.6 L315.5,566.1 L315.6,563.3 L316.0,552.0 L316.5,537.1 L317.0,523.2 L317.0,522.2 L317.5,509.0 L318.0,499.4 L318.1,499.2 L318.5,505.5 L319.0,519.9 L319.1,522.3 L319.5,533.1 L320.0,547.6 L320.5,562.5 L320.5,563.3 L321.0,578.7 L321.5,595.7 L322.0,610.6 L322.2,614.6 L322.5,621.4 L323.0,630.1 L323.5,637.8 L323.6,639.2 L324.0,645.1 L324.5,652.1 L325.0,656.7 L325.0,656.9 L325.5,658.7 L326.0,660.4 L326.5,661.8 L327.0,663.0 L327.5,663.3 L327.7,663.3 L328.0,663.3 L328.5,663.3 L329.0,663.3 L329.5,663.3 L330.0,663.3 L330.5,663.3 L330.8,663.3 L331.0,663.3 L331.5,663.2 L332.0,662.6 L332.5,661.6 L333.0,660.5 L333.5,659.1 L333.8,658.3 L334.0,658.2 L334.5,655.5 L335.0,651.9 L335.5,647.4 L335.9,643.2 L336.0,642.3 L336.5,635.3 L337.0,626.1 L337.5,615.7 L337.5,614.5 L338.0,603.2 L338.5,588.2 L339.0,573.6 L339.0,573.2 L339.5,559.2 L340.0,545.1 L340.4,532.5 L340.5,530.2 L341.0,513.7 L341.0,512.0 L341.5,476.6 L341.6,471.6 L342.0,482.9 L342.5,512.0 L342.5,513.3 L342.9,532.5 L343.0,536.7 L343.5,551.7 L344.0,564.5 L344.3,573.6 L344.5,579.4 L345.0,597.3 L345.5,613.2 L345.5,614.5 L346.0,625.0 L346.5,635.1 L347.0,643.0 L347.2,645.3 L347.5,648.6 L348.0,653.9 L348.5,658.2 L349.0,660.6 L349.2,660.9 L349.5,660.8 L350.0,660.7 L350.5,660.8 L351.0,660.8 L351.5,660.7 L352.0,661.0 L352.3,661.3 L352.5,661.1 L353.0,662.1 L353.5,663.3 L353.7,663.3 L354.0,663.3 L354.5,662.9 L355.0,661.8 L355.5,660.6 L356.0,660.2 L356.4,660.2 L356.5,660.4 L357.0,660.8 L357.5,662.0 L358.0,663.1 L358.5,663.3 L358.5,663.3 L359.0,663.1 L359.5,661.9 L360.0,660.1 L360.5,657.7 L361.0,654.9 L361.1,654.0 L361.5,651.1 L362.0,644.5 L362.5,636.3 L362.6,635.1 L363.0,627.2 L363.5,616.3 L364.0,604.6 L364.0,604.3 L364.5,592.8 L365.0,580.3 L365.5,567.3 L365.6,563.3 L366.0,553.8 L366.5,539.5 L367.0,526.4 L367.1,524.3 L367.5,516.5 L367.7,512.0 L368.0,499.3 L368.3,489.3 L368.5,491.4 L369.0,507.6 L369.1,512.0 L369.5,521.3 L369.7,528.4 L370.0,536.2 L370.5,553.9 L370.8,563.3 L371.0,570.0 L371.5,584.6 L372.0,598.4 L372.2,604.3 L372.5,612.0 L373.0,625.3 L373.4,635.0 L373.5,635.9 L374.0,644.2 L374.5,650.8 L374.9,654.3 L375.0,655.0 L375.5,657.7 L376.0,660.0 L376.5,661.7 L376.9,662.0 L377.0,662.2 L377.5,662.3 L378.0,661.6 L378.5,661.2 L379.0,660.9 L379.0,661.0 L379.5,659.0 L380.0,655.6 L380.5,652.4 L381.0,650.6 L381.0,650.4 L381.5,649.8 L382.0,650.1 L382.5,650.1 L383.0,649.3 L383.1,649.2 L383.5,649.0 L384.0,648.2 L384.5,647.5 L385.0,647.3 L385.1,647.4 L385.5,647.7 L386.0,649.2 L386.5,651.1 L387.0,653.2 L387.2,654.2 L387.5,655.4 L388.0,657.9 L388.5,660.4 L389.0,662.0 L389.2,662.4 L389.5,662.4 L390.0,662.1 L390.5,661.7 L391.0,661.1 L391.3,660.7 L391.5,659.9 L392.0,652.5 L392.5,640.9 L392.7,635.1 L393.0,626.7 L393.5,605.6 L393.7,594.0 L394.0,582.7 L394.5,557.2 L394.8,542.8 L395.0,531.8 L395.4,512.0 L395.5,506.9 L396.0,478.3 L396.5,449.1 L397.0,426.9 L397.4,419.2 L397.5,419.5 L398.0,430.6 L398.5,454.8 L399.0,484.4 L399.5,512.0 L400.0,536.6 L400.1,542.8 L400.5,567.3 L400.9,594.0 L401.0,597.2 L401.5,619.8 L401.9,635.1 L402.0,636.0 L402.5,647.2 L403.0,655.1 L403.2,656.7 L403.5,658.7 L404.0,661.5 L404.5,662.8 L404.6,662.7 L405.0,661.9 L405.5,659.3 L406.0,655.6 L406.5,652.4 L406.7,651.5 L407.0,650.1 L407.5,647.7 L408.0,645.1 L408.5,643.2 L409.0,642.2 L409.1,641.8 L409.5,642.6 L410.0,645.0 L410.5,647.5 L410.8,648.4 L411.0,649.0 L411.5,650.2 L412.0,651.1 L412.5,652.1 L412.8,653.0 L413.0,653.4 L413.5,654.6 L414.0,655.9 L414.5,657.3 L414.9,658.0 L415.0,658.3 L415.5,659.5 L416.0,660.3 L416.5,660.9 L416.9,661.7 L417.0,662.0 L417.5,661.1 L418.0,659.3 L418.5,656.9 L419.0,654.3 L419.0,654.1 L419.5,649.8 L420.0,643.4 L420.5,635.8 L421.0,627.6 L421.0,626.9 L421.5,618.2 L422.0,607.5 L422.5,597.3 L422.7,594.1 L423.0,589.2 L423.5,582.6 L424.0,575.5 L424.1,573.6 L424.5,565.7 L425.0,553.8 L425.5,543.6 L425.5,542.8 L426.0,535.6 L426.5,528.3 L427.0,523.7 L427.2,523.3 L427.5,524.7 L428.0,531.3 L428.5,540.4 L428.6,542.8 L429.0,550.9 L429.5,564.4 L429.8,573.5 L430.0,576.7 L430.5,587.7 L431.0,598.3 L431.3,604.3 L431.5,608.4 L432.0,618.8 L432.5,628.4 L432.9,635.0 L433.0,635.8 L433.5,641.8 L434.0,646.6 L434.4,649.3 L434.5,650.2 L435.0,653.8 L435.5,656.9 L436.0,659.0 L436.4,659.7 L436.5,659.7 L437.0,658.8 L437.5,657.3 L438.0,655.8 L438.5,654.3 L438.5,654.3 L439.0,652.4 L439.5,650.1 L440.0,647.7 L440.5,645.5 L440.5,645.6 L441.0,642.9 L441.5,639.8 L442.0,637.8 L442.2,637.8 L442.5,638.6 L443.0,641.7 L443.5,645.0 L443.6,645.2 L444.0,646.4 L444.5,647.8 L445.0,649.3 L445.5,651.1 L445.6,651.6 L446.0,653.1 L446.5,655.9 L447.0,658.6 L447.5,660.4 L447.7,660.7 L448.0,660.8 L448.5,661.0 L449.0,661.5 L449.5,661.6 L450.0,661.4 L450.5,661.4 L450.8,661.4 L451.0,661.2 L451.5,660.5 L452.0,658.7 L452.5,656.0 L452.8,654.1 L453.0,653.0 L453.5,647.7 L454.0,640.1 L454.3,635.1 L454.5,629.7 L455.0,613.0 L455.5,594.0 L455.5,594.1 L456.0,575.1 L456.5,554.2 L456.5,553.1 L457.0,529.9 L457.3,512.0 L457.5,503.5 L458.0,470.7 L458.5,436.9 L459.0,411.8 L459.4,403.9 L459.5,404.8 L460.0,417.6 L460.5,442.9 L461.0,474.0 L461.5,504.0 L461.6,512.0 L462.0,529.4 L462.5,553.0 L462.5,554.2 L463.0,577.6 L463.5,598.2 L463.5,598.2 L464.0,615.6 L464.5,630.1 L464.7,635.1 L465.0,639.8 L465.5,647.3 L466.0,652.9 L466.2,654.2 L466.5,656.5 L467.0,659.6 L467.5,661.7 L467.8,662.5 L468.0,661.8 L468.5,660.1 L469.0,657.4 L469.5,654.2 L470.0,650.9 L470.3,649.4 L470.5,648.4 L471.0,645.8 L471.5,643.3 L472.0,641.5 L472.3,641.2 L472.5,641.1 L473.0,641.4 L473.5,641.5 L474.0,641.5 L474.4,641.9 L474.5,642.0 L475.0,641.8 L475.5,641.4 L476.0,641.3 L476.4,641.3 L476.5,641.5 L477.0,643.0 L477.5,646.1 L478.0,649.7 L478.5,651.7 L478.5,651.5 L479.0,652.7 L479.5,653.6 L480.0,654.6 L480.5,655.5 L480.5,655.4 L481.0,656.8 L481.5,659.0 L482.0,661.1 L482.5,662.4 L483.0,662.7 L483.0,662.7 L483.5,662.1 L484.0,660.6 L484.5,658.4 L485.0,655.7 L485.2,654.2 L485.5,651.6 L486.0,642.3 L486.5,629.7 L486.7,624.8 L487.0,613.9 L487.5,592.4 L487.7,583.8 L488.0,572.3 L488.5,552.7 L488.7,542.8 L489.0,529.4 L489.3,512.0 L489.5,504.9 L490.0,479.4 L490.5,456.1 L491.0,442.1 L491.2,440.8 L491.5,443.6 L492.0,457.1 L492.5,478.0 L493.0,501.2 L493.2,512.0 L493.5,523.9 L494.0,549.8 L494.1,553.0 L494.5,575.9 L494.9,594.0 L495.0,598.7 L495.5,617.5 L496.0,632.5 L496.1,635.1 L496.5,642.9 L497.0,651.4 L497.5,656.5 L497.5,656.9 L498.0,659.1 L498.5,660.7 L499.0,661.8 L499.4,662.4 L499.5,662.4 L500.0,661.5 L500.5,659.3 L501.0,656.8 L501.5,654.3 L502.0,651.8 L502.1,651.7 L502.5,649.7 L503.0,647.2 L503.5,645.2 L504.0,643.4 L504.1,642.9 L504.5,642.2 L505.0,641.7 L505.5,640.8 L506.0,639.6 L506.2,639.6 L506.5,638.4 L507.0,635.8 L507.5,633.1 L508.0,630.2 L508.2,628.9 L508.5,626.7 L509.0,622.6 L509.2,621.9 L509.5,622.1 L510.0,623.1 L510.5,625.0 L510.9,626.7 L511.0,627.4 L511.5,631.9 L512.0,637.0 L512.3,639.2 L512.5,639.9 L513.0,641.8 L513.5,643.2 L514.0,644.3 L514.4,645.4 L514.5,645.8 L515.0,648.1 L515.5,650.3 L516.0,652.4 L516.4,654.2 L516.5,654.5 L517.0,656.2 L517.5,657.9 L518.0,659.7 L518.5,660.8 L518.5,660.9 L519.0,661.9 L519.5,662.6 L520.0,662.9 L520.5,663.3 L521.0,663.3 L521.1,663.3 L521.5,663.1 L522.0,661.3 L522.5,658.7 L523.0,655.5 L523.2,654.1 L523.5,651.6 L524.0,645.4 L524.5,637.3 L524.6,635.0 L525.0,626.0 L525.5,609.6 L525.6,604.3 L526.0,592.1 L526.5,571.7 L526.7,563.3 L527.0,543.1 L527.5,512.0 L528.0,492.5 L528.5,476.5 L529.0,467.9 L529.1,467.0 L529.5,469.1 L530.0,476.7 L530.5,488.5 L531.0,503.0 L531.3,512.0 L531.5,520.1 L532.0,547.4 L532.3,563.3 L532.5,570.3 L533.0,587.7 L533.5,602.9 L533.5,604.3 L534.0,617.1 L534.5,630.1 L535.0,639.1 L535.0,639.3 L535.5,645.4 L536.0,650.2 L536.5,654.0 L537.0,656.7 L537.0,656.6 L537.5,658.3 L538.0,660.2 L538.5,661.7 L539.0,662.6 L539.5,662.7 L540.0,663.1 L540.5,662.3 L541.0,661.7 L541.5,661.6 L542.0,661.2 L542.2,660.7 L542.5,660.2 L543.0,659.3 L543.5,658.1 L544.0,656.6 L544.5,654.8 L544.6,654.2 L545.0,652.2 L545.5,648.2 L546.0,643.1 L546.5,637.3 L546.7,635.0 L547.0,630.4 L547.5,621.3 L548.0,610.9 L548.3,604.3 L548.5,600.6 L549.0,589.6 L549.5,578.6 L549.7,573.5 L550.0,568.8 L550.5,559.1 L551.0,551.1 L551.2,548.9 L551.5,546.0 L552.0,541.9 L552.4,540.4 L552.5,540.3 L553.0,543.2 L553.5,548.7 L553.8,553.1 L554.0,554.9 L554.5,563.6 L555.0,573.9 L555.3,579.7 L555.5,583.6 L556.0,593.2 L556.5,602.8 L556.9,610.6 L557.0,611.6 L557.5,619.9 L558.0,627.7 L558.5,634.1 L558.6,635.0 L559.0,639.2 L559.5,643.4 L560.0,647.0 L560.4,649.6 L560.5,650.0 L561.0,652.4 L561.5,654.7 L562.0,656.7 L562.5,658.2 L563.0,659.4 L563.1,659.7 L563.5,660.3 L564.0,660.8 L564.5,661.3 L565.0,661.7 L565.5,661.3 L565.5,661.7 L566.0,661.8 L566.5,661.0 L567.0,660.1 L567.5,659.2 L568.0,658.7 L568.2,658.4 L568.5,658.0 L569.0,657.3 L569.5,656.3 L570.0,655.1 L570.3,654.1 L570.5,653.2 L571.0,649.8 L571.5,645.0 L572.0,639.1 L572.3,635.0 L572.5,632.4 L573.0,622.1 L573.5,610.1 L573.7,604.3 L574.0,599.0 L574.5,587.9 L575.0,577.0 L575.4,569.4 L575.5,567.6 L576.0,558.8 L576.5,551.1 L577.0,545.3 L577.0,544.9 L577.5,540.9 L578.0,538.4 L578.1,538.2 L578.5,540.3 L579.0,546.0 L579.5,553.0 L580.0,562.1 L580.5,573.8 L580.9,583.9 L581.0,585.2 L581.5,596.3 L582.0,607.4 L582.5,617.4 L582.6,618.7 L583.0,625.6 L583.5,633.1 L584.0,639.1 L584.0,639.2 L584.5,643.7 L585.0,647.8 L585.5,650.9 L585.6,651.5 L586.0,653.0 L586.5,654.8 L587.0,656.5 L587.5,657.9 L588.0,658.2 L588.1,658.1 L588.5,658.1 L589.0,657.5 L589.5,656.6 L590.0,655.7 L590.5,654.5 L590.8,654.1 L591.0,653.7 L591.5,652.3 L592.0,650.9 L592.5,649.1 L592.8,647.4 L593.0,646.3 L593.5,640.3 L594.0,631.9 L594.3,626.9 L594.5,621.9 L595.0,608.5 L595.5,594.1 L596.0,579.5 L596.5,564.5 L596.9,553.0 L597.0,551.5 L597.5,539.6 L598.0,529.4 L598.4,524.2 L598.5,523.0 L599.0,518.7 L599.4,517.6 L599.5,517.4 L600.0,521.9 L600.4,528.4 L600.5,529.7 L601.0,542.7 L601.5,558.7 L601.6,563.2 L602.0,573.5 L602.5,588.7 L603.0,602.2 L603.1,604.3 L603.5,613.2 L604.0,622.9 L604.5,630.7 L604.5,631.0 L605.0,637.0 L605.5,642.2 L606.0,646.3 L606.2,647.5 L606.5,649.5 L607.0,652.1 L607.5,653.8 L607.8,654.0 L608.0,653.9 L608.5,651.8 L609.0,648.6 L609.5,646.1 L609.8,645.3 L610.0,645.2 L610.5,645.9 L611.0,647.0 L611.5,648.1 L611.9,648.7 L612.0,648.5 L612.5,647.4 L613.0,646.3 L613.5,645.4 L613.9,644.7 L614.0,644.7 L614.5,645.4 L615.0,645.7 L615.5,646.1 L616.0,647.2 L616.0,647.0 L616.5,648.9 L617.0,652.0 L617.4,654.3 L617.5,654.4 L618.0,656.3 L618.5,658.1 L619.0,660.0 L619.5,661.2 L620.0,662.0 L620.5,662.6 L621.0,663.3 L621.5,663.3 L621.5,663.3 L622.0,662.9 L622.5,660.6 L623.0,658.1 L623.2,657.0 L623.5,654.1 L624.0,647.4 L624.5,640.5 L624.6,639.1 L625.0,635.6 L625.5,631.2 L625.8,628.8 L626.0,628.0 L626.5,625.8 L626.7,626.1 L627.0,627.4 L627.5,632.7 L627.7,635.1 L628.0,639.5 L628.5,648.5 L628.7,651.4 L629.0,653.9 L629.5,658.3 L630.0,661.3 L630.4,662.2 L630.5,662.3 L631.0,662.4 L631.5,662.6 L632.0,662.8 L632.4,662.7 L632.5,662.7 L633.0,662.7 L633.5,662.7 L634.0,662.7 L634.5,662.7 L635.0,662.7 L635.5,662.7 L636.0,662.7 L636.5,662.7 L637.0,662.7 L637.5,662.7 L638.0,662.7 L638.5,662.7 L639.0,662.7 L639.5,662.7 L640.0,662.7 L640.5,662.7 L641.0,662.7 L641.5,662.7 L642.0,662.7 L642.5,662.7 L643.0,662.7 L643.5,662.7 L644.0,662.7 L644.5,662.7 L645.0,662.7 L645.5,662.7 L646.0,662.7 L646.5,662.7 L647.0,662.7 L647.5,662.7 L648.0,662.7 L648.5,662.7 L649.0,662.7 L649.5,662.7 L650.0,662.7 L650.5,662.7 L651.0,662.7 L651.5,662.7 L652.0,662.7 L652.5,662.7 L653.0,662.7 L653.5,662.7 L654.0,662.7 L654.5,662.7 L654.8,662.7"/>
<path class="rd" d="M83.5,457.5 L84.0,450.6 L84.5,444.6 L85.0,441.5 L85.1,441.3 L85.5,441.0 L86.0,440.7 L86.5,440.2 L87.0,439.2 L87.5,439.2 L88.0,439.3 L88.2,438.9 L88.5,438.7 L89.0,438.9 L89.5,439.1 L90.0,438.6 L90.5,438.2 L91.0,437.6 L91.5,438.3 L92.0,438.8 L92.3,438.7 L92.5,438.9 L93.0,439.2 L93.5,439.7 L94.0,439.4 L94.5,439.7 L95.0,439.7 L95.4,440.0 L95.5,440.0 L96.0,440.7 L96.5,442.7 L97.0,444.5 L97.4,446.1 L97.5,446.1 L98.0,449.2 L98.5,453.5 L99.0,457.6 L99.5,460.6 L100.0,462.5 L100.5,464.6 L101.0,466.2 L101.5,467.1 L101.5,467.3 L102.0,468.3 L102.5,469.1 L103.0,469.5 L103.5,470.0 L104.0,470.0 L104.5,470.6 L104.6,471.3 L105.0,471.5 L105.5,471.7 L106.0,472.2 L106.5,472.8 L107.0,473.5 L107.5,474.0 L107.7,474.1 L108.0,474.7 L108.5,475.3 L109.0,475.6 L109.5,476.2 L110.0,476.8 L110.2,476.9 L110.5,476.1 L111.0,474.3 L111.5,472.6 L111.8,472.3 L112.0,471.0 L112.5,470.7 L113.0,471.5 L113.5,471.8 L114.0,472.4 L114.5,473.7 L115.0,474.0 L115.5,473.4 L115.9,473.8 L116.0,473.8 L116.5,467.7 L116.9,460.4 L117.0,459.5 L117.5,450.2 L118.0,440.3 L118.5,433.7 L118.6,433.7 L119.0,432.6 L119.5,430.8 L120.0,429.3 L120.5,428.6 L121.0,428.2 L121.0,428.1 L121.5,429.2 L122.0,429.7 L122.5,430.0 L123.0,430.4 L123.5,430.5 L124.0,431.3 L124.1,430.7 L124.5,430.1 L125.0,430.4 L125.5,430.5 L126.0,430.9 L126.5,430.8 L127.0,429.6 L127.5,429.2 L128.0,429.3 L128.2,429.1 L128.5,430.3 L129.0,431.8 L129.5,433.1 L129.8,433.6 L130.0,433.7 L130.5,431.8 L131.0,428.6 L131.5,426.3 L131.7,426.1 L132.0,431.3 L132.5,447.6 L132.5,448.0 L133.0,456.7 L133.5,463.4 L133.7,464.3 L134.0,464.4 L134.5,465.9 L135.0,466.3 L135.4,465.9 L135.5,466.0 L136.0,465.6 L136.5,464.9 L137.0,464.3 L137.5,463.7 L138.0,462.5 L138.5,462.6 L138.5,463.4 L139.0,461.5 L139.5,459.6 L140.0,457.8 L140.5,457.4 L140.5,457.7 L141.0,457.9 L141.5,458.6 L142.0,459.6 L142.5,461.2 L142.6,461.1 L143.0,460.0 L143.5,458.3 L144.0,455.8 L144.5,453.3 L144.6,452.4 L145.0,449.9 L145.5,446.1 L146.0,442.1 L146.5,438.7 L146.7,437.9 L147.0,436.8 L147.5,434.7 L148.0,433.1 L148.5,432.8 L148.7,432.6 L149.0,431.5 L149.5,431.1 L150.0,430.1 L150.5,428.1 L151.0,427.1 L151.5,427.0 L151.8,427.6 L152.0,428.5 L152.5,428.0 L153.0,428.7 L153.5,429.6 L154.0,429.9 L154.5,430.8 L154.9,431.0 L155.0,430.9 L155.5,430.7 L156.0,430.2 L156.5,430.1 L157.0,430.6 L157.5,430.6 L158.0,431.0 L158.5,431.0 L159.0,430.3 L159.0,430.5 L159.5,430.4 L160.0,429.7 L160.5,429.3 L161.0,430.5 L161.5,431.8 L162.0,432.1 L162.1,431.9 L162.5,432.1 L163.0,433.1 L163.5,433.5 L164.0,433.4 L164.1,433.5 L164.5,436.4 L165.0,441.2 L165.1,441.4 L165.5,442.2 L166.0,443.6 L166.5,445.2 L167.0,446.4 L167.5,447.1 L167.8,447.8 L168.0,448.6 L168.5,451.1 L169.0,453.8 L169.5,457.0 L170.0,460.5 L170.3,462.6 L170.5,464.1 L171.0,468.1 L171.5,472.8 L171.9,476.8 L172.0,477.8 L172.5,483.9 L173.0,490.2 L173.3,493.4 L173.5,494.5 L174.0,497.5 L174.5,500.1 L175.0,502.4 L175.4,503.6 L175.5,504.2 L176.0,505.6 L176.5,506.7 L177.0,506.8 L177.5,506.7 L178.0,508.2 L178.5,508.6 L178.5,508.3 L179.0,509.6 L179.5,510.4 L180.0,510.0 L180.5,510.2 L181.0,511.0 L181.5,511.0 L181.5,510.7 L182.0,510.7 L182.5,510.1 L183.0,509.8 L183.5,509.6 L184.0,509.2 L184.5,509.1 L184.6,508.6 L185.0,507.5 L185.5,504.6 L186.0,500.5 L186.5,496.6 L186.7,495.4 L187.0,493.1 L187.5,489.6 L188.0,486.2 L188.5,483.9 L188.7,482.8 L189.0,481.8 L189.5,481.0 L190.0,480.3 L190.5,480.4 L191.0,480.1 L191.5,479.6 L191.8,479.2 L192.0,478.0 L192.5,476.4 L193.0,475.8 L193.5,474.9 L194.0,473.6 L194.5,472.2 L194.5,472.9 L195.0,473.5 L195.5,474.6 L196.0,476.7 L196.5,477.9 L196.5,477.6 L197.0,477.9 L197.5,478.8 L198.0,479.1 L198.5,478.8 L199.0,479.6 L199.0,479.9 L199.5,482.1 L200.0,486.3 L200.5,491.8 L200.6,493.3 L201.0,499.7 L201.5,509.9 L201.6,512.0 L202.0,514.7 L202.5,517.2 L202.7,517.7 L203.0,519.1 L203.5,521.0 L204.0,522.2 L204.5,522.9 L205.0,523.5 L205.1,523.8 L205.5,524.2 L206.0,524.0 L206.5,523.2 L207.0,523.2 L207.5,522.7 L208.0,522.6 L208.5,523.1 L209.0,523.1 L209.5,523.4 L210.0,523.5 L210.3,522.8 L210.5,522.6 L211.0,522.5 L211.5,521.8 L212.0,520.8 L212.5,519.0 L212.7,518.1 L213.0,515.7 L213.5,506.6 L213.5,505.6 L214.0,495.6 L214.4,489.0 L214.5,488.1 L215.0,484.4 L215.4,482.5 L215.5,482.5 L216.0,482.1 L216.5,482.1 L217.0,481.2 L217.5,480.6 L218.0,479.6 L218.5,479.4 L218.5,480.3 L219.0,479.8 L219.5,478.4 L220.0,477.5 L220.5,477.5 L221.0,476.1 L221.5,475.7 L221.5,476.6 L222.0,477.3 L222.5,478.0 L223.0,478.4 L223.5,478.9 L223.6,479.0 L224.0,478.3 L224.5,476.8 L225.0,475.8 L225.2,475.9 L225.5,476.5 L226.0,476.6 L226.5,477.2 L227.0,478.2 L227.5,479.0 L228.0,479.7 L228.5,480.1 L228.7,480.7 L229.0,481.6 L229.5,482.6 L230.0,483.5 L230.5,484.5 L231.0,485.6 L231.5,486.7 L231.8,487.1 L232.0,487.6 L232.5,488.9 L233.0,490.5 L233.5,491.8 L234.0,492.9 L234.5,494.3 L234.9,495.5 L235.0,496.1 L235.5,497.4 L236.0,498.3 L236.5,499.3 L237.0,501.0 L237.5,502.7 L237.9,504.1 L238.0,503.5 L238.5,504.2 L239.0,505.2 L239.5,505.9 L240.0,507.0 L240.5,508.3 L241.0,508.8 L241.0,508.3 L241.5,508.8 L242.0,509.8 L242.5,511.1 L243.0,510.6 L243.5,510.0 L244.0,510.5 L244.1,511.0 L244.5,511.2 L245.0,511.0 L245.5,510.1 L246.0,509.1 L246.5,508.6 L247.0,507.5 L247.2,507.3 L247.5,506.7 L248.0,505.9 L248.5,504.4 L249.0,501.9 L249.5,499.8 L250.0,498.5 L250.3,497.6 L250.5,496.7 L251.0,495.5 L251.5,494.2 L252.0,492.9 L252.5,491.3 L253.0,489.8 L253.3,488.7 L253.5,488.4 L254.0,487.6 L254.5,486.3 L255.0,485.3 L255.4,484.6 L255.5,485.4 L256.0,485.5 L256.5,484.3 L257.0,484.2 L257.5,484.4 L258.0,484.9 L258.5,484.1 L258.5,484.0 L259.0,484.7 L259.5,484.5 L260.0,485.1 L260.5,485.6 L261.0,485.2 L261.5,485.2 L261.5,486.0 L262.0,487.1 L262.5,489.2 L263.0,492.0 L263.5,495.0 L263.6,495.5 L264.0,497.3 L264.5,499.8 L265.0,502.5 L265.5,505.1 L265.6,505.9 L266.0,507.1 L266.5,509.1 L267.0,510.9 L267.5,512.2 L267.5,512.4 L268.0,512.9 L268.5,513.3 L269.0,514.1 L269.5,514.8 L269.7,515.3 L270.0,515.3 L270.5,514.8 L271.0,515.2 L271.5,516.5 L272.0,517.2 L272.5,516.4 L272.8,515.8 L273.0,516.1 L273.5,515.8 L274.0,515.4 L274.5,515.1 L275.0,514.5 L275.5,513.9 L275.9,513.7 L276.0,513.9 L276.5,513.3 L277.0,512.8 L277.5,512.4 L277.9,511.5 L278.0,511.4 L278.5,510.8 L279.0,508.8 L279.5,505.9 L280.0,504.0 L280.0,503.7 L280.5,502.4 L281.0,501.7 L281.5,500.9 L282.0,499.8 L282.1,499.9 L282.5,498.1 L283.0,495.6 L283.1,495.3 L283.5,479.0 L283.5,478.7 L284.0,495.8 L284.1,497.5 L284.5,497.6 L285.0,496.7 L285.5,495.5 L285.7,495.1 L286.0,494.4 L286.5,494.9 L287.0,496.0 L287.2,496.3 L287.5,496.6 L288.0,498.7 L288.5,501.1 L289.0,502.9 L289.2,503.4 L289.5,504.2 L290.0,505.7 L290.5,506.2 L291.0,506.5 L291.5,507.0 L292.0,508.0 L292.3,509.0 L292.5,508.6 L293.0,507.9 L293.5,507.5 L294.0,508.7 L294.5,509.1 L295.0,508.6 L295.4,509.2 L295.5,509.3 L296.0,508.8 L296.5,507.7 L297.0,508.0 L297.5,508.5 L298.0,508.8 L298.5,508.0 L299.0,507.3 L299.5,507.8 L299.5,507.5 L300.0,507.8 L300.5,508.9 L301.0,509.5 L301.5,509.6 L302.0,510.1 L302.5,511.1 L302.6,511.2 L303.0,510.5 L303.5,508.6 L304.0,506.6 L304.5,505.1 L305.0,503.8 L305.2,503.4 L305.5,503.3 L306.0,504.0 L306.5,504.7 L307.0,504.8 L307.3,505.4 L307.5,506.0 L308.0,507.4 L308.5,508.8 L309.0,510.4 L309.3,511.9 L309.5,513.1 L310.0,516.0 L310.3,515.9 L310.5,515.7 L311.0,515.8 L311.5,515.1 L312.0,515.0 L312.5,515.3 L313.0,515.5 L313.5,515.9 L314.0,516.0 L314.4,515.7 L314.5,515.2 L315.0,514.7 L315.5,514.5 L316.0,514.6 L316.5,514.1 L317.0,513.1 L317.5,513.6 L318.0,513.8 L318.5,513.1 L318.5,512.9 L319.0,513.3 L319.5,513.6 L320.0,514.2 L320.5,514.7 L321.0,514.8 L321.5,514.8 L321.5,514.4 L322.0,514.5 L322.5,515.6 L323.0,515.9 L323.5,515.5 L324.0,515.5 L324.5,515.7 L324.6,515.9 L325.0,517.5 L325.5,520.6 L326.0,524.3 L326.5,527.8 L326.7,528.5 L327.0,529.7 L327.5,532.2 L328.0,534.8 L328.5,537.1 L329.0,538.8 L329.5,539.4 L329.7,539.7 L330.0,540.1 L330.5,537.2 L331.0,533.5 L331.5,530.7 L331.8,529.6 L332.0,528.9 L332.5,528.4 L333.0,528.4 L333.5,528.1 L333.8,527.8 L334.0,527.3 L334.5,525.3 L335.0,522.7 L335.5,520.0 L336.0,517.3 L336.5,516.1 L336.5,516.2 L337.0,515.0 L337.5,514.6 L338.0,513.9 L338.5,513.5 L339.0,514.2 L339.0,514.1 L339.5,514.3 L340.0,515.7 L340.5,516.9 L341.0,517.6 L341.5,518.2 L342.0,518.2 L342.1,517.9 L342.5,517.8 L343.0,517.2 L343.5,516.3 L344.0,514.9 L344.5,514.0 L345.0,512.9 L345.5,511.7 L346.0,511.9 L346.2,511.7 L346.5,511.5 L347.0,513.2 L347.5,516.1 L348.0,519.2 L348.2,520.3 L348.5,522.2 L349.0,526.6 L349.5,533.6 L349.6,536.5 L350.0,556.2 L350.3,567.6 L350.5,564.0 L351.0,546.0 L351.3,540.7 L351.5,541.2 L352.0,543.3 L352.5,546.9 L353.0,550.5 L353.5,552.7 L353.7,552.8 L354.0,552.6 L354.5,552.3 L355.0,551.6 L355.5,551.1 L355.8,550.5 L356.0,550.6 L356.5,554.0 L357.0,558.7 L357.4,563.2 L357.5,563.6 L358.0,571.2 L358.5,576.3 L358.5,575.7 L359.0,568.2 L359.5,561.2 L360.0,572.7 L360.5,589.3 L360.5,589.9 L361.0,598.6 L361.5,604.1 L361.5,604.6 L362.0,605.8 L362.5,606.4 L363.0,606.6 L363.5,607.1 L364.0,607.6 L364.5,607.9 L364.6,608.7 L365.0,609.5 L365.5,610.0 L366.0,610.7 L366.5,611.0 L367.0,611.4 L367.5,611.5 L367.7,611.3 L368.0,612.0 L368.5,612.3 L369.0,612.4 L369.5,612.3 L370.0,612.0 L370.5,611.8 L371.0,612.1 L371.5,612.4 L371.8,611.4 L372.0,611.0 L372.5,611.2 L373.0,610.2 L373.5,608.7 L374.0,607.1 L374.3,606.0 L374.5,605.2 L375.0,601.9 L375.5,597.5 L375.9,593.9 L376.0,593.0 L376.5,588.2 L377.0,583.2 L377.5,579.9 L377.5,579.6 L378.0,578.2 L378.5,577.3 L379.0,576.2 L379.5,575.4 L380.0,574.7 L380.0,574.4 L380.5,573.7 L381.0,572.6 L381.5,571.9 L382.0,571.8 L382.5,570.9 L383.0,570.7 L383.1,571.0 L383.5,570.7 L384.0,571.2 L384.5,571.7 L385.0,572.4 L385.5,572.6 L386.0,572.9 L386.2,573.0 L386.5,572.6 L387.0,572.8 L387.5,572.4 L388.0,571.8 L388.5,572.0 L388.6,572.7 L389.0,573.4 L389.5,575.8 L390.0,580.6 L390.3,583.9 L390.5,593.5 L391.0,624.6 L391.1,626.1 L391.5,623.5 L392.0,618.1 L392.3,616.5 L392.5,616.3 L393.0,617.9 L393.5,619.2 L394.0,620.0 L394.5,620.8 L394.8,620.7 L395.0,620.6 L395.5,621.3 L396.0,621.0 L396.5,621.1 L397.0,621.7 L397.5,621.8 L398.0,621.9 L398.5,621.8 L399.0,621.3 L399.5,621.4 L400.0,621.0 L400.5,620.3 L401.0,620.1 L401.5,619.7 L402.0,618.4 L402.5,616.3 L402.6,616.4 L403.0,616.3 L403.5,615.0 L404.0,613.6 L404.2,612.7 L404.5,607.8 L405.0,594.6 L405.0,594.0 L405.5,587.3 L406.0,581.6 L406.3,579.8 L406.5,578.5 L407.0,576.2 L407.5,574.2 L408.0,572.5 L408.5,570.7 L408.7,569.7 L409.0,568.8 L409.5,567.0 L410.0,565.0 L410.5,563.4 L411.0,561.8 L411.5,560.5 L411.8,560.6 L412.0,560.5 L412.5,559.1 L413.0,558.1 L413.5,557.0 L414.0,556.3 L414.5,555.6 L414.9,554.9 L415.0,554.8 L415.5,553.1 L416.0,550.7 L416.5,548.6 L417.0,546.6 L417.3,544.9 L417.5,544.2 L418.0,542.1 L418.5,540.2 L419.0,538.2 L419.5,535.9 L420.0,534.1 L420.0,533.8 L420.5,533.0 L421.0,532.7 L421.5,532.1 L422.0,531.1 L422.5,530.4 L423.0,529.5 L423.1,529.3 L423.5,529.1 L424.0,528.3 L424.5,527.3 L425.0,527.4 L425.5,526.9 L426.0,526.4 L426.5,526.7 L426.8,526.7 L427.0,526.8 L427.5,527.1 L428.0,527.6 L428.5,527.7 L429.0,528.3 L429.5,528.9 L430.0,529.8 L430.3,530.8 L430.5,531.1 L431.0,531.4 L431.5,532.2 L432.0,532.5 L432.5,533.0 L433.0,534.1 L433.3,534.5 L433.5,534.9 L434.0,536.1 L434.5,537.7 L435.0,539.8 L435.5,541.5 L435.8,542.5 L436.0,543.5 L436.5,545.5 L437.0,547.1 L437.5,548.9 L438.0,550.7 L438.5,552.0 L438.5,552.0 L439.0,553.5 L439.5,554.8 L440.0,555.9 L440.5,557.3 L441.0,558.4 L441.5,559.0 L441.5,559.1 L442.0,560.1 L442.5,561.0 L443.0,561.6 L443.5,561.7 L444.0,562.3 L444.5,563.0 L444.6,563.1 L445.0,563.4 L445.5,563.7 L446.0,564.3 L446.5,565.3 L447.0,566.2 L447.3,566.4 L447.5,565.9 L448.0,565.8 L448.5,565.6 L449.0,565.6 L449.5,564.8 L450.0,563.0 L450.2,562.0 L450.5,560.2 L451.0,554.8 L451.5,547.5 L451.8,542.9 L452.0,539.3 L452.5,527.2 L452.8,523.0 L453.0,522.5 L453.5,522.0 L454.0,522.5 L454.3,522.3 L454.5,521.5 L455.0,522.0 L455.5,523.5 L456.0,524.2 L456.5,524.5 L456.9,525.2 L457.0,525.6 L457.5,525.8 L458.0,526.0 L458.5,526.2 L459.0,526.1 L459.5,526.1 L460.0,526.4 L460.0,526.1 L460.5,526.0 L461.0,526.1 L461.5,525.8 L462.0,525.5 L462.5,524.6 L463.0,523.7 L463.1,524.0 L463.5,524.0 L464.0,523.4 L464.5,522.8 L465.0,522.1 L465.1,522.4 L465.5,525.8 L466.0,535.5 L466.2,538.8 L466.5,545.6 L467.0,556.3 L467.2,559.2 L467.5,562.8 L468.0,568.4 L468.5,571.8 L468.6,572.0 L469.0,573.0 L469.5,573.7 L470.0,574.3 L470.5,575.5 L471.0,576.4 L471.3,576.5 L471.5,576.2 L472.0,575.2 L472.5,573.9 L473.0,573.7 L473.5,572.9 L474.0,572.6 L474.4,572.8 L474.5,571.7 L475.0,572.6 L475.5,573.3 L476.0,573.9 L476.5,574.5 L477.0,574.3 L477.4,575.4 L477.5,575.7 L478.0,576.5 L478.5,578.2 L479.0,580.3 L479.5,581.9 L479.5,581.5 L480.0,582.4 L480.5,583.7 L481.0,585.0 L481.5,586.1 L482.0,587.3 L482.2,587.8 L482.5,589.6 L483.0,593.1 L483.5,597.2 L484.0,601.5 L484.5,605.5 L484.6,606.7 L485.0,608.4 L485.5,611.5 L486.0,614.7 L486.5,617.2 L487.0,618.6 L487.1,618.9 L487.5,619.6 L488.0,620.3 L488.5,621.2 L489.0,621.9 L489.5,622.0 L489.7,622.5 L490.0,622.8 L490.5,621.9 L491.0,621.9 L491.5,622.4 L492.0,622.5 L492.5,622.8 L493.0,622.6 L493.5,622.0 L493.8,622.3 L494.0,622.8 L494.5,621.4 L495.0,619.0 L495.5,616.5 L495.9,614.5 L496.0,613.8 L496.5,609.0 L497.0,603.2 L497.3,600.2 L497.5,599.1 L498.0,595.9 L498.5,593.6 L499.0,592.1 L499.0,592.3 L499.5,590.8 L500.0,589.7 L500.5,589.1 L501.0,588.4 L501.0,588.0 L501.5,586.2 L502.0,584.9 L502.5,583.5 L503.0,582.2 L503.1,582.0 L503.5,580.6 L504.0,579.0 L504.5,578.0 L504.7,578.5 L505.0,578.4 L505.5,578.2 L506.0,579.1 L506.5,580.1 L507.0,580.5 L507.2,580.5 L507.5,581.0 L508.0,581.3 L508.5,581.2 L509.0,581.5 L509.2,581.7 L509.5,580.9 L510.0,581.0 L510.5,581.0 L511.0,580.6 L511.5,580.4 L512.0,579.8 L512.3,579.4 L512.5,579.0 L513.0,578.7 L513.5,578.5 L514.0,578.1 L514.5,577.5 L515.0,576.4 L515.4,576.1 L515.5,576.8 L516.0,576.0 L516.5,574.7 L517.0,573.7 L517.5,573.3 L517.8,573.1 L518.0,573.6 L518.5,576.9 L519.0,579.4 L519.1,579.6 L519.5,576.0 L519.9,571.7 L520.0,571.8 L520.5,572.9 L521.0,573.4 L521.1,573.5 L521.5,588.8 L521.9,614.5 L522.0,615.3 L522.5,623.4 L523.0,627.5 L523.2,627.4 L523.5,627.4 L524.0,626.5 L524.5,625.0 L525.0,623.5 L525.5,622.6 L525.6,622.3 L526.0,622.7 L526.5,623.5 L527.0,623.6 L527.5,623.4 L528.0,623.4 L528.5,624.1 L528.7,623.7 L529.0,622.6 L529.5,623.2 L530.0,624.2 L530.5,625.0 L531.0,625.2 L531.5,625.2 L531.8,625.1 L532.0,624.7 L532.5,624.2 L533.0,624.3 L533.5,624.1 L534.0,623.8 L534.5,624.2 L534.9,623.8 L535.0,623.6 L535.5,625.8 L536.0,628.8 L536.4,630.2 L536.5,629.7 L537.0,627.6 L537.5,624.2 L538.0,622.3 L538.1,621.9 L538.5,624.6 L539.0,630.9 L539.1,631.9 L539.5,636.4 L540.0,641.9 L540.5,647.2 L540.5,647.5 L541.0,652.9 L541.5,656.8 L541.5,657.0 L542.0,650.9 L542.5,637.2 L542.6,635.1 L543.0,618.8 L543.4,604.3 L543.5,601.8 L544.0,591.3 L544.2,589.8 L544.5,590.7 L545.0,593.7 L545.5,597.1 L545.6,598.2 L546.0,599.1 L546.5,599.9 L547.0,600.8 L547.5,601.7 L547.7,602.3 L548.0,602.8 L548.5,603.4 L549.0,604.8 L549.5,606.4 L550.0,607.3 L550.5,607.8 L550.8,607.4 L551.0,606.6 L551.5,606.4 L552.0,606.5 L552.5,605.7 L553.0,605.1 L553.5,605.5 L553.8,605.3 L554.0,605.8 L554.5,606.3 L555.0,605.6 L555.5,605.4 L556.0,605.9 L556.5,606.7 L556.9,607.2 L557.0,606.7 L557.5,606.5 L558.0,606.6 L558.5,606.3 L559.0,605.1 L559.5,604.1 L560.0,603.8 L560.0,603.6 L560.5,603.5 L561.0,603.3 L561.5,602.2 L562.0,601.3 L562.5,600.5 L562.7,600.4 L563.0,598.8 L563.5,595.1 L564.0,592.2 L564.1,592.2 L564.5,593.6 L565.0,595.1 L565.5,595.8 L565.5,596.2 L566.0,595.4 L566.5,592.6 L567.0,589.4 L567.5,588.3 L567.6,588.4 L568.0,588.3 L568.5,591.5 L569.0,595.3 L569.2,596.6 L569.5,597.6 L570.0,599.4 L570.5,600.1 L571.0,600.3 L571.3,600.7 L571.5,601.7 L572.0,602.9 L572.5,603.1 L573.0,603.6 L573.5,604.8 L574.0,605.9 L574.4,606.3 L574.5,606.3 L575.0,606.5 L575.5,607.3 L576.0,607.8 L576.5,608.1 L577.0,608.4 L577.4,608.3 L577.5,608.4 L578.0,608.5 L578.5,608.6 L579.0,608.9 L579.5,608.7 L580.0,608.6 L580.5,608.8 L580.5,609.1 L581.0,609.1 L581.5,608.8 L582.0,608.7 L582.5,608.3 L583.0,607.9 L583.5,607.4 L583.6,606.7 L584.0,606.0 L584.5,603.3 L585.0,600.2 L585.5,598.7 L585.6,598.7 L586.0,597.8 L586.5,597.6 L587.0,597.8 L587.5,597.1 L587.7,596.8 L588.0,596.7 L588.5,596.0 L589.0,595.6 L589.5,594.8 L589.7,594.8 L590.0,596.0 L590.5,597.1 L591.0,598.9 L591.5,601.0 L591.8,602.4 L592.0,602.9 L592.5,603.8 L593.0,605.5 L593.5,606.1 L594.0,606.3 L594.3,606.6 L594.5,606.8 L595.0,607.6 L595.5,608.1 L596.0,608.8 L596.5,609.5 L597.0,610.1 L597.5,610.6 L597.9,610.4 L598.0,610.7 L598.5,610.4 L599.0,610.0 L599.5,609.6 L600.0,609.5 L600.5,609.1 L601.0,608.5 L601.0,608.5 L601.5,607.7 L602.0,606.8 L602.5,605.4 L603.0,604.2 L603.1,604.2 L603.5,603.2 L604.0,601.4 L604.5,599.2 L605.0,596.8 L605.1,596.2 L605.5,594.7 L606.0,591.9 L606.5,588.8 L607.0,586.6 L607.2,586.4 L607.5,585.2 L608.0,583.2 L608.5,581.8 L608.6,581.4 L609.0,580.7 L609.5,579.8 L610.0,579.6 L610.5,579.5 L611.0,578.5 L611.3,577.7 L611.5,577.5 L612.0,576.4 L612.5,575.1 L613.0,574.1 L613.5,573.2 L613.9,573.0 L614.0,573.9 L614.5,573.3 L615.0,572.2 L615.5,571.8 L616.0,571.4 L616.4,571.5 L616.5,571.6 L617.0,570.3 L617.5,568.0 L618.0,566.3 L618.5,565.8 L618.5,565.8 L619.0,568.5 L619.5,572.8 L619.9,574.6 L620.0,574.0 L620.5,564.7 L620.9,553.1 L621.0,551.4 L621.5,535.6 L621.9,526.4 L622.0,525.9 L622.5,524.5 L623.0,523.4 L623.5,522.4 L624.0,522.5 L624.2,522.3 L624.5,521.7 L625.0,522.3 L625.5,523.6 L626.0,524.2 L626.5,524.8 L626.7,524.6 L627.0,523.9 L627.5,523.8 L628.0,523.7 L628.5,524.6 L629.0,524.9 L629.5,524.2 L629.7,523.7 L630.0,524.0 L630.5,523.7 L631.0,522.6 L631.5,522.5 L632.0,522.1 L632.4,521.5 L632.5,522.2 L633.0,522.5 L633.5,523.0 L634.0,523.1 L634.1,522.3 L634.5,526.8 L634.9,532.6 L635.0,533.7 L635.5,538.7 L635.9,542.6 L636.0,543.3 L636.5,548.5 L636.9,551.3 L637.0,551.2 L637.5,547.8 L637.7,546.8 L638.0,550.9 L638.5,565.1 L638.6,565.4 L639.0,564.1 L639.5,561.3 L640.0,559.5 L640.0,559.5 L640.5,558.6 L641.0,558.3 L641.5,557.3 L642.0,555.8 L642.1,555.5 L642.5,557.5 L643.0,560.6 L643.5,562.7 L643.7,563.1 L644.0,563.0 L644.5,559.4 L645.0,555.8 L645.1,555.7 L645.5,558.9 L645.9,573.5 L646.0,583.0 L646.2,662.7 L646.5,662.7 L647.0,662.7 L647.5,662.7 L648.0,662.7 L648.5,662.7 L649.0,662.7 L649.5,662.7 L650.0,662.7 L650.5,662.7 L651.0,662.7 L651.5,662.7 L652.0,662.7 L652.5,662.7 L653.0,662.7 L653.5,662.7 L654.0,662.7 L654.5,662.7 L654.8,662.7"/>
</g>
<rect class="sp" x="83.65" y="369.0" width="571.1" height="294.5"/>
<path class="sp" d="M112.8,663.5v4 M236.6,663.5v4 M360.4,663.5v4 M484.2,663.5v4 M608.0,663.5v4 M83.65,663.5h-4 M83.65,584.7h-4 M83.65,505.9h-4 M83.65,427.1h-4 M654.8,663.5h4 M654.8,565.4h4 M654.8,467.2h4 M654.8,369.0h4"/>
<text class="tk" transform="translate(112.8,693.5) scale(1,1.06)" text-anchor="middle"><tspan class="mn" dy="1.6" stroke-width="0.45">−</tspan><tspan dy="-1.6" dx="-0.5">40</tspan></text>
<text class="tk" transform="translate(236.6,693.5) scale(1,1.06)" text-anchor="middle"><tspan class="mn" dy="1.6" stroke-width="0.45">−</tspan><tspan dy="-1.6" dx="-0.5">20</tspan></text>
<text class="tk" transform="translate(360.4,693.5) scale(1,1.06)" text-anchor="middle">0</text>
<text class="tk" transform="translate(484.2,693.5) scale(1,1.06)" text-anchor="middle">20</text>
<text class="tk" transform="translate(608.0,693.5) scale(1,1.06)" text-anchor="middle">40</text>
<text class="tk" transform="translate(75.9,675.1) scale(1,1.06)" text-anchor="end">0</text>
<text class="tk" transform="translate(75.9,596.3) scale(1,1.06)" text-anchor="end">2</text>
<text class="tk" transform="translate(75.9,517.5) scale(1,1.06)" text-anchor="end">4</text>
<text class="tk" transform="translate(75.9,438.7) scale(1,1.06)" text-anchor="end">6</text>
<text class="tk" transform="translate(662.0,675.1) scale(1,1.06)" text-anchor="start">0</text>
<text class="pi" x="686.4" y="675.3">π</text>
<text class="tk" transform="translate(662.0,577.0) scale(1,1.06)" text-anchor="start">2</text>
<text class="pi" x="686.4" y="577.1">π</text>
<text class="tk" transform="translate(662.0,478.8) scale(1,1.06)" text-anchor="start">4</text>
<text class="pi" x="686.4" y="479.0">π</text>
<text class="tk" transform="translate(662.0,380.6) scale(1,1.06)" text-anchor="start">6</text>
<text class="pi" x="686.4" y="380.8">π</text>
<text class="lb" x="89.90" y="398.20">c)</text>
<text class="lb" x="647.4" y="398.40" text-anchor="end">5L<tspan class="sm">nl</tspan></text>
</g>
<g id="panel-d">
<g clip-path="url(#cpd)">
<path class="bl" d="M742.5,654.2 L743.0,657.9 L743.5,660.5 L744.0,661.4 L744.1,661.5 L744.5,662.1 L745.0,661.3 L745.5,659.7 L746.0,657.8 L746.2,656.9 L746.5,654.8 L747.0,648.3 L747.5,639.5 L748.0,629.7 L748.2,624.9 L748.5,619.5 L749.0,607.5 L749.5,594.2 L749.8,583.7 L750.0,580.6 L750.5,566.7 L751.0,552.2 L751.3,542.8 L751.5,537.1 L752.0,520.2 L752.3,512.0 L752.5,509.7 L752.9,505.2 L753.0,505.2 L753.5,508.6 L753.7,512.0 L754.0,517.2 L754.5,539.5 L754.8,553.0 L755.0,559.9 L755.5,577.2 L756.0,592.9 L756.0,594.1 L756.5,607.7 L757.0,621.5 L757.4,631.0 L757.5,631.4 L758.0,638.2 L758.5,643.6 L759.0,648.0 L759.5,651.3 L759.5,651.5 L760.0,654.2 L760.5,656.6 L761.0,658.4 L761.5,659.0 L761.5,658.8 L762.0,658.7 L762.5,657.8 L763.0,656.1 L763.5,654.5 L763.6,654.3 L764.0,653.0 L764.5,651.5 L765.0,650.2 L765.5,648.2 L765.6,647.2 L766.0,645.3 L766.5,640.8 L767.0,635.2 L767.5,629.4 L767.7,626.9 L768.0,623.9 L768.5,618.0 L769.0,612.1 L769.5,606.9 L769.7,604.4 L770.0,602.5 L770.5,598.5 L771.0,595.5 L771.2,594.9 L771.5,595.0 L772.0,594.5 L772.4,594.0 L772.5,594.0 L773.0,591.4 L773.5,588.3 L773.8,587.0 L774.0,587.1 L774.5,595.9 L774.9,604.2 L775.0,605.5 L775.5,612.3 L776.0,618.6 L776.5,624.3 L776.5,624.8 L777.0,629.6 L777.5,634.6 L777.9,639.0 L778.0,639.2 L778.5,644.0 L779.0,648.7 L779.5,652.5 L780.0,654.1 L780.0,654.3 L780.5,654.1 L781.0,653.0 L781.5,652.0 L782.0,651.6 L782.1,651.9 L782.5,652.1 L783.0,653.4 L783.5,655.0 L784.0,656.4 L784.1,656.6 L784.5,657.6 L785.0,658.8 L785.5,659.5 L786.0,660.6 L786.2,660.9 L786.5,660.9 L787.0,661.6 L787.5,662.1 L788.0,662.3 L788.2,662.3 L788.5,661.3 L789.0,655.7 L789.5,648.0 L789.6,645.4 L790.0,640.8 L790.5,632.6 L791.0,624.1 L791.3,618.7 L791.5,615.6 L792.0,606.9 L792.5,598.0 L792.9,590.0 L793.0,589.3 L793.5,580.0 L794.0,571.1 L794.4,565.4 L794.5,564.0 L795.0,557.5 L795.5,552.4 L795.8,550.7 L796.0,550.7 L796.5,550.2 L796.8,550.1 L797.0,550.4 L797.5,556.2 L798.0,564.2 L798.1,565.3 L798.5,569.9 L799.0,575.4 L799.5,581.5 L799.5,581.7 L800.0,588.3 L800.5,596.1 L800.9,604.3 L801.0,605.0 L801.5,618.8 L802.0,631.2 L802.2,633.0 L802.5,633.7 L803.0,634.9 L803.5,635.3 L804.0,636.0 L804.0,636.6 L804.5,636.7 L805.0,636.8 L805.5,637.1 L805.6,637.1 L806.0,634.0 L806.5,624.6 L806.7,622.7 L807.0,622.2 L807.5,622.0 L808.0,621.4 L808.1,620.8 L808.5,617.1 L809.0,608.4 L809.3,604.2 L809.5,603.8 L810.0,601.9 L810.5,600.4 L810.8,600.0 L811.0,600.7 L811.5,603.9 L812.0,608.4 L812.2,610.5 L812.5,613.1 L813.0,619.7 L813.5,626.6 L813.8,630.8 L814.0,632.0 L814.5,636.7 L815.0,640.9 L815.5,644.1 L815.9,645.5 L816.0,645.9 L816.5,645.9 L817.0,645.7 L817.5,645.9 L817.9,646.5 L818.0,646.8 L818.5,646.9 L819.0,647.5 L819.5,648.0 L820.0,647.9 L820.5,648.2 L821.0,649.0 L821.0,649.5 L821.5,650.2 L822.0,651.4 L822.5,652.9 L823.0,654.1 L823.1,654.3 L823.5,655.3 L824.0,656.4 L824.5,657.3 L825.0,658.3 L825.5,659.2 L826.0,660.0 L826.2,659.9 L826.5,659.1 L827.0,659.1 L827.5,659.1 L828.0,658.5 L828.2,658.2 L828.5,657.3 L829.0,652.6 L829.5,645.3 L829.8,639.1 L830.0,637.2 L830.5,626.2 L831.0,613.0 L831.3,604.4 L831.5,599.5 L832.0,585.0 L832.5,570.4 L832.7,563.3 L833.0,557.0 L833.5,544.5 L833.9,532.5 L834.0,532.2 L834.5,517.0 L834.8,511.9 L835.0,511.5 L835.4,511.2 L835.5,510.8 L836.0,511.7 L836.2,512.1 L836.5,515.4 L837.0,533.2 L837.4,553.1 L837.5,554.0 L838.0,574.4 L838.5,594.0 L839.0,610.6 L839.5,625.4 L839.9,635.1 L840.0,636.3 L840.5,645.4 L841.0,651.3 L841.1,651.7 L841.5,651.4 L842.0,651.1 L842.5,650.6 L843.0,650.1 L843.5,649.8 L843.6,649.3 L844.0,648.6 L844.5,647.9 L845.0,647.1 L845.5,645.8 L845.6,645.2 L846.0,644.2 L846.5,642.1 L847.0,639.5 L847.5,636.6 L847.7,635.2 L848.0,633.3 L848.5,628.7 L849.0,624.2 L849.1,623.0 L849.5,620.1 L850.0,615.8 L850.5,612.2 L850.8,610.4 L851.0,609.5 L851.5,607.6 L852.0,606.2 L852.4,605.5 L852.5,605.5 L853.0,606.3 L853.5,607.9 L853.8,608.7 L854.0,608.7 L854.5,606.6 L854.9,605.5 L855.0,605.8 L855.5,607.7 L856.0,611.8 L856.3,614.8 L856.5,615.9 L857.0,619.9 L857.5,623.9 L857.9,626.7 L858.0,626.8 L858.5,629.4 L859.0,631.4 L859.5,633.0 L860.0,634.0 L860.0,634.4 L860.5,634.7 L861.0,634.4 L861.5,634.4 L862.0,634.6 L862.1,635.1 L862.5,634.3 L863.0,631.5 L863.5,628.3 L863.7,627.0 L864.0,625.1 L864.5,621.5 L864.7,620.4 L865.0,620.8 L865.5,622.8 L866.0,624.6 L866.2,624.9 L866.5,623.8 L867.0,619.7 L867.5,615.2 L867.6,614.4 L868.0,613.0 L868.5,611.4 L869.0,609.5 L869.2,608.4 L869.5,607.0 L870.0,602.7 L870.5,598.4 L870.9,596.1 L871.0,595.8 L871.5,594.3 L872.0,593.1 L872.3,592.6 L872.5,593.3 L873.0,595.9 L873.3,598.2 L873.5,599.2 L874.0,604.9 L874.5,611.4 L874.8,614.6 L875.0,616.1 L875.5,620.1 L876.0,623.7 L876.4,627.0 L876.5,627.4 L877.0,630.8 L877.5,634.1 L878.0,637.2 L878.5,639.6 L879.0,640.6 L879.5,641.2 L880.0,642.2 L880.5,643.1 L880.5,643.2 L881.0,644.7 L881.5,646.8 L882.0,648.9 L882.5,650.9 L882.6,651.6 L883.0,653.1 L883.5,655.0 L884.0,656.7 L884.5,657.9 L884.6,658.5 L885.0,659.1 L885.5,659.5 L886.0,660.3 L886.5,660.9 L886.7,660.7 L887.0,660.9 L887.5,661.7 L888.0,662.3 L888.5,662.6 L888.7,662.7 L889.0,662.7 L889.5,660.4 L890.0,656.3 L890.5,651.1 L890.8,647.5 L891.0,644.4 L891.5,630.8 L892.0,613.0 L892.2,604.3 L892.5,594.7 L893.0,573.4 L893.4,553.0 L893.5,552.0 L894.0,528.5 L894.5,512.0 L895.0,505.5 L895.5,500.7 L896.0,497.9 L896.3,497.1 L896.5,497.4 L897.0,500.0 L897.5,505.1 L897.9,512.0 L898.0,512.2 L898.5,529.4 L899.0,552.5 L899.0,553.0 L899.5,573.2 L900.0,592.7 L900.0,594.0 L900.5,609.3 L901.0,624.2 L901.4,635.1 L901.5,635.5 L902.0,644.3 L902.5,651.7 L903.0,656.5 L903.1,657.0 L903.5,658.2 L904.0,659.8 L904.5,661.2 L905.0,662.3 L905.5,662.7 L905.7,662.7 L906.0,662.7 L906.5,662.2 L907.0,661.7 L907.5,662.0 L908.0,661.8 L908.5,661.7 L909.0,662.1 L909.2,661.7 L909.5,661.4 L910.0,661.9 L910.5,662.6 L911.0,663.0 L911.5,663.0 L911.9,662.7 L912.0,662.7 L912.5,662.0 L913.0,660.2 L913.5,657.5 L913.9,654.2 L914.0,654.0 L914.5,644.9 L915.0,629.2 L915.4,614.6 L915.5,612.0 L916.0,591.8 L916.4,573.5 L916.5,571.6 L917.0,554.7 L917.5,538.5 L917.6,532.5 L918.0,520.9 L918.3,512.0 L918.5,507.5 L919.0,497.6 L919.5,491.3 L919.7,490.6 L920.0,492.2 L920.5,500.5 L920.9,512.0 L921.0,513.1 L921.5,538.1 L921.7,553.0 L922.0,562.5 L922.5,582.5 L922.8,594.0 L923.0,601.2 L923.5,619.5 L924.0,634.2 L924.0,635.1 L924.5,645.2 L925.0,654.6 L925.5,660.4 L925.6,661.3 L926.0,661.4 L926.5,661.5 L927.0,661.8 L927.5,662.4 L928.0,662.3 L928.5,662.0 L928.7,662.4 L929.0,662.0 L929.5,660.7 L930.0,659.2 L930.5,657.6 L930.8,656.8 L931.0,656.3 L931.5,655.9 L932.0,655.5 L932.5,655.0 L933.0,654.9 L933.5,654.5 L933.8,654.2 L934.0,654.3 L934.5,653.7 L935.0,653.2 L935.5,652.4 L935.9,651.2 L936.0,651.2 L936.5,650.3 L937.0,648.3 L937.5,645.9 L937.9,643.3 L938.0,643.3 L938.5,638.5 L939.0,632.1 L939.4,627.0 L939.5,626.1 L940.0,621.0 L940.5,616.1 L941.0,609.5 L941.0,608.3 L941.5,595.0 L942.0,576.0 L942.1,573.5 L942.5,562.8 L943.0,553.7 L943.1,553.2 L943.5,552.6 L944.0,552.0 L944.5,552.0 L945.0,551.9 L945.1,551.2 L945.5,553.2 L946.0,560.3 L946.2,563.3 L946.5,568.7 L947.0,579.3 L947.2,583.8 L947.5,589.4 L948.0,599.4 L948.5,608.7 L948.8,614.5 L949.0,616.6 L949.5,623.5 L950.0,629.6 L950.5,635.1 L950.9,639.2 L951.0,640.0 L951.5,644.9 L952.0,649.6 L952.5,653.1 L952.9,654.2 L953.0,654.2 L953.5,653.4 L954.0,651.7 L954.5,650.8 L955.0,650.2 L955.0,650.1 L955.5,653.0 L956.0,657.9 L956.4,660.4 L956.5,660.6 L957.0,661.7 L957.5,662.5 L958.0,662.9 L958.5,663.2 L959.0,663.3 L959.5,663.3 L959.5,663.3 L960.0,663.2 L960.5,662.4 L961.0,660.8 L961.5,659.1 L962.0,657.4 L962.1,656.9 L962.5,655.3 L963.0,653.8 L963.5,652.5 L964.0,651.0 L964.5,648.9 L965.0,646.2 L965.1,645.3 L965.5,642.5 L966.0,636.3 L966.5,628.9 L967.0,621.5 L967.2,618.6 L967.5,614.8 L968.0,607.3 L968.5,601.6 L968.8,600.3 L969.0,600.6 L969.5,605.3 L970.0,611.0 L970.3,612.4 L970.5,611.9 L971.0,606.8 L971.5,598.4 L971.7,594.0 L972.0,587.6 L972.5,570.5 L972.9,553.0 L973.0,551.6 L973.5,531.0 L973.9,511.9 L974.0,511.5 L974.5,493.7 L975.0,476.0 L975.5,462.2 L976.0,456.0 L976.0,455.8 L976.5,460.0 L977.0,471.8 L977.5,488.8 L978.0,508.4 L978.1,512.0 L978.5,537.6 L978.9,563.3 L979.0,566.8 L979.5,581.8 L979.9,594.1 L980.0,596.2 L980.5,617.4 L980.9,630.9 L981.0,631.3 L981.5,636.0 L982.0,638.9 L982.2,639.1 L982.5,637.6 L983.0,632.8 L983.2,631.8 L983.5,633.6 L984.0,640.7 L984.2,643.1 L984.5,644.7 L985.0,647.3 L985.5,648.6 L985.6,649.0 L986.0,648.8 L986.5,648.6 L987.0,647.7 L987.1,647.3 L987.5,645.6 L988.0,642.7 L988.3,641.7 L988.5,642.1 L989.0,646.6 L989.5,652.3 L989.7,654.1 L990.0,654.8 L990.5,656.4 L991.0,657.6 L991.5,658.2 L991.8,658.1 L992.0,657.9 L992.5,655.0 L993.0,652.0 L993.2,651.9 L993.5,652.1 L994.0,655.4 L994.5,659.4 L994.9,661.0 L995.0,661.0 L995.5,657.2 L996.0,650.7 L996.5,643.9 L996.5,643.3 L997.0,638.6 L997.5,633.2 L997.9,626.9 L998.0,626.7 L998.5,616.6 L999.0,604.2 L999.4,594.1 L999.5,592.5 L1000.0,581.4 L1000.5,571.7 L1000.6,569.5 L1001.0,564.8 L1001.5,558.8 L1002.0,555.7 L1002.1,555.2 L1002.5,556.9 L1003.0,560.3 L1003.5,562.1 L1003.5,562.1 L1004.0,561.7 L1004.5,561.4 L1004.7,561.1 L1005.0,566.4 L1005.5,591.0 L1005.5,594.1 L1006.0,610.0 L1006.5,626.4 L1006.8,631.1 L1007.0,632.0 L1007.5,633.4 L1008.0,634.1 L1008.2,634.9 L1008.5,637.9 L1009.0,647.8 L1009.2,651.4 L1009.5,653.2 L1010.0,656.3 L1010.5,658.7 L1011.0,660.6 L1011.3,661.1 L1011.5,661.2 L1012.0,661.7 L1012.5,662.0 L1013.0,662.2 L1013.5,662.3 L1014.0,662.7 L1014.4,662.7 L1014.5,662.7 L1015.0,662.5 L1015.5,661.9 L1016.0,661.5 L1016.4,661.7 L1016.5,661.7 L1017.0,661.7 L1017.5,661.7 L1018.0,661.6 L1018.5,662.0 L1019.0,662.7 L1019.5,662.9 L1019.5,662.7 L1020.0,662.9 L1020.5,663.0 L1021.0,663.2 L1021.5,663.3 L1022.0,663.3 L1022.5,663.3 L1022.6,663.3 L1023.0,663.0 L1023.5,660.8 L1024.0,657.5 L1024.5,653.1 L1024.6,651.5 L1025.0,644.8 L1025.5,627.7 L1026.0,607.7 L1026.1,604.3 L1026.5,588.5 L1027.0,567.4 L1027.3,553.1 L1027.5,543.8 L1028.0,516.8 L1028.1,512.0 L1028.5,503.0 L1029.0,493.1 L1029.5,488.7 L1029.5,488.8 L1030.0,490.6 L1030.5,497.4 L1031.0,507.2 L1031.2,512.0 L1031.5,520.3 L1032.0,541.9 L1032.2,553.0 L1032.5,565.3 L1033.0,591.4 L1033.2,604.3 L1033.5,615.1 L1034.0,637.4 L1034.3,645.3 L1034.5,648.4 L1035.0,654.8 L1035.5,659.1 L1035.9,661.0 L1036.0,660.8 L1036.5,661.0 L1037.0,662.0 L1037.5,662.6 L1037.9,662.8 L1038.0,662.4 L1038.5,660.4 L1039.0,656.0 L1039.5,650.6 L1040.0,645.6 L1040.0,645.3 L1040.5,641.7 L1041.0,637.8 L1041.5,633.7 L1042.0,629.7 L1042.1,629.0 L1042.5,625.0 L1043.0,619.6 L1043.5,614.5 L1043.7,612.5 L1044.0,610.0 L1044.5,605.9 L1044.7,605.2 L1045.0,605.9 L1045.5,609.6 L1046.0,613.2 L1046.2,613.8 L1046.5,613.3 L1047.0,612.3 L1047.2,612.2 L1047.5,613.0 L1048.0,616.8 L1048.5,621.4 L1048.6,622.6 L1049.0,624.9 L1049.5,627.9 L1049.8,630.8 L1050.0,632.1 L1050.5,637.7 L1051.0,643.2 L1051.3,645.3 L1051.5,645.9 L1052.0,647.3 L1052.5,648.1 L1053.0,648.5 L1053.3,649.0 L1053.5,649.4 L1054.0,650.8 L1054.5,651.8 L1055.0,653.0 L1055.4,654.4 L1055.5,654.4 L1056.0,656.1 L1056.5,657.9 L1057.0,659.4 L1057.5,661.1 L1058.0,662.2 L1058.1,662.2 L1058.5,660.4 L1059.0,654.3 L1059.5,645.8 L1059.5,645.3 L1060.0,629.3 L1060.5,606.4 L1060.5,604.3 L1061.0,586.8 L1061.5,566.7 L1061.5,563.3 L1062.0,540.6 L1062.5,515.3 L1062.6,512.0 L1063.0,501.3 L1063.5,489.3 L1064.0,480.5 L1064.5,476.1 L1064.6,475.9 L1065.0,476.9 L1065.5,483.0 L1066.0,493.0 L1066.5,506.0 L1066.7,512.0 L1067.0,526.5 L1067.5,561.6 L1067.5,563.3 L1068.0,595.4 L1068.3,614.5 L1068.5,620.7 L1069.0,637.2 L1069.3,645.3 L1069.5,647.5 L1070.0,654.9 L1070.5,659.7 L1070.8,660.5 L1071.0,660.7 L1071.5,659.6 L1072.0,657.8 L1072.5,655.8 L1072.8,654.2 L1073.0,653.8 L1073.5,652.1 L1074.0,650.2 L1074.5,648.5 L1074.9,647.3 L1075.0,646.9 L1075.5,645.1 L1076.0,643.3 L1076.5,641.5 L1077.0,640.4 L1077.3,640.4 L1077.5,640.9 L1078.0,641.4 L1078.5,642.2 L1079.0,642.8 L1079.4,643.3 L1079.5,643.7 L1080.0,642.1 L1080.5,639.0 L1081.0,635.5 L1081.0,635.1 L1081.5,630.9 L1082.0,624.6 L1082.5,618.7 L1083.0,613.1 L1083.5,608.8 L1083.7,608.3 L1084.0,608.2 L1084.5,608.4 L1085.0,608.6 L1085.5,608.8 L1085.5,608.6 L1086.0,608.1 L1086.5,607.8 L1087.0,606.9 L1087.2,606.7 L1087.5,607.3 L1088.0,607.7 L1088.5,608.2 L1088.8,608.4 L1089.0,608.6 L1089.5,611.5 L1090.0,616.0 L1090.3,618.7 L1090.5,620.7 L1091.0,626.7 L1091.5,631.8 L1091.7,633.0 L1092.0,633.7 L1092.5,634.9 L1092.9,635.4 L1093.0,635.3 L1093.5,633.6 L1094.0,631.1 L1094.4,629.7 L1094.5,629.9 L1095.0,630.4 L1095.5,631.4 L1096.0,632.6 L1096.4,633.1 L1096.5,633.2 L1097.0,633.5 L1097.5,633.9 L1098.0,634.1 L1098.5,633.6 L1099.0,633.6 L1099.1,634.1 L1099.5,632.8 L1100.0,628.7 L1100.5,626.0 L1100.5,625.7 L1101.0,627.5 L1101.5,631.0 L1101.9,632.8 L1102.0,632.5 L1102.5,633.5 L1103.0,634.2 L1103.5,633.7 L1103.6,633.9 L1104.0,634.2 L1104.5,633.1 L1105.0,632.0 L1105.5,630.9 L1106.0,629.3 L1106.1,629.2 L1106.5,627.1 L1107.0,623.9 L1107.5,620.4 L1107.7,618.6 L1108.0,616.9 L1108.5,613.4 L1109.0,610.1 L1109.3,608.5 L1109.5,607.9 L1110.0,606.2 L1110.5,605.1 L1110.8,604.3 L1111.0,603.5 L1111.5,601.3 L1112.0,599.4 L1112.2,599.1 L1112.5,600.6 L1113.0,608.1 L1113.4,612.3 L1113.5,612.3 L1114.0,612.6 L1114.5,612.4 L1114.9,612.4 L1115.0,612.6 L1115.5,616.3 L1116.0,622.0 L1116.3,624.8 L1116.5,625.6 L1117.0,627.6 L1117.5,629.3 L1117.9,630.7 L1118.0,630.9 L1118.5,632.7 L1119.0,634.2 L1119.5,634.7 L1119.6,634.6 L1120.0,635.0 L1120.5,634.5 L1121.0,633.1 L1121.5,631.5 L1121.6,631.0 L1122.0,629.3 L1122.5,624.8 L1123.0,619.4 L1123.5,614.8 L1123.5,614.6 L1124.0,610.9 L1124.5,608.1 L1124.7,607.6 L1125.0,607.7 L1125.5,610.0 L1126.0,611.9 L1126.2,612.0 L1126.5,612.0 L1127.0,612.6 L1127.5,613.1 L1128.0,613.0 L1128.2,612.6 L1128.5,612.7 L1129.0,612.5 L1129.5,612.2 L1129.8,612.5 L1130.0,612.9 L1130.5,615.7 L1131.0,620.0 L1131.3,622.8 L1131.5,624.1 L1132.0,627.7 L1132.5,631.2 L1132.7,633.0 L1133.0,634.6 L1133.5,637.5 L1134.0,640.2 L1134.4,642.0 L1134.5,642.4 L1135.0,645.2 L1135.5,647.9 L1136.0,650.0 L1136.4,651.3 L1136.5,651.7 L1137.0,652.8 L1137.5,653.1 L1138.0,653.6 L1138.5,654.3 L1139.0,654.5 L1139.5,654.6 L1140.0,655.0 L1140.5,655.7 L1140.5,655.6 L1141.0,656.5 L1141.5,658.5 L1141.9,659.1 L1142.0,659.1 L1142.5,657.4 L1143.0,652.8 L1143.5,646.9 L1143.6,645.4 L1144.0,640.2 L1144.5,631.1 L1145.0,620.6 L1145.2,614.6 L1145.5,609.0 L1146.0,595.1 L1146.5,579.9 L1146.7,573.6 L1147.0,563.9 L1147.5,546.5 L1147.9,532.5 L1148.0,530.5 L1148.5,516.7 L1148.5,516.1 L1149.0,512.9 L1149.3,512.0 L1149.5,512.3 L1150.0,516.7 L1150.4,522.2 L1150.5,523.9 L1151.0,536.6 L1151.5,552.9 L1151.8,563.2 L1152.0,568.1 L1152.5,583.0 L1153.0,597.4 L1153.2,604.3 L1153.5,609.9 L1154.0,621.9 L1154.5,632.4 L1154.9,639.2 L1155.0,640.4 L1155.5,647.3 L1156.0,652.9 L1156.5,656.6 L1156.5,656.9 L1157.0,658.8 L1157.5,660.7 L1158.0,662.4 L1158.5,662.7 L1158.6,662.7 L1159.0,662.4 L1159.5,662.2 L1160.0,661.9 L1160.5,661.2 L1161.0,660.9 L1161.0,661.0 L1161.5,660.4 L1162.0,659.5 L1162.5,658.0 L1163.0,656.4 L1163.5,654.4 L1163.5,654.3 L1164.0,651.0 L1164.5,645.6 L1165.0,638.1 L1165.1,635.1 L1165.5,624.5 L1166.0,601.5 L1166.2,594.0 L1166.5,584.1 L1167.0,569.4 L1167.5,556.1 L1167.6,553.0 L1168.0,543.2 L1168.5,531.1 L1168.8,526.4 L1169.0,525.6 L1169.5,523.3 L1169.6,523.3 L1170.0,524.6 L1170.5,529.6 L1170.7,532.5 L1171.0,540.7 L1171.5,563.8 L1171.7,573.6 L1172.0,583.3 L1172.5,600.8 L1172.9,614.6 L1173.0,615.6 L1173.5,628.2 L1174.0,639.0 L1174.4,645.4 L1174.5,646.6 L1175.0,652.3 L1175.5,656.4 L1175.8,658.2 L1176.0,658.8 L1176.5,660.2 L1177.0,661.6 L1177.5,662.3 L1177.8,662.5 L1178.0,662.2 L1178.5,661.9 L1179.0,661.6 L1179.5,661.0 L1180.0,660.5 L1180.5,660.4 L1180.5,660.5 L1181.0,659.8 L1181.5,659.0 L1182.0,658.5 L1182.5,657.8 L1183.0,656.7 L1183.5,655.7 L1183.6,655.3 L1184.0,654.3 L1184.5,653.4 L1185.0,652.1 L1185.5,650.2 L1185.6,649.6 L1186.0,647.0 L1186.5,640.1 L1187.0,631.2 L1187.5,622.2 L1187.7,618.6 L1188.0,614.9 L1188.5,608.2 L1189.0,601.4 L1189.5,594.2 L1189.7,589.9 L1190.0,586.3 L1190.5,576.6 L1191.0,567.0 L1191.2,563.3 L1191.5,558.5 L1192.0,550.3 L1192.4,547.2 L1192.5,547.1 L1193.0,549.1 L1193.4,552.9 L1193.5,553.0 L1194.0,560.7 L1194.5,571.2 L1194.9,579.7 L1195.0,581.4 L1195.5,591.0 L1196.0,600.6 L1196.5,609.7 L1196.5,610.5 L1197.0,618.1 L1197.5,626.3 L1197.9,633.1 L1198.0,633.2 L1198.5,638.8 L1199.0,643.7 L1199.4,647.4 L1199.5,648.0 L1200.0,652.0 L1200.5,655.5 L1201.0,657.9 L1201.0,658.1 L1201.5,658.9 L1202.0,660.0 L1202.5,660.9 L1203.0,661.0 L1203.1,661.1 L1203.5,660.5 L1204.0,659.2 L1204.5,658.1 L1205.0,657.3 L1205.1,656.9 L1205.5,657.2 L1206.0,658.3 L1206.5,659.7 L1207.0,661.1 L1207.5,662.0 L1207.6,662.2 L1208.0,662.4 L1208.5,662.4 L1209.0,662.5 L1209.5,662.9 L1210.0,662.8 L1210.3,662.7 L1210.5,662.8 L1211.0,661.4 L1211.5,659.4 L1212.0,656.5 L1212.3,654.0 L1212.5,652.3 L1213.0,640.4 L1213.5,623.7 L1213.7,614.6 L1214.0,607.8 L1214.5,591.0 L1215.0,573.9 L1215.0,573.5 L1215.5,556.5 L1216.0,539.6 L1216.2,532.5 L1216.5,525.3 L1217.0,514.5 L1217.0,514.0 L1217.5,512.9 L1218.0,512.2 L1218.1,512.1 L1218.5,512.9 L1219.0,515.4 L1219.1,516.2 L1219.5,525.5 L1219.9,542.8 L1220.0,545.1 L1220.5,566.1 L1220.9,583.8 L1221.0,585.0 L1221.5,599.1 L1222.0,610.7 L1222.2,614.5 L1222.5,619.9 L1223.0,627.3 L1223.5,633.5 L1223.6,635.0 L1224.0,639.4 L1224.5,644.9 L1225.0,649.0 L1225.0,649.4 L1225.5,651.8 L1226.0,654.1 L1226.5,655.5 L1226.7,655.5 L1227.0,654.8 L1227.5,651.1 L1228.0,645.2 L1228.1,643.3 L1228.5,635.2 L1229.0,617.6 L1229.3,604.3 L1229.5,600.0 L1230.0,581.6 L1230.5,565.7 L1230.6,563.2 L1231.0,555.1 L1231.5,547.8 L1231.6,546.8 L1232.0,545.3 L1232.4,544.9 L1232.5,544.7 L1233.0,547.7 L1233.4,553.1 L1233.5,553.5 L1234.0,560.8 L1234.5,570.0 L1234.9,577.7 L1235.0,579.2 L1235.5,588.2 L1236.0,597.5 L1236.3,604.3 L1236.5,607.5 L1237.0,619.0 L1237.5,629.6 L1237.5,631.0 L1238.0,638.3 L1238.5,645.9 L1239.0,651.2 L1239.0,651.5 L1239.5,655.4 L1240.0,658.6 L1240.5,660.7 L1241.0,662.0 L1241.0,662.5 L1241.5,662.3 L1242.0,662.7 L1242.5,663.2 L1243.0,662.9 L1243.5,662.7 L1243.7,662.7 L1244.0,662.8 L1244.5,662.0 L1245.0,660.6 L1245.5,659.1 L1246.0,657.5 L1246.2,656.7 L1246.5,656.0 L1247.0,655.1 L1247.5,654.2 L1248.0,653.2 L1248.5,652.0 L1248.6,651.7 L1249.0,650.4 L1249.5,647.4 L1250.0,643.9 L1250.5,640.4 L1250.7,639.2 L1251.0,637.1 L1251.5,633.6 L1252.0,629.8 L1252.3,626.9 L1252.5,625.5 L1253.0,620.7 L1253.5,615.5 L1253.9,610.3 L1254.0,610.2 L1254.5,604.8 L1255.0,599.3 L1255.4,595.9 L1255.5,595.5 L1256.0,593.7 L1256.5,592.3 L1256.8,591.5 L1257.0,591.2 L1257.5,590.8 L1258.0,590.7 L1258.1,591.0 L1258.5,591.7 L1259.0,593.5 L1259.5,595.9 L1259.5,595.9 L1260.0,599.2 L1260.5,603.8 L1260.9,608.5 L1261.0,608.8 L1261.5,615.6 L1262.0,622.8 L1262.2,624.8 L1262.5,628.0 L1263.0,632.3 L1263.2,632.6 L1263.5,631.9 L1264.0,627.1 L1264.5,622.9 L1264.6,622.5 L1265.0,624.2 L1265.5,629.2 L1266.0,633.8 L1266.3,634.9 L1266.5,634.7 L1267.0,631.9 L1267.5,628.1 L1267.7,626.7 L1268.0,625.5 L1268.5,623.0 L1269.0,621.0 L1269.5,619.7 L1269.7,619.6 L1270.0,619.5 L1270.5,620.4 L1271.0,621.8 L1271.5,622.7 L1271.8,622.6 L1272.0,622.4 L1272.5,621.9 L1273.0,620.9 L1273.5,620.0 L1273.8,619.5 L1274.0,619.1 L1274.5,621.5 L1275.0,624.0 L1275.3,624.7 L1275.5,624.5 L1276.0,621.5 L1276.5,617.8 L1276.9,616.4 L1277.0,616.5 L1277.5,617.7 L1278.0,620.5 L1278.5,623.4 L1278.6,623.8 L1279.0,625.1 L1279.5,627.1 L1280.0,629.2 L1280.5,630.6 L1280.6,630.3 L1281.0,629.4 L1281.5,627.3 L1282.0,624.6 L1282.5,622.7 L1282.7,622.9 L1283.0,623.5 L1283.5,626.5 L1284.0,630.1 L1284.1,630.9 L1284.5,632.9 L1285.0,635.4 L1285.5,637.1 L1285.5,637.4 L1286.0,638.1 L1286.5,638.5 L1287.0,639.2 L1287.2,639.2 L1287.5,639.6 L1288.0,640.6 L1288.5,641.8 L1288.8,641.6 L1289.0,641.3 L1289.5,639.0 L1290.0,634.8 L1290.5,631.0 L1290.9,630.1 L1291.0,630.2 L1291.5,630.9 L1292.0,632.8 L1292.5,634.5 L1292.9,635.3 L1293.0,635.3 L1293.5,634.2 L1294.0,631.8 L1294.5,629.1 L1295.0,626.9 L1295.0,626.8 L1295.5,625.5 L1296.0,624.4 L1296.4,624.2 L1296.5,624.1 L1297.0,625.0 L1297.5,626.2 L1297.8,626.9 L1298.0,626.9 L1298.5,624.7 L1299.0,621.1 L1299.5,616.8 L1299.5,616.7 L1300.0,610.0 L1300.5,600.8 L1301.0,594.7 L1301.1,594.4 L1301.5,595.3 L1302.0,599.2 L1302.5,602.3 L1302.6,602.1 L1303.0,601.2 L1303.5,598.6 L1304.0,596.7 L1304.0,596.9 L1304.5,596.8 L1305.0,596.7 L1305.2,597.2 L1305.5,598.2 L1306.0,604.6 L1306.5,611.2 L1306.7,612.4 L1307.0,612.7 L1307.5,613.0 L1308.0,614.0 L1308.1,614.6 L1308.5,617.2 L1309.0,623.0 L1309.3,626.7 L1309.5,627.7 L1310.0,630.8 L1310.5,633.6 L1310.8,635.1 L1311.0,636.3 L1311.5,639.8 L1312.0,642.5 L1312.2,643.3 L1312.5,644.0 L1313.0,644.8 L1313.4,644.7"/>
<path class="rd" d="M742.9,616.2 L743.4,615.7 L743.9,615.7 L744.4,614.9 L744.5,614.6 L744.9,610.9 L745.4,600.5 L745.7,594.0 L745.9,592.5 L746.4,586.6 L746.9,582.3 L747.2,580.8 L747.4,580.4 L747.9,580.0 L748.4,579.6 L748.9,579.6 L749.4,579.4 L749.9,579.4 L750.3,579.5 L750.4,578.8 L750.9,578.1 L751.4,577.6 L751.9,578.2 L752.4,579.0 L752.9,579.4 L753.3,579.0 L753.4,578.5 L753.9,578.4 L754.4,578.1 L754.9,577.4 L755.4,577.5 L755.9,577.7 L756.0,577.4 L756.4,577.3 L756.9,576.7 L757.4,575.7 L757.4,576.1 L757.9,576.9 L758.4,577.4 L758.9,578.2 L759.4,578.9 L759.5,579.0 L759.9,580.2 L760.4,582.0 L760.9,583.5 L761.4,585.5 L761.5,586.2 L761.9,587.3 L762.4,589.5 L762.9,591.2 L763.4,593.3 L763.6,594.3 L763.9,594.9 L764.4,597.0 L764.9,599.2 L765.4,600.6 L765.6,600.9 L765.9,600.1 L766.4,599.5 L766.9,599.6 L767.4,599.4 L767.9,599.4 L768.4,599.6 L768.7,599.8 L768.9,599.2 L769.4,599.2 L769.9,600.2 L770.4,600.1 L770.9,599.1 L771.4,599.0 L771.8,599.5 L771.9,599.2 L772.4,599.4 L772.9,599.7 L773.4,600.2 L773.9,601.1 L774.4,601.1 L774.9,600.8 L775.4,601.3 L775.9,601.9 L776.4,602.1 L776.9,603.2 L777.4,603.7 L777.9,603.6 L777.9,604.2 L778.4,605.6 L778.9,606.8 L779.4,607.5 L779.9,608.3 L780.0,608.0 L780.4,607.6 L780.9,607.3 L781.4,606.0 L781.6,605.4 L781.9,605.3 L782.4,606.6 L782.9,609.4 L783.4,611.9 L783.5,612.4 L783.9,614.4 L784.4,616.8 L784.9,619.5 L785.4,622.4 L785.5,623.1 L785.9,624.6 L786.4,627.3 L786.9,629.6 L787.4,631.8 L787.6,632.5 L787.9,634.2 L788.4,637.3 L788.9,639.9 L789.4,642.5 L789.6,643.9 L789.9,644.7 L790.4,646.5 L790.9,648.1 L791.4,650.0 L791.9,651.8 L792.3,652.9 L792.4,652.9 L792.9,653.9 L793.4,655.1 L793.9,655.6 L794.4,656.2 L794.9,657.4 L795.4,658.4 L795.4,658.6 L795.9,659.1 L796.4,659.7 L796.9,660.3 L797.4,661.4 L797.9,662.5 L798.4,662.5 L798.5,662.0 L798.9,661.6 L799.4,662.0 L799.9,662.2 L800.4,661.6 L800.9,661.8 L801.1,661.0 L801.4,660.0 L801.9,659.4 L802.4,658.2 L802.9,656.3 L803.4,654.5 L803.6,654.0 L803.9,653.2 L804.4,652.1 L804.9,650.9 L805.4,649.9 L805.9,649.1 L806.1,649.0 L806.4,648.2 L806.9,647.4 L807.4,646.8 L807.9,645.9 L808.4,645.5 L808.9,645.9 L809.4,646.0 L809.7,644.9 L809.9,645.1 L810.4,645.2 L810.9,644.2 L811.4,643.2 L811.9,642.5 L812.4,641.5 L812.8,641.5 L812.9,641.7 L813.4,640.3 L813.9,639.8 L814.4,639.0 L814.9,638.2 L815.4,637.8 L815.9,636.9 L815.9,636.6 L816.4,635.8 L816.9,635.2 L817.4,634.1 L817.9,632.6 L818.4,631.8 L818.4,631.8 L818.9,630.5 L819.4,629.7 L819.9,628.6 L820.4,627.5 L820.9,627.4 L821.0,627.3 L821.4,626.7 L821.9,626.8 L822.4,627.6 L822.9,628.9 L823.1,628.9 L823.4,629.6 L823.9,630.5 L824.4,630.8 L824.9,630.6 L825.1,630.7 L825.4,631.4 L825.9,631.1 L826.4,631.4 L826.9,632.5 L827.2,632.6 L827.4,633.5 L827.9,637.7 L828.4,642.1 L828.6,643.3 L828.9,644.3 L829.4,646.6 L829.9,648.2 L830.3,649.3 L830.4,649.9 L830.9,651.6 L831.4,653.6 L831.9,654.6 L832.3,655.4 L832.4,656.0 L832.9,656.3 L833.4,656.3 L833.9,656.9 L834.4,657.7 L834.8,657.3 L834.9,657.2 L835.4,658.4 L835.9,659.4 L836.4,660.3 L836.9,661.0 L837.4,661.9 L837.4,662.6 L837.9,661.9 L838.4,661.5 L838.9,661.5 L839.4,660.4 L839.5,659.3 L839.9,658.0 L840.4,655.2 L840.9,651.8 L840.9,651.3 L841.4,649.2 L841.9,646.7 L842.4,644.4 L842.6,643.5 L842.9,642.3 L843.4,640.6 L843.9,639.6 L844.4,639.0 L844.6,638.3 L844.9,637.5 L845.4,637.2 L845.9,637.2 L846.4,636.2 L846.7,635.3 L846.9,635.6 L847.4,636.5 L847.9,636.9 L848.4,637.1 L848.9,636.5 L849.4,636.5 L849.7,637.0 L849.9,636.9 L850.4,638.1 L850.9,638.9 L851.4,638.8 L851.9,639.3 L852.4,640.0 L852.8,640.8 L852.9,640.5 L853.4,640.4 L853.9,640.6 L854.4,640.5 L854.9,640.8 L855.4,641.4 L855.9,641.7 L855.9,641.6 L856.4,641.2 L856.9,641.7 L857.4,642.6 L857.9,643.3 L858.4,643.3 L858.9,642.6 L859.0,642.2 L859.4,642.6 L859.9,643.4 L860.4,643.9 L860.9,643.6 L861.4,643.5 L861.9,644.4 L862.1,644.7 L862.4,644.2 L862.9,643.9 L863.4,643.4 L863.9,642.9 L864.4,643.1 L864.9,643.9 L865.1,644.5 L865.4,644.0 L865.9,644.1 L866.4,644.6 L866.9,645.1 L867.4,645.2 L867.9,645.1 L868.2,645.7 L868.4,645.2 L868.9,644.7 L869.4,644.9 L869.9,644.7 L870.4,644.3 L870.9,643.9 L871.3,643.7 L871.4,643.9 L871.9,643.3 L872.4,643.1 L872.9,642.3 L873.4,641.1 L873.9,640.8 L874.4,640.1 L874.4,639.6 L874.9,638.7 L875.4,638.5 L875.9,637.8 L876.4,636.3 L876.9,636.4 L877.0,636.8 L877.4,636.1 L877.9,635.4 L878.4,635.3 L878.9,635.3 L879.4,635.1 L879.5,635.1 L879.9,634.7 L880.4,634.3 L880.9,633.5 L881.4,632.8 L881.9,632.6 L881.9,632.9 L882.4,633.7 L882.9,635.0 L883.4,635.5 L883.6,636.0 L883.9,636.8 L884.4,636.6 L884.9,636.9 L885.4,637.1 L885.6,637.5 L885.9,637.3 L886.4,635.9 L886.9,634.8 L887.3,634.7 L887.4,634.2 L887.9,637.1 L888.4,640.3 L888.5,640.9 L888.9,621.4 L889.1,604.3 L889.4,595.4 L889.9,581.0 L890.2,577.7 L890.4,577.2 L890.9,576.4 L891.4,575.3 L891.8,574.8 L891.9,575.2 L892.4,574.1 L892.9,573.3 L893.4,573.0 L893.9,572.1 L894.4,572.0 L894.9,572.0 L895.4,572.1 L895.9,572.5 L896.4,572.6 L896.9,573.4 L897.4,573.8 L897.9,573.3 L897.9,573.3 L898.4,573.8 L898.9,573.7 L899.4,572.8 L899.9,572.3 L900.4,571.8 L900.4,571.3 L900.9,570.8 L901.4,569.8 L901.9,568.0 L902.4,565.9 L902.5,565.1 L902.9,562.9 L903.4,559.4 L903.9,555.1 L904.1,553.2 L904.4,550.5 L904.9,544.4 L905.4,539.1 L905.7,536.7 L905.9,536.0 L906.4,535.0 L906.9,534.6 L907.2,534.8 L907.4,534.9 L907.9,537.3 L908.4,541.4 L908.6,543.1 L908.9,544.2 L909.4,547.0 L909.9,549.4 L910.4,551.2 L910.7,552.8 L910.9,554.1 L911.4,556.8 L911.9,559.2 L912.4,561.5 L912.7,563.5 L912.9,564.3 L913.4,566.5 L913.9,568.5 L914.4,569.9 L914.8,570.5 L914.9,570.4 L915.4,571.2 L915.9,572.4 L916.4,572.7 L916.9,572.2 L917.4,571.8 L917.4,571.9 L917.9,573.0 L918.4,573.4 L918.9,572.6 L919.4,572.5 L919.9,573.2 L920.4,573.2 L920.5,572.8 L920.9,572.9 L921.4,572.9 L921.9,573.8 L922.4,573.9 L922.9,573.4 L923.2,574.0 L923.4,573.6 L923.9,570.7 L924.4,567.0 L924.6,565.3 L924.9,563.6 L925.4,559.8 L925.9,555.9 L926.3,553.0 L926.4,552.4 L926.9,548.3 L927.4,544.5 L927.7,542.9 L927.9,541.9 L928.4,540.1 L928.9,539.0 L929.4,538.0 L929.7,537.5 L929.9,537.6 L930.4,537.3 L930.9,536.6 L931.4,536.0 L931.9,536.5 L932.4,536.4 L932.4,535.7 L932.9,536.3 L933.4,538.0 L933.8,538.7 L933.9,539.0 L934.4,539.0 L934.9,538.8 L935.4,539.2 L935.9,539.1 L935.9,538.6 L936.4,539.4 L936.9,541.2 L937.4,543.1 L937.9,545.1 L937.9,545.8 L938.4,547.0 L938.9,548.4 L939.4,550.3 L939.9,551.8 L940.0,552.0 L940.4,552.9 L940.9,553.9 L941.4,554.6 L941.9,554.9 L942.4,555.6 L942.7,555.4 L942.9,555.5 L943.4,556.3 L943.9,555.6 L944.4,555.1 L944.9,555.8 L945.1,556.8 L945.4,556.6 L945.9,555.4 L946.4,554.6 L946.9,554.5 L947.4,554.3 L947.9,553.4 L948.2,553.0 L948.4,552.8 L948.9,552.2 L949.4,551.0 L949.9,549.5 L950.4,549.0 L950.9,547.9 L951.3,546.5 L951.4,546.4 L951.9,546.0 L952.4,545.0 L952.9,543.9 L953.3,542.9 L953.4,542.4 L953.9,542.4 L954.4,542.2 L954.9,541.4 L955.4,540.1 L955.4,540.3 L955.9,537.0 L956.4,531.6 L956.6,530.1 L956.9,531.5 L957.4,538.5 L957.8,542.3 L957.9,542.8 L958.4,542.5 L958.9,541.6 L959.4,540.7 L959.5,540.2 L959.9,537.8 L960.4,530.7 L960.5,528.4 L960.9,522.1 L961.3,511.9 L961.4,510.9 L961.9,494.0 L961.9,492.9 L962.4,492.0 L962.9,492.4 L963.4,492.5 L963.9,492.5 L964.4,492.7 L964.6,492.5 L964.9,492.7 L965.4,492.7 L965.9,493.3 L966.4,494.5 L966.7,494.6 L966.9,494.3 L967.4,493.8 L967.9,493.3 L968.4,492.3 L968.9,491.5 L969.3,491.4 L969.4,491.7 L969.9,489.5 L970.4,486.3 L970.9,482.8 L971.4,479.3 L971.8,476.8 L971.9,476.5 L972.4,474.1 L972.9,471.2 L973.2,469.2 L973.4,468.8 L973.9,466.8 L974.4,465.7 L974.5,466.3 L974.9,466.3 L975.4,467.5 L975.9,469.3 L975.9,469.3 L976.4,470.7 L976.9,472.3 L977.4,473.7 L977.9,474.8 L977.9,475.1 L978.4,476.6 L978.9,477.6 L979.4,478.9 L979.9,480.8 L980.4,482.4 L980.5,483.0 L980.9,485.1 L981.4,488.0 L981.9,491.2 L982.4,494.1 L982.6,495.0 L982.9,496.9 L983.4,498.8 L983.9,500.7 L984.4,502.6 L984.6,502.6 L984.9,502.6 L985.4,502.9 L985.9,503.1 L986.4,503.3 L986.7,503.8 L986.9,504.3 L987.4,504.9 L987.9,506.6 L988.4,509.0 L988.7,510.3 L988.9,510.6 L989.4,512.7 L989.9,515.1 L990.4,516.3 L990.4,516.5 L990.9,514.6 L991.4,511.1 L991.9,507.7 L992.4,505.5 L992.4,504.9 L992.9,505.8 L993.4,507.2 L993.8,508.5 L993.9,507.8 L994.4,507.8 L994.9,508.1 L995.4,506.6 L995.9,505.8 L996.4,505.4 L996.9,504.1 L996.9,503.8 L997.4,502.4 L997.9,501.0 L998.4,499.4 L998.9,497.6 L999.0,497.6 L999.4,496.1 L999.9,493.6 L1000.4,491.6 L1000.9,490.0 L1001.0,489.6 L1001.4,488.3 L1001.9,486.9 L1002.4,485.9 L1002.9,484.4 L1003.4,483.3 L1003.5,482.8 L1003.9,482.1 L1004.4,481.8 L1004.9,481.4 L1005.4,481.1 L1005.9,480.1 L1006.2,480.5 L1006.4,481.0 L1006.9,481.4 L1007.4,482.5 L1007.9,482.7 L1008.2,482.2 L1008.4,481.8 L1008.9,478.2 L1009.4,474.4 L1009.6,474.2 L1009.9,474.9 L1010.4,479.7 L1010.9,485.2 L1011.4,489.3 L1011.9,491.2 L1011.9,491.1 L1012.4,488.1 L1012.9,479.9 L1012.9,478.9 L1013.4,452.5 L1013.7,434.1 L1013.9,432.8 L1014.4,429.1 L1014.9,427.8 L1015.0,427.8 L1015.4,427.7 L1015.9,427.1 L1016.4,427.0 L1016.9,426.7 L1017.0,426.3 L1017.4,425.5 L1017.9,422.7 L1018.1,421.4 L1018.4,419.4 L1018.9,415.8 L1019.4,413.1 L1019.5,413.0 L1019.9,415.0 L1020.4,421.2 L1020.5,423.6 L1020.9,439.5 L1021.1,454.3 L1021.4,467.5 L1021.7,485.1 L1021.9,489.5 L1022.4,500.2 L1022.4,500.7 L1022.9,496.1 L1023.4,488.9 L1023.6,487.2 L1023.9,486.0 L1024.4,484.7 L1024.9,484.0 L1025.2,484.0 L1025.4,484.2 L1025.9,484.8 L1026.4,486.5 L1026.9,487.7 L1027.3,488.0 L1027.4,488.0 L1027.9,487.9 L1028.4,487.4 L1028.9,486.6 L1029.3,486.6 L1029.4,486.8 L1029.9,486.6 L1030.4,487.5 L1030.9,488.9 L1031.4,489.8 L1031.4,490.0 L1031.9,490.6 L1032.4,491.1 L1032.9,492.2 L1033.4,493.3 L1033.4,493.5 L1033.9,494.0 L1034.4,494.3 L1034.9,494.9 L1035.4,495.9 L1035.5,496.2 L1035.9,498.2 L1036.4,502.2 L1036.5,503.3 L1036.9,506.3 L1037.3,511.9 L1037.4,512.6 L1037.9,527.5 L1037.9,528.4 L1038.4,529.5 L1038.9,530.5 L1039.4,531.4 L1039.9,531.7 L1040.4,531.5 L1040.4,531.8 L1040.9,532.8 L1041.4,533.0 L1041.9,533.6 L1042.4,533.4 L1042.9,533.6 L1043.4,534.0 L1043.9,533.8 L1044.1,534.3 L1044.4,533.6 L1044.9,533.2 L1045.4,533.2 L1045.9,533.1 L1046.4,532.6 L1046.9,532.7 L1047.2,533.2 L1047.4,532.5 L1047.9,531.8 L1048.4,531.9 L1048.9,531.7 L1049.4,531.2 L1049.9,530.8 L1050.3,530.7 L1050.4,530.5 L1050.9,530.8 L1051.4,531.6 L1051.9,531.7 L1052.3,532.5 L1052.4,533.0 L1052.9,532.1 L1053.4,530.8 L1053.9,529.9 L1054.4,528.6 L1054.9,527.3 L1055.4,527.0 L1055.4,527.1 L1055.9,529.4 L1056.4,534.0 L1056.8,538.5 L1056.9,539.1 L1057.4,545.5 L1057.9,551.5 L1058.1,553.2 L1058.4,555.3 L1058.9,557.9 L1059.4,560.0 L1059.5,560.1 L1059.9,559.4 L1060.4,558.9 L1060.9,558.8 L1061.4,558.9 L1061.9,558.8 L1062.4,558.5 L1062.6,558.8 L1062.9,559.3 L1063.4,559.3 L1063.9,559.2 L1064.4,558.6 L1064.9,559.0 L1065.4,559.7 L1065.6,559.4 L1065.9,559.9 L1066.4,559.9 L1066.9,559.1 L1067.4,558.6 L1067.9,557.9 L1068.4,557.0 L1068.7,556.3 L1068.9,555.7 L1069.4,551.3 L1069.9,545.5 L1070.2,542.7 L1070.4,540.8 L1070.9,535.6 L1071.4,530.8 L1071.8,528.0 L1071.9,527.6 L1072.4,526.8 L1072.9,526.3 L1073.4,525.2 L1073.8,524.2 L1073.9,524.7 L1074.4,524.0 L1074.9,522.7 L1075.4,521.6 L1075.9,521.4 L1075.9,521.5 L1076.4,521.3 L1076.9,522.8 L1077.4,524.4 L1077.9,525.4 L1077.9,525.1 L1078.4,525.6 L1078.9,526.6 L1079.4,527.5 L1079.9,528.4 L1080.4,529.1 L1080.9,529.6 L1081.0,530.2 L1081.4,530.5 L1081.9,530.8 L1082.4,531.6 L1082.9,532.4 L1083.1,532.5 L1083.4,533.1 L1083.9,534.4 L1084.4,535.7 L1084.9,537.1 L1085.1,538.1 L1085.4,538.3 L1085.9,538.4 L1086.4,539.0 L1086.9,539.5 L1087.4,540.5 L1087.9,541.2 L1088.2,541.3 L1088.4,541.4 L1088.9,542.0 L1089.4,542.6 L1089.9,543.5 L1090.4,543.9 L1090.9,543.6 L1091.4,543.5 L1091.7,543.8 L1091.9,544.3 L1092.4,543.7 L1092.9,543.0 L1093.4,542.5 L1093.9,540.9 L1094.4,540.6 L1094.4,541.4 L1094.9,539.8 L1095.4,538.2 L1095.9,537.6 L1096.4,537.3 L1096.9,537.0 L1097.0,537.0 L1097.4,537.3 L1097.9,537.3 L1098.4,537.2 L1098.9,537.9 L1099.4,538.0 L1099.9,538.4 L1100.4,538.8 L1100.5,538.7 L1100.9,538.9 L1101.4,539.0 L1101.9,539.6 L1102.4,541.5 L1102.9,542.3 L1103.4,541.9 L1103.6,542.0 L1103.9,542.1 L1104.4,542.5 L1104.9,541.8 L1105.4,540.5 L1105.9,540.6 L1106.4,540.0 L1106.7,539.1 L1106.9,539.3 L1107.4,539.9 L1107.9,541.0 L1108.4,542.0 L1108.9,542.4 L1109.4,543.1 L1109.7,542.8 L1109.9,542.6 L1110.4,543.5 L1110.9,543.9 L1111.4,544.6 L1111.9,544.6 L1112.4,545.6 L1112.9,546.8 L1113.4,546.9 L1113.8,546.2 L1113.9,546.9 L1114.4,546.2 L1114.9,545.4 L1115.4,545.5 L1115.9,544.8 L1116.4,544.9 L1116.9,544.6 L1116.9,544.6 L1117.4,544.4 L1117.9,543.9 L1118.4,543.7 L1118.9,543.4 L1119.0,543.1 L1119.4,542.8 L1119.9,542.4 L1120.4,542.6 L1120.9,543.2 L1121.4,542.8 L1121.9,542.7 L1122.1,542.6 L1122.4,542.5 L1122.9,542.2 L1123.4,542.0 L1123.9,542.3 L1124.4,542.0 L1124.9,540.9 L1125.1,540.8 L1125.4,541.1 L1125.9,540.9 L1126.4,540.8 L1126.9,540.2 L1127.4,539.5 L1127.9,538.9 L1128.2,538.5 L1128.4,538.3 L1128.9,538.2 L1129.4,537.2 L1129.9,536.2 L1130.4,536.2 L1130.9,535.4 L1131.3,534.7 L1131.4,534.9 L1131.9,534.4 L1132.4,533.7 L1132.9,533.1 L1133.4,532.6 L1133.9,531.9 L1134.4,531.5 L1134.4,531.8 L1134.9,531.4 L1135.4,531.5 L1135.9,532.5 L1136.4,533.3 L1136.8,533.8 L1136.9,533.8 L1137.4,534.6 L1137.9,536.1 L1138.4,537.1 L1138.9,537.9 L1139.4,539.4 L1139.9,540.8 L1140.4,542.0 L1140.9,543.3 L1141.1,544.0 L1141.4,544.6 L1141.9,547.3 L1142.4,550.7 L1142.9,553.4 L1143.2,554.6 L1143.4,555.5 L1143.9,558.1 L1144.4,560.1 L1144.9,561.8 L1145.2,562.4 L1145.4,562.2 L1145.9,562.7 L1146.4,563.5 L1146.9,564.2 L1147.4,564.8 L1147.9,565.0 L1148.3,564.5 L1148.4,564.3 L1148.9,564.9 L1149.4,565.3 L1149.9,565.4 L1150.4,565.4 L1150.9,565.3 L1151.4,565.4 L1151.8,565.4 L1151.9,565.6 L1152.4,566.0 L1152.9,565.3 L1153.4,564.1 L1153.8,562.8 L1153.9,562.9 L1154.4,562.3 L1154.9,561.2 L1155.4,559.9 L1155.9,558.6 L1155.9,558.2 L1156.4,556.9 L1156.9,556.0 L1157.4,554.5 L1157.9,553.4 L1157.9,553.0 L1158.4,551.9 L1158.9,551.2 L1159.4,550.5 L1159.9,549.3 L1160.0,549.1 L1160.4,549.3 L1160.9,547.9 L1161.4,547.3 L1161.4,547.3 L1161.9,549.6 L1162.4,555.0 L1162.7,557.1 L1162.9,558.4 L1163.4,561.2 L1163.9,562.8 L1164.1,563.5 L1164.4,564.1 L1164.9,564.6 L1165.4,565.1 L1165.9,565.7 L1166.4,565.5 L1166.9,565.5 L1167.2,566.0 L1167.4,565.9 L1167.9,566.0 L1168.4,565.9 L1168.9,565.0 L1169.4,565.4 L1169.9,566.1 L1170.3,565.9 L1170.4,565.6 L1170.9,566.2 L1171.4,566.1 L1171.9,564.7 L1172.4,564.3 L1172.9,564.1 L1173.3,563.1 L1173.4,563.1 L1173.9,561.9 L1174.4,560.2 L1174.9,559.0 L1175.4,557.6 L1175.4,557.4 L1175.9,555.8 L1176.4,554.0 L1176.9,552.3 L1177.0,552.2 L1177.4,550.8 L1177.9,549.2 L1178.4,548.4 L1178.9,547.9 L1179.1,548.0 L1179.4,548.0 L1179.9,548.2 L1180.4,547.9 L1180.5,547.4 L1180.9,547.1 L1181.4,545.1 L1181.9,542.9 L1182.4,542.0 L1182.6,542.1 L1182.9,541.8 L1183.4,542.4 L1183.9,543.5 L1184.4,544.5 L1184.6,545.2 L1184.9,545.3 L1185.4,545.6 L1185.9,546.6 L1186.4,548.3 L1186.7,548.8 L1186.9,548.6 L1187.4,549.9 L1187.9,550.8 L1188.4,551.1 L1188.9,551.9 L1189.1,552.5 L1189.4,553.6 L1189.9,554.4 L1190.4,554.5 L1190.9,555.0 L1191.4,555.2 L1191.8,555.4 L1191.9,555.5 L1192.4,555.8 L1192.9,555.7 L1193.4,554.6 L1193.9,554.5 L1194.4,554.8 L1194.9,554.1 L1195.4,553.5 L1195.9,552.7 L1196.4,552.3 L1196.9,551.8 L1197.4,550.3 L1197.9,548.9 L1197.9,548.9 L1198.4,548.4 L1198.9,547.3 L1199.4,546.1 L1199.9,545.5 L1200.4,544.5 L1200.9,543.2 L1201.0,543.3 L1201.4,542.0 L1201.9,540.6 L1202.4,540.0 L1202.9,539.2 L1203.1,538.3 L1203.4,538.2 L1203.9,539.1 L1204.4,538.9 L1204.9,538.1 L1205.1,537.5 L1205.4,537.0 L1205.9,535.1 L1206.4,532.7 L1206.8,531.4 L1206.9,531.9 L1207.4,532.7 L1207.9,533.4 L1208.2,533.6 L1208.4,533.7 L1208.9,532.4 L1209.2,531.5 L1209.4,534.9 L1209.8,563.2 L1209.9,564.1 L1210.4,579.8 L1210.9,587.4 L1211.4,584.6 L1211.9,580.6 L1212.3,579.1 L1212.4,578.3 L1212.9,578.1 L1213.4,578.1 L1213.9,577.7 L1214.4,577.6 L1214.9,577.7 L1215.4,577.3 L1215.4,577.7 L1215.9,579.0 L1216.4,578.8 L1216.9,578.6 L1217.4,579.1 L1217.9,579.2 L1218.4,579.1 L1218.5,579.4 L1218.9,579.8 L1219.4,579.4 L1219.9,579.1 L1220.4,579.2 L1220.9,578.7 L1221.4,578.5 L1221.5,578.0 L1221.9,577.7 L1222.4,578.5 L1222.9,579.2 L1223.4,579.6 L1223.9,580.1 L1224.4,579.7 L1224.6,579.5 L1224.9,579.6 L1225.4,580.2 L1225.9,581.4 L1226.4,582.4 L1226.7,582.9 L1226.9,582.9 L1227.4,583.3 L1227.9,583.7 L1228.4,584.7 L1228.9,585.2 L1229.4,585.0 L1229.7,584.3 L1229.9,583.7 L1230.4,584.2 L1230.9,584.7 L1231.4,584.8 L1231.9,584.5 L1232.4,583.9 L1232.8,583.1 L1232.9,583.5 L1233.4,583.7 L1233.9,583.2 L1234.4,581.9 L1234.9,581.1 L1235.4,581.3 L1235.9,580.6 L1235.9,580.0 L1236.4,580.4 L1236.9,581.2 L1237.4,582.1 L1237.9,582.6 L1237.9,583.1 L1238.4,582.7 L1238.9,580.7 L1239.4,578.6 L1239.6,577.6 L1239.9,575.6 L1240.4,571.5 L1240.9,566.8 L1241.0,565.4 L1241.4,561.9 L1241.9,556.3 L1242.4,551.4 L1242.7,548.8 L1242.9,547.7 L1243.4,545.1 L1243.9,542.5 L1244.4,540.8 L1244.5,540.3 L1244.9,540.5 L1245.4,540.0 L1245.9,537.7 L1246.2,538.1 L1246.4,539.3 L1246.9,539.3 L1247.4,540.4 L1247.9,541.6 L1248.2,541.7 L1248.4,542.1 L1248.9,542.9 L1249.4,543.1 L1249.9,543.3 L1250.4,543.2 L1250.9,543.5 L1251.3,543.6 L1251.4,543.4 L1251.9,544.4 L1252.4,545.3 L1252.9,545.9 L1253.4,546.7 L1253.9,547.1 L1254.4,548.1 L1254.4,548.0 L1254.9,548.1 L1255.4,548.9 L1255.9,550.1 L1256.4,550.9 L1256.9,550.9 L1257.4,550.7 L1257.4,550.9 L1257.9,551.2 L1258.4,551.8 L1258.9,552.6 L1259.4,552.8 L1259.9,552.2 L1260.4,551.8 L1260.5,551.8 L1260.9,552.2 L1261.4,552.7 L1261.9,552.0 L1262.4,551.6 L1262.9,551.9 L1263.4,552.4 L1263.6,551.8 L1263.9,550.9 L1264.4,551.5 L1264.9,551.5 L1265.4,551.5 L1265.9,551.4 L1266.4,551.4 L1266.7,551.1 L1266.9,550.8 L1267.4,550.2 L1267.9,550.8 L1268.4,550.9 L1268.9,550.2 L1269.4,550.7 L1269.7,550.3 L1269.9,549.7 L1270.4,550.2 L1270.9,550.4 L1271.4,551.0 L1271.9,552.6 L1272.4,553.0 L1272.8,551.6 L1272.9,551.3 L1273.4,552.4 L1273.9,552.4 L1274.4,552.9 L1274.9,553.0 L1275.4,553.0 L1275.9,553.0 L1275.9,552.4 L1276.4,552.8 L1276.9,553.4 L1277.4,552.9 L1277.9,552.9 L1278.4,552.8 L1278.9,551.7 L1279.0,551.5 L1279.4,551.4 L1279.9,551.3 L1280.4,551.2 L1280.9,550.4 L1281.4,550.0 L1281.9,549.2 L1282.1,548.8 L1282.4,548.8 L1282.9,547.6 L1283.4,547.1 L1283.9,547.1 L1284.4,547.1 L1284.9,546.9 L1285.1,546.8 L1285.4,547.1 L1285.9,546.3 L1286.4,546.7 L1286.9,547.6 L1287.4,547.5 L1287.9,547.4 L1288.2,547.9 L1288.4,547.9 L1288.9,547.6 L1289.4,547.8 L1289.9,547.3 L1290.4,546.7 L1290.9,546.8 L1291.3,547.0 L1291.4,546.5 L1291.9,546.8 L1292.4,547.6 L1292.9,547.9 L1293.4,547.6 L1293.9,548.2 L1294.4,549.1 L1294.4,549.1 L1294.9,549.6 L1295.4,549.7 L1295.9,550.4 L1296.4,551.2 L1296.9,552.4 L1297.0,552.3 L1297.4,551.9 L1297.9,553.0 L1298.4,554.3 L1298.9,554.6 L1299.4,554.3 L1299.5,554.6 L1299.9,555.1 L1300.4,555.3 L1300.9,555.7 L1301.4,555.8 L1301.9,555.2 L1302.4,555.2 L1302.6,555.6 L1302.9,555.8 L1303.4,554.7 L1303.9,554.4 L1304.4,555.4 L1304.9,555.8 L1305.4,555.5 L1305.6,555.0 L1305.9,554.5 L1306.4,554.6 L1306.9,555.4 L1307.4,554.7 L1307.9,554.2 L1308.4,554.1 L1308.7,554.2 L1308.9,554.2 L1309.4,553.2 L1309.9,552.4 L1310.4,551.6 L1310.8,551.3 L1310.9,552.0 L1311.4,552.0 L1311.9,551.2 L1312.4,551.7 L1312.9,552.7 L1313.4,552.8 L1313.4,552.3"/>
</g>
<rect class="sp" x="742.4" y="369.0" width="570.9" height="294.5"/>
<path class="sp" d="M771.55,663.5v4 M895.35,663.5v4 M1019.15,663.5v4 M1142.95,663.5v4 M1266.75,663.5v4 M742.4,663.5h-4 M742.4,584.7h-4 M742.4,505.9h-4 M742.4,427.1h-4 M1313.3,663.5h4 M1313.3,565.4h4 M1313.3,467.2h4 M1313.3,369.0h4"/>
<text class="tk" transform="translate(771.5,693.5) scale(1,1.06)" text-anchor="middle"><tspan class="mn" dy="1.6" stroke-width="0.45">−</tspan><tspan dy="-1.6" dx="-0.5">40</tspan></text>
<text class="tk" transform="translate(895.4,693.5) scale(1,1.06)" text-anchor="middle"><tspan class="mn" dy="1.6" stroke-width="0.45">−</tspan><tspan dy="-1.6" dx="-0.5">20</tspan></text>
<text class="tk" transform="translate(1019.1,693.5) scale(1,1.06)" text-anchor="middle">0</text>
<text class="tk" transform="translate(1143.0,693.5) scale(1,1.06)" text-anchor="middle">20</text>
<text class="tk" transform="translate(1266.8,693.5) scale(1,1.06)" text-anchor="middle">40</text>
<text class="tk" transform="translate(734.6,675.1) scale(1,1.06)" text-anchor="end">0</text>
<text class="tk" transform="translate(734.6,596.3) scale(1,1.06)" text-anchor="end">2</text>
<text class="tk" transform="translate(734.6,517.5) scale(1,1.06)" text-anchor="end">4</text>
<text class="tk" transform="translate(734.6,438.7) scale(1,1.06)" text-anchor="end">6</text>
<text class="tk" transform="translate(1320.5,675.1) scale(1,1.06)" text-anchor="start">0</text>
<text class="pi" x="1344.9" y="675.3">π</text>
<text class="tk" transform="translate(1320.5,577.0) scale(1,1.06)" text-anchor="start">2</text>
<text class="pi" x="1344.9" y="577.1">π</text>
<text class="tk" transform="translate(1320.5,478.8) scale(1,1.06)" text-anchor="start">4</text>
<text class="pi" x="1344.9" y="479.0">π</text>
<text class="tk" transform="translate(1320.5,380.6) scale(1,1.06)" text-anchor="start">6</text>
<text class="pi" x="1344.9" y="380.8">π</text>
<text class="lb" x="749.70" y="398.20">d)</text>
<text class="lb" x="1307.5" y="397.30" text-anchor="end">8L<tspan class="sm">nl</tspan></text>
</g>
<text transform="translate(29.8,159.7) rotate(-90)" text-anchor="middle" font-family='"DejaVu Sans", "Liberation Sans", sans-serif' font-size="31.6" fill="#0000ff">|<tspan font-style="italic">ψ</tspan>|<tspan font-size="22.4" dy="-12.2">2</tspan></text>
<text transform="translate(1392,160) rotate(-90)" text-anchor="middle" font-family='"Liberation Serif", serif' font-size="33" fill="#ff0000">Phase (rad)</text>
<text transform="translate(29.8,515.5) rotate(-90)" text-anchor="middle" font-family='"DejaVu Sans", "Liberation Sans", sans-serif' font-size="31.6" fill="#0000ff">|<tspan font-style="italic">ψ</tspan>|<tspan font-size="22.4" dy="-12.2">2</tspan></text>
<text transform="translate(1392,515.8) rotate(-90)" text-anchor="middle" font-family='"Liberation Serif", serif' font-size="33" fill="#ff0000">Phase (rad)</text>
<text transform="translate(369.09999999999997,729.8) scale(1.22,0.95)" text-anchor="middle" font-family='"Liberation Serif", serif' font-size="33" fill="#000">t</text>
<text transform="translate(1028.2,729.8) scale(1.22,0.95)" text-anchor="middle" font-family='"Liberation Serif", serif' font-size="33" fill="#000">t</text>
</svg></body></html>
